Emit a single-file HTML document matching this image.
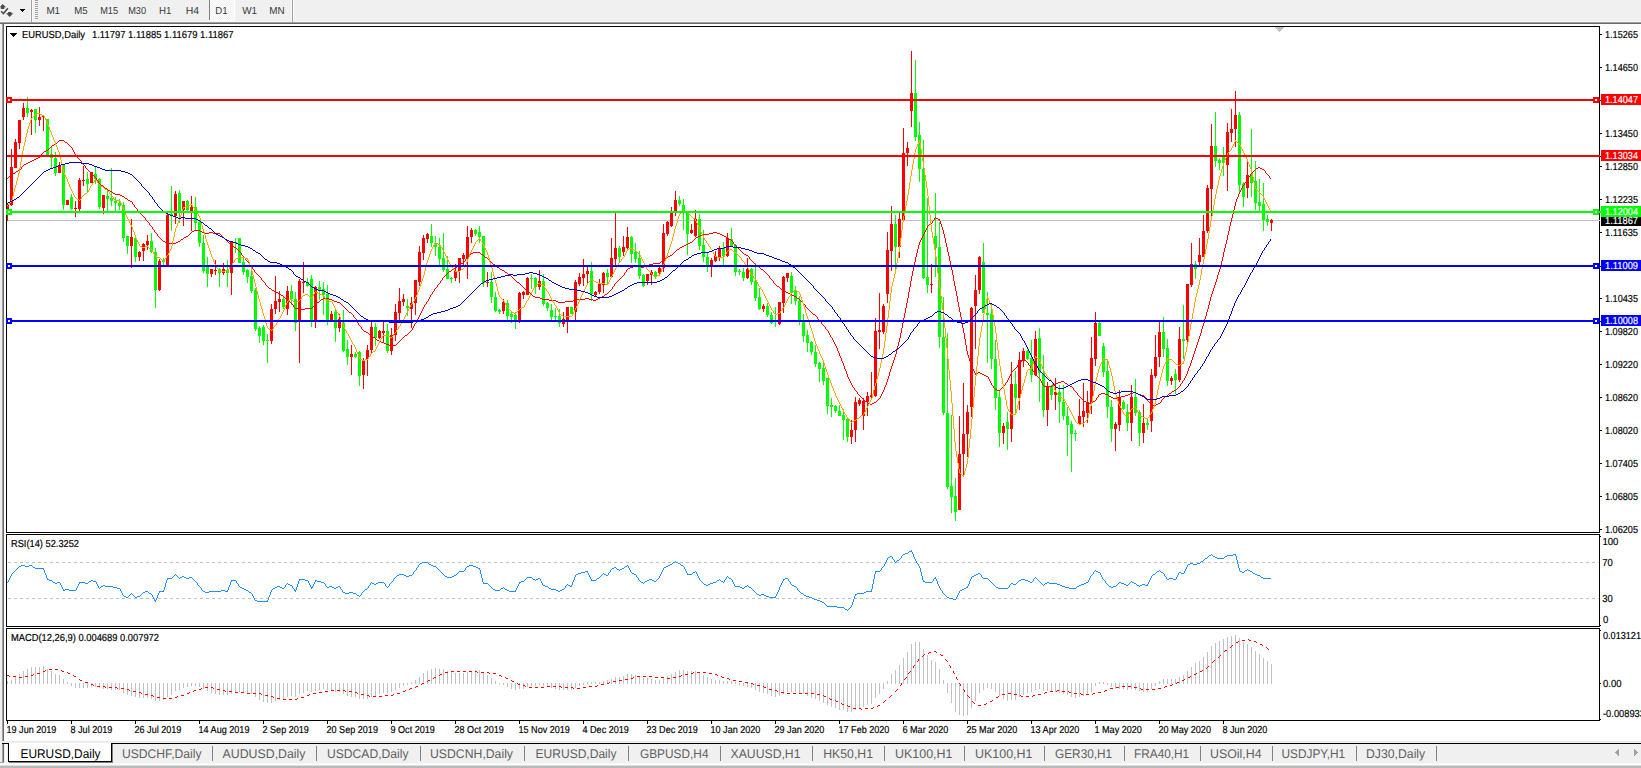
<!DOCTYPE html>
<html><head><meta charset="utf-8"><title>EURUSD,Daily</title>
<style>html,body{margin:0;padding:0;background:#f0f0f0;overflow:hidden}svg{display:block}text{font-family:"Liberation Sans",sans-serif;text-rendering:geometricPrecision;stroke-width:0.18px;paint-order:stroke}</style></head>
<body><svg width="1641" height="768" viewBox="0 0 1641 768" shape-rendering="crispEdges">
<defs><pattern id="ck" width="2" height="2" patternUnits="userSpaceOnUse"><rect width="2" height="2" fill="#f0f0f0"/><rect width="1" height="1" fill="#fff"/><rect x="1" y="1" width="1" height="1" fill="#fff"/></pattern><clipPath id="cm"><rect x="7" y="27" width="1592" height="505"/></clipPath></defs>
<rect x="0" y="0" width="1641" height="768" fill="#f0f0f0"/>
<rect x="4" y="24" width="1637" height="718" fill="#ffffff"/>
<rect x="0" y="21" width="1641" height="1" fill="#f6f6f6"/>
<rect x="0" y="22" width="1641" height="1" fill="#a0a0a0"/>
<rect x="0" y="23" width="1641" height="1" fill="#696969"/>
<rect x="0" y="24" width="2" height="718" fill="#f0f0f0"/>
<rect x="2" y="24" width="1" height="717" fill="#a0a0a0"/>
<rect x="3" y="24" width="1" height="717" fill="#696969"/>
<rect x="30" y="0" width="1" height="21" fill="#f8f8f8"/>
<rect x="31" y="0" width="1" height="22" fill="#a0a0a0"/>
<rect x="32" y="0" width="1" height="21" fill="#ffffff"/>
<rect x="35" y="0" width="3" height="1" fill="#a0a0a0"/>
<rect x="35" y="2" width="3" height="1" fill="#a0a0a0"/>
<rect x="35" y="4" width="3" height="1" fill="#a0a0a0"/>
<rect x="35" y="6" width="3" height="1" fill="#a0a0a0"/>
<rect x="35" y="8" width="3" height="1" fill="#a0a0a0"/>
<rect x="35" y="10" width="3" height="1" fill="#a0a0a0"/>
<rect x="35" y="12" width="3" height="1" fill="#a0a0a0"/>
<rect x="35" y="14" width="3" height="1" fill="#a0a0a0"/>
<rect x="35" y="16" width="3" height="1" fill="#a0a0a0"/>
<rect x="35" y="18" width="3" height="1" fill="#a0a0a0"/>
<rect x="210" y="0" width="24" height="20" fill="url(#ck)"/>
<rect x="209" y="0" width="1" height="20" fill="#808080"/>
<rect x="234" y="0" width="1" height="21" fill="#ffffff"/>
<rect x="209" y="20" width="26" height="1" fill="#ffffff"/>
<rect x="291" y="0" width="1" height="21" fill="#f8f8f8"/>
<rect x="292" y="0" width="1" height="22" fill="#a0a0a0"/>
<rect x="293" y="0" width="1" height="21" fill="#ffffff"/>
<g shape-rendering="auto"><path d="M-0.3 7.3 L2.6 3.9 L6 7.3 L4.3 7.3 L4.3 9 L0.9 9 L0.9 7.3 Z" fill="#4a4a4a"/><path d="M1.1 11.3 L3.4 13.6 L7.9 8.2" stroke="#4a4a4a" stroke-width="1.5" fill="none"/><path d="M6 13.2 L8 13.2 L8 11.9 L11.3 11.9 L11.3 13.2 L13.3 13.2 L9.65 17.1 Z" fill="#4a4a4a"/></g>
<rect x="20" y="9" width="5" height="1" fill="#000"/>
<rect x="21" y="10" width="3" height="1" fill="#000"/>
<rect x="22" y="11" width="1" height="1" fill="#000"/>
<rect x="7" y="220" width="1592" height="1" fill="#c0c0c0"/>
<g clip-path="url(#cm)">
<rect x="7" y="203" width="1" height="18" fill="#ff0000"/>
<rect x="6" y="204" width="3" height="9" fill="#ff0000"/>
<rect x="11" y="149" width="1" height="57" fill="#ff0000"/>
<rect x="10" y="167" width="3" height="38" fill="#ff0000"/>
<rect x="15" y="139" width="1" height="29" fill="#ff0000"/>
<rect x="14" y="142" width="3" height="26" fill="#ff0000"/>
<rect x="19" y="120" width="1" height="29" fill="#ff0000"/>
<rect x="18" y="120" width="3" height="23" fill="#ff0000"/>
<rect x="23" y="103" width="1" height="17" fill="#ff0000"/>
<rect x="22" y="108" width="3" height="9" fill="#ff0000"/>
<rect x="27" y="97" width="1" height="20" fill="#00ff00"/>
<rect x="26" y="108" width="3" height="5" fill="#00ff00"/>
<rect x="31" y="109" width="1" height="26" fill="#ff0000"/>
<rect x="30" y="110" width="3" height="2" fill="#ff0000"/>
<rect x="35" y="109" width="1" height="24" fill="#00ff00"/>
<rect x="34" y="109" width="3" height="11" fill="#00ff00"/>
<rect x="39" y="107" width="1" height="19" fill="#ff0000"/>
<rect x="38" y="117" width="3" height="3" fill="#ff0000"/>
<rect x="43" y="115" width="1" height="16" fill="#ff0000"/>
<rect x="42" y="116" width="3" height="1" fill="#ff0000"/>
<rect x="47" y="119" width="1" height="36" fill="#00ff00"/>
<rect x="46" y="119" width="3" height="36" fill="#00ff00"/>
<rect x="51" y="147" width="1" height="21" fill="#00ff00"/>
<rect x="50" y="154" width="3" height="4" fill="#00ff00"/>
<rect x="55" y="152" width="1" height="24" fill="#00ff00"/>
<rect x="54" y="158" width="3" height="15" fill="#00ff00"/>
<rect x="59" y="162" width="1" height="11" fill="#ff0000"/>
<rect x="58" y="166" width="3" height="7" fill="#ff0000"/>
<rect x="63" y="165" width="1" height="45" fill="#00ff00"/>
<rect x="62" y="165" width="3" height="40" fill="#00ff00"/>
<rect x="67" y="200" width="1" height="5" fill="#ff0000"/>
<rect x="66" y="200" width="3" height="5" fill="#ff0000"/>
<rect x="71" y="194" width="1" height="16" fill="#00ff00"/>
<rect x="70" y="197" width="3" height="12" fill="#00ff00"/>
<rect x="75" y="201" width="1" height="16" fill="#ff0000"/>
<rect x="74" y="208" width="3" height="1" fill="#ff0000"/>
<rect x="79" y="178" width="1" height="33" fill="#ff0000"/>
<rect x="78" y="180" width="3" height="29" fill="#ff0000"/>
<rect x="83" y="166" width="1" height="20" fill="#ff0000"/>
<rect x="82" y="180" width="3" height="1" fill="#ff0000"/>
<rect x="87" y="172" width="1" height="20" fill="#00ff00"/>
<rect x="86" y="179" width="3" height="5" fill="#00ff00"/>
<rect x="91" y="172" width="1" height="11" fill="#ff0000"/>
<rect x="90" y="172" width="3" height="11" fill="#ff0000"/>
<rect x="95" y="167" width="1" height="17" fill="#00ff00"/>
<rect x="94" y="174" width="3" height="5" fill="#00ff00"/>
<rect x="99" y="178" width="1" height="31" fill="#00ff00"/>
<rect x="98" y="179" width="3" height="28" fill="#00ff00"/>
<rect x="103" y="195" width="1" height="19" fill="#ff0000"/>
<rect x="102" y="195" width="3" height="13" fill="#ff0000"/>
<rect x="107" y="189" width="1" height="22" fill="#00ff00"/>
<rect x="106" y="196" width="3" height="3" fill="#00ff00"/>
<rect x="111" y="168" width="1" height="38" fill="#00ff00"/>
<rect x="110" y="198" width="3" height="3" fill="#00ff00"/>
<rect x="115" y="197" width="1" height="15" fill="#00ff00"/>
<rect x="114" y="201" width="3" height="2" fill="#00ff00"/>
<rect x="119" y="199" width="1" height="11" fill="#00ff00"/>
<rect x="118" y="203" width="3" height="3" fill="#00ff00"/>
<rect x="123" y="202" width="1" height="40" fill="#00ff00"/>
<rect x="122" y="205" width="3" height="33" fill="#00ff00"/>
<rect x="127" y="236" width="1" height="18" fill="#00ff00"/>
<rect x="126" y="236" width="3" height="10" fill="#00ff00"/>
<rect x="131" y="219" width="1" height="49" fill="#ff0000"/>
<rect x="130" y="237" width="3" height="9" fill="#ff0000"/>
<rect x="135" y="237" width="1" height="25" fill="#00ff00"/>
<rect x="134" y="238" width="3" height="19" fill="#00ff00"/>
<rect x="139" y="251" width="1" height="10" fill="#ff0000"/>
<rect x="138" y="252" width="3" height="5" fill="#ff0000"/>
<rect x="143" y="243" width="1" height="18" fill="#ff0000"/>
<rect x="142" y="244" width="3" height="7" fill="#ff0000"/>
<rect x="147" y="235" width="1" height="15" fill="#ff0000"/>
<rect x="146" y="241" width="3" height="4" fill="#ff0000"/>
<rect x="151" y="233" width="1" height="20" fill="#00ff00"/>
<rect x="150" y="241" width="3" height="11" fill="#00ff00"/>
<rect x="155" y="248" width="1" height="60" fill="#00ff00"/>
<rect x="154" y="252" width="3" height="38" fill="#00ff00"/>
<rect x="159" y="259" width="1" height="32" fill="#ff0000"/>
<rect x="158" y="261" width="3" height="29" fill="#ff0000"/>
<rect x="163" y="258" width="1" height="7" fill="#00ff00"/>
<rect x="162" y="260" width="3" height="2" fill="#00ff00"/>
<rect x="167" y="212" width="1" height="53" fill="#ff0000"/>
<rect x="166" y="215" width="3" height="50" fill="#ff0000"/>
<rect x="171" y="186" width="1" height="45" fill="#00ff00"/>
<rect x="170" y="214" width="3" height="1" fill="#00ff00"/>
<rect x="175" y="191" width="1" height="33" fill="#ff0000"/>
<rect x="174" y="194" width="3" height="22" fill="#ff0000"/>
<rect x="179" y="190" width="1" height="33" fill="#00ff00"/>
<rect x="178" y="193" width="3" height="18" fill="#00ff00"/>
<rect x="183" y="201" width="1" height="25" fill="#ff0000"/>
<rect x="182" y="201" width="3" height="9" fill="#ff0000"/>
<rect x="187" y="200" width="1" height="11" fill="#00ff00"/>
<rect x="186" y="201" width="3" height="9" fill="#00ff00"/>
<rect x="191" y="196" width="1" height="35" fill="#ff0000"/>
<rect x="190" y="207" width="3" height="4" fill="#ff0000"/>
<rect x="195" y="197" width="1" height="33" fill="#00ff00"/>
<rect x="194" y="207" width="3" height="16" fill="#00ff00"/>
<rect x="199" y="220" width="1" height="27" fill="#00ff00"/>
<rect x="198" y="222" width="3" height="21" fill="#00ff00"/>
<rect x="203" y="235" width="1" height="38" fill="#00ff00"/>
<rect x="202" y="243" width="3" height="28" fill="#00ff00"/>
<rect x="207" y="257" width="1" height="30" fill="#00ff00"/>
<rect x="206" y="267" width="3" height="7" fill="#00ff00"/>
<rect x="211" y="269" width="1" height="8" fill="#ff0000"/>
<rect x="210" y="269" width="3" height="5" fill="#ff0000"/>
<rect x="215" y="260" width="1" height="15" fill="#ff0000"/>
<rect x="214" y="270" width="3" height="1" fill="#ff0000"/>
<rect x="219" y="268" width="1" height="19" fill="#00ff00"/>
<rect x="218" y="269" width="3" height="4" fill="#00ff00"/>
<rect x="223" y="263" width="1" height="12" fill="#ff0000"/>
<rect x="222" y="269" width="3" height="4" fill="#ff0000"/>
<rect x="227" y="260" width="1" height="27" fill="#00ff00"/>
<rect x="226" y="270" width="3" height="3" fill="#00ff00"/>
<rect x="231" y="241" width="1" height="54" fill="#ff0000"/>
<rect x="230" y="241" width="3" height="32" fill="#ff0000"/>
<rect x="235" y="238" width="1" height="15" fill="#00ff00"/>
<rect x="234" y="242" width="3" height="1" fill="#00ff00"/>
<rect x="239" y="238" width="1" height="25" fill="#00ff00"/>
<rect x="238" y="238" width="3" height="25" fill="#00ff00"/>
<rect x="243" y="258" width="1" height="17" fill="#00ff00"/>
<rect x="242" y="262" width="3" height="10" fill="#00ff00"/>
<rect x="247" y="269" width="1" height="14" fill="#00ff00"/>
<rect x="246" y="270" width="3" height="7" fill="#00ff00"/>
<rect x="251" y="271" width="1" height="22" fill="#00ff00"/>
<rect x="250" y="276" width="3" height="15" fill="#00ff00"/>
<rect x="255" y="288" width="1" height="43" fill="#00ff00"/>
<rect x="254" y="290" width="3" height="39" fill="#00ff00"/>
<rect x="259" y="326" width="1" height="17" fill="#00ff00"/>
<rect x="258" y="328" width="3" height="8" fill="#00ff00"/>
<rect x="263" y="325" width="1" height="20" fill="#00ff00"/>
<rect x="262" y="327" width="3" height="14" fill="#00ff00"/>
<rect x="267" y="334" width="1" height="29" fill="#00ff00"/>
<rect x="266" y="340" width="3" height="1" fill="#00ff00"/>
<rect x="271" y="304" width="1" height="40" fill="#ff0000"/>
<rect x="270" y="309" width="3" height="32" fill="#ff0000"/>
<rect x="275" y="276" width="1" height="38" fill="#ff0000"/>
<rect x="274" y="301" width="3" height="8" fill="#ff0000"/>
<rect x="279" y="291" width="1" height="21" fill="#ff0000"/>
<rect x="278" y="299" width="3" height="3" fill="#ff0000"/>
<rect x="283" y="297" width="1" height="12" fill="#00ff00"/>
<rect x="282" y="299" width="3" height="8" fill="#00ff00"/>
<rect x="287" y="286" width="1" height="29" fill="#ff0000"/>
<rect x="286" y="291" width="3" height="18" fill="#ff0000"/>
<rect x="291" y="285" width="1" height="20" fill="#00ff00"/>
<rect x="290" y="291" width="3" height="8" fill="#00ff00"/>
<rect x="295" y="292" width="1" height="39" fill="#00ff00"/>
<rect x="294" y="299" width="3" height="24" fill="#00ff00"/>
<rect x="299" y="279" width="1" height="84" fill="#ff0000"/>
<rect x="298" y="281" width="3" height="41" fill="#ff0000"/>
<rect x="303" y="262" width="1" height="31" fill="#ff0000"/>
<rect x="302" y="282" width="3" height="1" fill="#ff0000"/>
<rect x="307" y="278" width="1" height="9" fill="#00ff00"/>
<rect x="306" y="282" width="3" height="4" fill="#00ff00"/>
<rect x="311" y="275" width="1" height="52" fill="#00ff00"/>
<rect x="310" y="279" width="3" height="42" fill="#00ff00"/>
<rect x="315" y="286" width="1" height="42" fill="#ff0000"/>
<rect x="314" y="287" width="3" height="34" fill="#ff0000"/>
<rect x="319" y="281" width="1" height="19" fill="#00ff00"/>
<rect x="318" y="287" width="3" height="4" fill="#00ff00"/>
<rect x="323" y="282" width="1" height="33" fill="#00ff00"/>
<rect x="322" y="289" width="3" height="6" fill="#00ff00"/>
<rect x="327" y="285" width="1" height="40" fill="#00ff00"/>
<rect x="326" y="294" width="3" height="26" fill="#00ff00"/>
<rect x="331" y="311" width="1" height="10" fill="#ff0000"/>
<rect x="330" y="314" width="3" height="6" fill="#ff0000"/>
<rect x="335" y="310" width="1" height="32" fill="#00ff00"/>
<rect x="334" y="312" width="3" height="16" fill="#00ff00"/>
<rect x="339" y="314" width="1" height="18" fill="#ff0000"/>
<rect x="338" y="319" width="3" height="9" fill="#ff0000"/>
<rect x="343" y="310" width="1" height="42" fill="#00ff00"/>
<rect x="342" y="323" width="3" height="28" fill="#00ff00"/>
<rect x="347" y="340" width="1" height="25" fill="#00ff00"/>
<rect x="346" y="349" width="3" height="8" fill="#00ff00"/>
<rect x="351" y="345" width="1" height="30" fill="#ff0000"/>
<rect x="350" y="354" width="3" height="3" fill="#ff0000"/>
<rect x="355" y="352" width="1" height="6" fill="#00ff00"/>
<rect x="354" y="354" width="3" height="3" fill="#00ff00"/>
<rect x="359" y="351" width="1" height="35" fill="#00ff00"/>
<rect x="358" y="352" width="3" height="24" fill="#00ff00"/>
<rect x="363" y="358" width="1" height="31" fill="#ff0000"/>
<rect x="362" y="360" width="3" height="15" fill="#ff0000"/>
<rect x="367" y="345" width="1" height="31" fill="#ff0000"/>
<rect x="366" y="350" width="3" height="9" fill="#ff0000"/>
<rect x="371" y="322" width="1" height="31" fill="#ff0000"/>
<rect x="370" y="327" width="3" height="23" fill="#ff0000"/>
<rect x="375" y="323" width="1" height="23" fill="#00ff00"/>
<rect x="374" y="327" width="3" height="11" fill="#00ff00"/>
<rect x="379" y="330" width="1" height="9" fill="#ff0000"/>
<rect x="378" y="331" width="3" height="7" fill="#ff0000"/>
<rect x="383" y="322" width="1" height="20" fill="#ff0000"/>
<rect x="382" y="331" width="3" height="2" fill="#ff0000"/>
<rect x="387" y="324" width="1" height="29" fill="#00ff00"/>
<rect x="386" y="331" width="3" height="20" fill="#00ff00"/>
<rect x="391" y="328" width="1" height="27" fill="#ff0000"/>
<rect x="390" y="335" width="3" height="16" fill="#ff0000"/>
<rect x="395" y="304" width="1" height="37" fill="#ff0000"/>
<rect x="394" y="312" width="3" height="23" fill="#ff0000"/>
<rect x="399" y="288" width="1" height="32" fill="#ff0000"/>
<rect x="398" y="301" width="3" height="12" fill="#ff0000"/>
<rect x="403" y="294" width="1" height="12" fill="#ff0000"/>
<rect x="402" y="299" width="3" height="3" fill="#ff0000"/>
<rect x="407" y="299" width="1" height="17" fill="#00ff00"/>
<rect x="406" y="306" width="3" height="2" fill="#00ff00"/>
<rect x="411" y="297" width="1" height="31" fill="#ff0000"/>
<rect x="410" y="303" width="3" height="6" fill="#ff0000"/>
<rect x="415" y="280" width="1" height="35" fill="#ff0000"/>
<rect x="414" y="280" width="3" height="23" fill="#ff0000"/>
<rect x="419" y="246" width="1" height="40" fill="#ff0000"/>
<rect x="418" y="252" width="3" height="30" fill="#ff0000"/>
<rect x="423" y="235" width="1" height="25" fill="#ff0000"/>
<rect x="422" y="238" width="3" height="15" fill="#ff0000"/>
<rect x="427" y="233" width="1" height="10" fill="#ff0000"/>
<rect x="426" y="234" width="3" height="5" fill="#ff0000"/>
<rect x="431" y="224" width="1" height="23" fill="#00ff00"/>
<rect x="430" y="236" width="3" height="7" fill="#00ff00"/>
<rect x="435" y="236" width="1" height="20" fill="#00ff00"/>
<rect x="434" y="243" width="3" height="4" fill="#00ff00"/>
<rect x="439" y="238" width="1" height="27" fill="#00ff00"/>
<rect x="438" y="247" width="3" height="12" fill="#00ff00"/>
<rect x="443" y="233" width="1" height="39" fill="#00ff00"/>
<rect x="442" y="258" width="3" height="12" fill="#00ff00"/>
<rect x="447" y="256" width="1" height="23" fill="#00ff00"/>
<rect x="446" y="269" width="3" height="10" fill="#00ff00"/>
<rect x="451" y="277" width="1" height="6" fill="#00ff00"/>
<rect x="450" y="278" width="3" height="1" fill="#00ff00"/>
<rect x="455" y="264" width="1" height="17" fill="#ff0000"/>
<rect x="454" y="271" width="3" height="7" fill="#ff0000"/>
<rect x="459" y="258" width="1" height="25" fill="#ff0000"/>
<rect x="458" y="258" width="3" height="13" fill="#ff0000"/>
<rect x="463" y="253" width="1" height="12" fill="#ff0000"/>
<rect x="462" y="255" width="3" height="4" fill="#ff0000"/>
<rect x="467" y="226" width="1" height="53" fill="#ff0000"/>
<rect x="466" y="237" width="3" height="21" fill="#ff0000"/>
<rect x="471" y="228" width="1" height="15" fill="#ff0000"/>
<rect x="470" y="230" width="3" height="7" fill="#ff0000"/>
<rect x="475" y="229" width="1" height="7" fill="#00ff00"/>
<rect x="474" y="230" width="3" height="4" fill="#00ff00"/>
<rect x="479" y="226" width="1" height="17" fill="#00ff00"/>
<rect x="478" y="232" width="3" height="5" fill="#00ff00"/>
<rect x="483" y="236" width="1" height="51" fill="#00ff00"/>
<rect x="482" y="236" width="3" height="47" fill="#00ff00"/>
<rect x="487" y="272" width="1" height="15" fill="#ff0000"/>
<rect x="486" y="282" width="3" height="1" fill="#ff0000"/>
<rect x="491" y="272" width="1" height="31" fill="#00ff00"/>
<rect x="490" y="282" width="3" height="15" fill="#00ff00"/>
<rect x="495" y="292" width="1" height="20" fill="#00ff00"/>
<rect x="494" y="297" width="3" height="14" fill="#00ff00"/>
<rect x="499" y="309" width="1" height="5" fill="#00ff00"/>
<rect x="498" y="310" width="3" height="2" fill="#00ff00"/>
<rect x="503" y="299" width="1" height="15" fill="#ff0000"/>
<rect x="502" y="302" width="3" height="9" fill="#ff0000"/>
<rect x="507" y="300" width="1" height="20" fill="#00ff00"/>
<rect x="506" y="303" width="3" height="13" fill="#00ff00"/>
<rect x="511" y="312" width="1" height="11" fill="#00ff00"/>
<rect x="510" y="314" width="3" height="3" fill="#00ff00"/>
<rect x="515" y="312" width="1" height="17" fill="#00ff00"/>
<rect x="514" y="315" width="3" height="6" fill="#00ff00"/>
<rect x="519" y="292" width="1" height="31" fill="#ff0000"/>
<rect x="518" y="293" width="3" height="29" fill="#ff0000"/>
<rect x="523" y="291" width="1" height="8" fill="#ff0000"/>
<rect x="522" y="292" width="3" height="3" fill="#ff0000"/>
<rect x="527" y="277" width="1" height="18" fill="#ff0000"/>
<rect x="526" y="278" width="3" height="17" fill="#ff0000"/>
<rect x="531" y="274" width="1" height="15" fill="#00ff00"/>
<rect x="530" y="278" width="3" height="1" fill="#00ff00"/>
<rect x="535" y="277" width="1" height="17" fill="#00ff00"/>
<rect x="534" y="278" width="3" height="9" fill="#00ff00"/>
<rect x="539" y="270" width="1" height="20" fill="#ff0000"/>
<rect x="538" y="281" width="3" height="6" fill="#ff0000"/>
<rect x="543" y="274" width="1" height="32" fill="#00ff00"/>
<rect x="542" y="281" width="3" height="23" fill="#00ff00"/>
<rect x="547" y="302" width="1" height="9" fill="#00ff00"/>
<rect x="546" y="303" width="3" height="5" fill="#00ff00"/>
<rect x="551" y="304" width="1" height="16" fill="#00ff00"/>
<rect x="550" y="310" width="3" height="7" fill="#00ff00"/>
<rect x="555" y="308" width="1" height="12" fill="#00ff00"/>
<rect x="554" y="316" width="3" height="1" fill="#00ff00"/>
<rect x="559" y="309" width="1" height="18" fill="#00ff00"/>
<rect x="558" y="316" width="3" height="7" fill="#00ff00"/>
<rect x="563" y="312" width="1" height="15" fill="#ff0000"/>
<rect x="562" y="319" width="3" height="5" fill="#ff0000"/>
<rect x="567" y="307" width="1" height="26" fill="#ff0000"/>
<rect x="566" y="307" width="3" height="13" fill="#ff0000"/>
<rect x="571" y="307" width="1" height="7" fill="#00ff00"/>
<rect x="570" y="307" width="3" height="7" fill="#00ff00"/>
<rect x="575" y="280" width="1" height="40" fill="#ff0000"/>
<rect x="574" y="282" width="3" height="30" fill="#ff0000"/>
<rect x="579" y="273" width="1" height="13" fill="#ff0000"/>
<rect x="578" y="277" width="3" height="7" fill="#ff0000"/>
<rect x="583" y="259" width="1" height="27" fill="#ff0000"/>
<rect x="582" y="274" width="3" height="4" fill="#ff0000"/>
<rect x="587" y="267" width="1" height="17" fill="#ff0000"/>
<rect x="586" y="271" width="3" height="3" fill="#ff0000"/>
<rect x="591" y="262" width="1" height="39" fill="#00ff00"/>
<rect x="590" y="271" width="3" height="23" fill="#00ff00"/>
<rect x="595" y="291" width="1" height="6" fill="#ff0000"/>
<rect x="594" y="292" width="3" height="3" fill="#ff0000"/>
<rect x="599" y="279" width="1" height="15" fill="#ff0000"/>
<rect x="598" y="284" width="3" height="8" fill="#ff0000"/>
<rect x="603" y="272" width="1" height="21" fill="#ff0000"/>
<rect x="602" y="273" width="3" height="12" fill="#ff0000"/>
<rect x="607" y="269" width="1" height="15" fill="#00ff00"/>
<rect x="606" y="273" width="3" height="4" fill="#00ff00"/>
<rect x="611" y="238" width="1" height="39" fill="#ff0000"/>
<rect x="610" y="258" width="3" height="19" fill="#ff0000"/>
<rect x="615" y="212" width="1" height="54" fill="#ff0000"/>
<rect x="614" y="248" width="3" height="11" fill="#ff0000"/>
<rect x="619" y="246" width="1" height="16" fill="#00ff00"/>
<rect x="618" y="248" width="3" height="9" fill="#00ff00"/>
<rect x="623" y="236" width="1" height="20" fill="#ff0000"/>
<rect x="622" y="247" width="3" height="5" fill="#ff0000"/>
<rect x="627" y="227" width="1" height="22" fill="#ff0000"/>
<rect x="626" y="237" width="3" height="11" fill="#ff0000"/>
<rect x="631" y="236" width="1" height="27" fill="#00ff00"/>
<rect x="630" y="237" width="3" height="17" fill="#00ff00"/>
<rect x="635" y="243" width="1" height="20" fill="#00ff00"/>
<rect x="634" y="252" width="3" height="7" fill="#00ff00"/>
<rect x="639" y="251" width="1" height="28" fill="#00ff00"/>
<rect x="638" y="258" width="3" height="18" fill="#00ff00"/>
<rect x="643" y="274" width="1" height="13" fill="#00ff00"/>
<rect x="642" y="275" width="3" height="11" fill="#00ff00"/>
<rect x="647" y="274" width="1" height="11" fill="#ff0000"/>
<rect x="646" y="274" width="3" height="7" fill="#ff0000"/>
<rect x="651" y="270" width="1" height="15" fill="#ff0000"/>
<rect x="650" y="272" width="3" height="3" fill="#ff0000"/>
<rect x="655" y="271" width="1" height="8" fill="#00ff00"/>
<rect x="654" y="272" width="3" height="5" fill="#00ff00"/>
<rect x="659" y="267" width="1" height="7" fill="#ff0000"/>
<rect x="658" y="268" width="3" height="5" fill="#ff0000"/>
<rect x="663" y="224" width="1" height="48" fill="#ff0000"/>
<rect x="662" y="233" width="3" height="35" fill="#ff0000"/>
<rect x="667" y="221" width="1" height="15" fill="#ff0000"/>
<rect x="666" y="222" width="3" height="12" fill="#ff0000"/>
<rect x="671" y="207" width="1" height="20" fill="#ff0000"/>
<rect x="670" y="212" width="3" height="14" fill="#ff0000"/>
<rect x="675" y="191" width="1" height="25" fill="#ff0000"/>
<rect x="674" y="200" width="3" height="12" fill="#ff0000"/>
<rect x="679" y="196" width="1" height="10" fill="#00ff00"/>
<rect x="678" y="200" width="3" height="4" fill="#00ff00"/>
<rect x="683" y="199" width="1" height="31" fill="#00ff00"/>
<rect x="682" y="205" width="3" height="8" fill="#00ff00"/>
<rect x="687" y="212" width="1" height="43" fill="#00ff00"/>
<rect x="686" y="212" width="3" height="22" fill="#00ff00"/>
<rect x="691" y="224" width="1" height="10" fill="#ff0000"/>
<rect x="690" y="230" width="3" height="3" fill="#ff0000"/>
<rect x="695" y="210" width="1" height="27" fill="#ff0000"/>
<rect x="694" y="219" width="3" height="17" fill="#ff0000"/>
<rect x="699" y="214" width="1" height="36" fill="#00ff00"/>
<rect x="698" y="219" width="3" height="27" fill="#00ff00"/>
<rect x="703" y="230" width="1" height="32" fill="#00ff00"/>
<rect x="702" y="245" width="3" height="12" fill="#00ff00"/>
<rect x="707" y="252" width="1" height="20" fill="#00ff00"/>
<rect x="706" y="257" width="3" height="8" fill="#00ff00"/>
<rect x="711" y="258" width="1" height="19" fill="#ff0000"/>
<rect x="710" y="260" width="3" height="5" fill="#ff0000"/>
<rect x="715" y="251" width="1" height="11" fill="#ff0000"/>
<rect x="714" y="256" width="3" height="5" fill="#ff0000"/>
<rect x="719" y="246" width="1" height="15" fill="#ff0000"/>
<rect x="718" y="248" width="3" height="9" fill="#ff0000"/>
<rect x="723" y="242" width="1" height="23" fill="#00ff00"/>
<rect x="722" y="248" width="3" height="8" fill="#00ff00"/>
<rect x="727" y="233" width="1" height="24" fill="#ff0000"/>
<rect x="726" y="238" width="3" height="18" fill="#ff0000"/>
<rect x="731" y="228" width="1" height="19" fill="#00ff00"/>
<rect x="730" y="239" width="3" height="8" fill="#00ff00"/>
<rect x="735" y="244" width="1" height="32" fill="#00ff00"/>
<rect x="734" y="245" width="3" height="27" fill="#00ff00"/>
<rect x="739" y="269" width="1" height="6" fill="#00ff00"/>
<rect x="738" y="271" width="3" height="1" fill="#00ff00"/>
<rect x="743" y="268" width="1" height="13" fill="#00ff00"/>
<rect x="742" y="272" width="3" height="6" fill="#00ff00"/>
<rect x="747" y="258" width="1" height="21" fill="#ff0000"/>
<rect x="746" y="269" width="3" height="9" fill="#ff0000"/>
<rect x="751" y="268" width="1" height="17" fill="#00ff00"/>
<rect x="750" y="269" width="3" height="13" fill="#00ff00"/>
<rect x="755" y="263" width="1" height="38" fill="#00ff00"/>
<rect x="754" y="281" width="3" height="17" fill="#00ff00"/>
<rect x="759" y="288" width="1" height="22" fill="#00ff00"/>
<rect x="758" y="297" width="3" height="12" fill="#00ff00"/>
<rect x="763" y="304" width="1" height="8" fill="#ff0000"/>
<rect x="762" y="306" width="3" height="3" fill="#ff0000"/>
<rect x="767" y="303" width="1" height="14" fill="#00ff00"/>
<rect x="766" y="306" width="3" height="9" fill="#00ff00"/>
<rect x="771" y="312" width="1" height="12" fill="#00ff00"/>
<rect x="770" y="315" width="3" height="8" fill="#00ff00"/>
<rect x="775" y="307" width="1" height="20" fill="#00ff00"/>
<rect x="774" y="320" width="3" height="1" fill="#00ff00"/>
<rect x="779" y="302" width="1" height="23" fill="#ff0000"/>
<rect x="778" y="302" width="3" height="22" fill="#ff0000"/>
<rect x="783" y="276" width="1" height="37" fill="#ff0000"/>
<rect x="782" y="277" width="3" height="26" fill="#ff0000"/>
<rect x="787" y="273" width="1" height="9" fill="#ff0000"/>
<rect x="786" y="273" width="3" height="5" fill="#ff0000"/>
<rect x="791" y="272" width="1" height="32" fill="#00ff00"/>
<rect x="790" y="276" width="3" height="17" fill="#00ff00"/>
<rect x="795" y="286" width="1" height="19" fill="#00ff00"/>
<rect x="794" y="291" width="3" height="10" fill="#00ff00"/>
<rect x="799" y="296" width="1" height="29" fill="#00ff00"/>
<rect x="798" y="301" width="3" height="19" fill="#00ff00"/>
<rect x="803" y="314" width="1" height="28" fill="#00ff00"/>
<rect x="802" y="320" width="3" height="16" fill="#00ff00"/>
<rect x="807" y="330" width="1" height="22" fill="#00ff00"/>
<rect x="806" y="335" width="3" height="8" fill="#00ff00"/>
<rect x="811" y="341" width="1" height="14" fill="#00ff00"/>
<rect x="810" y="342" width="3" height="10" fill="#00ff00"/>
<rect x="815" y="345" width="1" height="22" fill="#00ff00"/>
<rect x="814" y="352" width="3" height="12" fill="#00ff00"/>
<rect x="819" y="362" width="1" height="20" fill="#00ff00"/>
<rect x="818" y="363" width="3" height="6" fill="#00ff00"/>
<rect x="823" y="363" width="1" height="22" fill="#00ff00"/>
<rect x="822" y="368" width="3" height="13" fill="#00ff00"/>
<rect x="827" y="378" width="1" height="36" fill="#00ff00"/>
<rect x="826" y="378" width="3" height="28" fill="#00ff00"/>
<rect x="831" y="398" width="1" height="19" fill="#00ff00"/>
<rect x="830" y="405" width="3" height="2" fill="#00ff00"/>
<rect x="835" y="405" width="1" height="8" fill="#00ff00"/>
<rect x="834" y="406" width="3" height="5" fill="#00ff00"/>
<rect x="839" y="405" width="1" height="11" fill="#00ff00"/>
<rect x="838" y="411" width="3" height="5" fill="#00ff00"/>
<rect x="843" y="409" width="1" height="31" fill="#00ff00"/>
<rect x="842" y="415" width="3" height="5" fill="#00ff00"/>
<rect x="847" y="418" width="1" height="24" fill="#00ff00"/>
<rect x="846" y="419" width="3" height="18" fill="#00ff00"/>
<rect x="851" y="420" width="1" height="24" fill="#ff0000"/>
<rect x="850" y="430" width="3" height="7" fill="#ff0000"/>
<rect x="855" y="397" width="1" height="45" fill="#ff0000"/>
<rect x="854" y="402" width="3" height="28" fill="#ff0000"/>
<rect x="859" y="398" width="1" height="8" fill="#ff0000"/>
<rect x="858" y="400" width="3" height="4" fill="#ff0000"/>
<rect x="863" y="398" width="1" height="32" fill="#ff0000"/>
<rect x="862" y="401" width="3" height="15" fill="#ff0000"/>
<rect x="867" y="392" width="1" height="24" fill="#ff0000"/>
<rect x="866" y="396" width="3" height="6" fill="#ff0000"/>
<rect x="871" y="372" width="1" height="28" fill="#ff0000"/>
<rect x="870" y="395" width="3" height="2" fill="#ff0000"/>
<rect x="875" y="318" width="1" height="79" fill="#ff0000"/>
<rect x="874" y="331" width="3" height="65" fill="#ff0000"/>
<rect x="879" y="293" width="1" height="56" fill="#ff0000"/>
<rect x="878" y="330" width="3" height="2" fill="#ff0000"/>
<rect x="883" y="304" width="1" height="30" fill="#ff0000"/>
<rect x="882" y="306" width="3" height="26" fill="#ff0000"/>
<rect x="887" y="232" width="1" height="71" fill="#ff0000"/>
<rect x="886" y="250" width="3" height="44" fill="#ff0000"/>
<rect x="891" y="206" width="1" height="65" fill="#ff0000"/>
<rect x="890" y="224" width="3" height="27" fill="#ff0000"/>
<rect x="895" y="215" width="1" height="54" fill="#00ff00"/>
<rect x="894" y="224" width="3" height="23" fill="#00ff00"/>
<rect x="899" y="213" width="1" height="45" fill="#ff0000"/>
<rect x="898" y="219" width="3" height="28" fill="#ff0000"/>
<rect x="903" y="128" width="1" height="93" fill="#ff0000"/>
<rect x="902" y="153" width="3" height="67" fill="#ff0000"/>
<rect x="907" y="142" width="1" height="24" fill="#ff0000"/>
<rect x="906" y="148" width="3" height="5" fill="#ff0000"/>
<rect x="911" y="51" width="1" height="76" fill="#ff0000"/>
<rect x="910" y="93" width="3" height="18" fill="#ff0000"/>
<rect x="915" y="60" width="1" height="81" fill="#00ff00"/>
<rect x="914" y="93" width="3" height="44" fill="#00ff00"/>
<rect x="919" y="122" width="1" height="60" fill="#00ff00"/>
<rect x="918" y="135" width="3" height="34" fill="#00ff00"/>
<rect x="923" y="140" width="1" height="139" fill="#00ff00"/>
<rect x="922" y="169" width="3" height="109" fill="#00ff00"/>
<rect x="927" y="198" width="1" height="95" fill="#00ff00"/>
<rect x="926" y="277" width="3" height="8" fill="#00ff00"/>
<rect x="931" y="264" width="1" height="29" fill="#ff0000"/>
<rect x="930" y="284" width="3" height="1" fill="#ff0000"/>
<rect x="935" y="193" width="1" height="84" fill="#00ff00"/>
<rect x="934" y="236" width="3" height="12" fill="#00ff00"/>
<rect x="939" y="222" width="1" height="126" fill="#00ff00"/>
<rect x="938" y="247" width="3" height="90" fill="#00ff00"/>
<rect x="943" y="297" width="1" height="118" fill="#00ff00"/>
<rect x="942" y="337" width="3" height="76" fill="#00ff00"/>
<rect x="947" y="333" width="1" height="156" fill="#00ff00"/>
<rect x="946" y="413" width="3" height="74" fill="#00ff00"/>
<rect x="951" y="415" width="1" height="98" fill="#00ff00"/>
<rect x="950" y="486" width="3" height="11" fill="#00ff00"/>
<rect x="955" y="478" width="1" height="43" fill="#00ff00"/>
<rect x="954" y="496" width="3" height="16" fill="#00ff00"/>
<rect x="959" y="416" width="1" height="94" fill="#ff0000"/>
<rect x="958" y="454" width="3" height="56" fill="#ff0000"/>
<rect x="963" y="383" width="1" height="93" fill="#ff0000"/>
<rect x="962" y="434" width="3" height="20" fill="#ff0000"/>
<rect x="967" y="405" width="1" height="52" fill="#ff0000"/>
<rect x="966" y="412" width="3" height="22" fill="#ff0000"/>
<rect x="971" y="307" width="1" height="110" fill="#ff0000"/>
<rect x="970" y="308" width="3" height="99" fill="#ff0000"/>
<rect x="975" y="275" width="1" height="74" fill="#ff0000"/>
<rect x="974" y="290" width="3" height="16" fill="#ff0000"/>
<rect x="979" y="256" width="1" height="38" fill="#ff0000"/>
<rect x="978" y="257" width="3" height="33" fill="#ff0000"/>
<rect x="983" y="243" width="1" height="70" fill="#00ff00"/>
<rect x="982" y="262" width="3" height="51" fill="#00ff00"/>
<rect x="987" y="292" width="1" height="71" fill="#00ff00"/>
<rect x="986" y="313" width="3" height="2" fill="#00ff00"/>
<rect x="991" y="304" width="1" height="65" fill="#00ff00"/>
<rect x="990" y="314" width="3" height="45" fill="#00ff00"/>
<rect x="995" y="340" width="1" height="70" fill="#00ff00"/>
<rect x="994" y="359" width="3" height="39" fill="#00ff00"/>
<rect x="999" y="391" width="1" height="56" fill="#00ff00"/>
<rect x="998" y="397" width="3" height="36" fill="#00ff00"/>
<rect x="1003" y="423" width="1" height="21" fill="#ff0000"/>
<rect x="1002" y="426" width="3" height="7" fill="#ff0000"/>
<rect x="1007" y="412" width="1" height="38" fill="#00ff00"/>
<rect x="1006" y="422" width="3" height="7" fill="#00ff00"/>
<rect x="1011" y="362" width="1" height="80" fill="#ff0000"/>
<rect x="1010" y="384" width="3" height="45" fill="#ff0000"/>
<rect x="1015" y="371" width="1" height="44" fill="#00ff00"/>
<rect x="1014" y="384" width="3" height="14" fill="#00ff00"/>
<rect x="1019" y="352" width="1" height="58" fill="#ff0000"/>
<rect x="1018" y="360" width="3" height="38" fill="#ff0000"/>
<rect x="1023" y="348" width="1" height="19" fill="#ff0000"/>
<rect x="1022" y="351" width="3" height="10" fill="#ff0000"/>
<rect x="1027" y="350" width="1" height="10" fill="#00ff00"/>
<rect x="1026" y="351" width="3" height="8" fill="#00ff00"/>
<rect x="1031" y="340" width="1" height="42" fill="#00ff00"/>
<rect x="1030" y="358" width="3" height="17" fill="#00ff00"/>
<rect x="1035" y="331" width="1" height="45" fill="#ff0000"/>
<rect x="1034" y="339" width="3" height="36" fill="#ff0000"/>
<rect x="1039" y="328" width="1" height="74" fill="#00ff00"/>
<rect x="1038" y="338" width="3" height="35" fill="#00ff00"/>
<rect x="1043" y="355" width="1" height="62" fill="#00ff00"/>
<rect x="1042" y="373" width="3" height="37" fill="#00ff00"/>
<rect x="1047" y="382" width="1" height="44" fill="#ff0000"/>
<rect x="1046" y="386" width="3" height="24" fill="#ff0000"/>
<rect x="1051" y="385" width="1" height="15" fill="#00ff00"/>
<rect x="1050" y="386" width="3" height="9" fill="#00ff00"/>
<rect x="1055" y="378" width="1" height="32" fill="#ff0000"/>
<rect x="1054" y="392" width="3" height="3" fill="#ff0000"/>
<rect x="1059" y="385" width="1" height="38" fill="#00ff00"/>
<rect x="1058" y="392" width="3" height="10" fill="#00ff00"/>
<rect x="1063" y="385" width="1" height="35" fill="#00ff00"/>
<rect x="1062" y="402" width="3" height="14" fill="#00ff00"/>
<rect x="1067" y="407" width="1" height="49" fill="#00ff00"/>
<rect x="1066" y="416" width="3" height="9" fill="#00ff00"/>
<rect x="1071" y="421" width="1" height="51" fill="#00ff00"/>
<rect x="1070" y="424" width="3" height="10" fill="#00ff00"/>
<rect x="1075" y="430" width="1" height="11" fill="#00ff00"/>
<rect x="1074" y="433" width="3" height="1" fill="#00ff00"/>
<rect x="1079" y="399" width="1" height="26" fill="#ff0000"/>
<rect x="1078" y="416" width="3" height="8" fill="#ff0000"/>
<rect x="1083" y="383" width="1" height="44" fill="#ff0000"/>
<rect x="1082" y="411" width="3" height="6" fill="#ff0000"/>
<rect x="1087" y="391" width="1" height="32" fill="#ff0000"/>
<rect x="1086" y="402" width="3" height="11" fill="#ff0000"/>
<rect x="1091" y="337" width="1" height="77" fill="#ff0000"/>
<rect x="1090" y="358" width="3" height="45" fill="#ff0000"/>
<rect x="1095" y="312" width="1" height="54" fill="#ff0000"/>
<rect x="1094" y="323" width="3" height="36" fill="#ff0000"/>
<rect x="1099" y="322" width="1" height="14" fill="#00ff00"/>
<rect x="1098" y="323" width="3" height="13" fill="#00ff00"/>
<rect x="1103" y="343" width="1" height="34" fill="#00ff00"/>
<rect x="1102" y="346" width="3" height="26" fill="#00ff00"/>
<rect x="1107" y="361" width="1" height="57" fill="#00ff00"/>
<rect x="1106" y="371" width="3" height="36" fill="#00ff00"/>
<rect x="1111" y="400" width="1" height="42" fill="#00ff00"/>
<rect x="1110" y="407" width="3" height="22" fill="#00ff00"/>
<rect x="1115" y="422" width="1" height="29" fill="#ff0000"/>
<rect x="1114" y="424" width="3" height="5" fill="#ff0000"/>
<rect x="1119" y="390" width="1" height="41" fill="#ff0000"/>
<rect x="1118" y="398" width="3" height="27" fill="#ff0000"/>
<rect x="1123" y="400" width="1" height="10" fill="#00ff00"/>
<rect x="1122" y="402" width="3" height="7" fill="#00ff00"/>
<rect x="1127" y="404" width="1" height="27" fill="#00ff00"/>
<rect x="1126" y="412" width="3" height="11" fill="#00ff00"/>
<rect x="1131" y="385" width="1" height="56" fill="#ff0000"/>
<rect x="1130" y="397" width="3" height="26" fill="#ff0000"/>
<rect x="1135" y="379" width="1" height="37" fill="#00ff00"/>
<rect x="1134" y="397" width="3" height="16" fill="#00ff00"/>
<rect x="1139" y="410" width="1" height="36" fill="#00ff00"/>
<rect x="1138" y="412" width="3" height="21" fill="#00ff00"/>
<rect x="1143" y="404" width="1" height="39" fill="#ff0000"/>
<rect x="1142" y="423" width="3" height="10" fill="#ff0000"/>
<rect x="1147" y="419" width="1" height="11" fill="#00ff00"/>
<rect x="1146" y="423" width="3" height="2" fill="#00ff00"/>
<rect x="1151" y="369" width="1" height="63" fill="#ff0000"/>
<rect x="1150" y="375" width="3" height="46" fill="#ff0000"/>
<rect x="1155" y="335" width="1" height="43" fill="#ff0000"/>
<rect x="1154" y="357" width="3" height="19" fill="#ff0000"/>
<rect x="1159" y="322" width="1" height="45" fill="#ff0000"/>
<rect x="1158" y="332" width="3" height="25" fill="#ff0000"/>
<rect x="1163" y="317" width="1" height="40" fill="#00ff00"/>
<rect x="1162" y="332" width="3" height="17" fill="#00ff00"/>
<rect x="1167" y="339" width="1" height="47" fill="#00ff00"/>
<rect x="1166" y="348" width="3" height="33" fill="#00ff00"/>
<rect x="1171" y="376" width="1" height="9" fill="#ff0000"/>
<rect x="1170" y="378" width="3" height="3" fill="#ff0000"/>
<rect x="1175" y="369" width="1" height="25" fill="#00ff00"/>
<rect x="1174" y="374" width="3" height="6" fill="#00ff00"/>
<rect x="1179" y="327" width="1" height="55" fill="#ff0000"/>
<rect x="1178" y="339" width="3" height="41" fill="#ff0000"/>
<rect x="1183" y="305" width="1" height="54" fill="#00ff00"/>
<rect x="1182" y="339" width="3" height="2" fill="#00ff00"/>
<rect x="1187" y="284" width="1" height="58" fill="#ff0000"/>
<rect x="1186" y="284" width="3" height="56" fill="#ff0000"/>
<rect x="1191" y="243" width="1" height="44" fill="#ff0000"/>
<rect x="1190" y="264" width="3" height="21" fill="#ff0000"/>
<rect x="1195" y="261" width="1" height="18" fill="#00ff00"/>
<rect x="1194" y="264" width="3" height="5" fill="#00ff00"/>
<rect x="1199" y="238" width="1" height="29" fill="#ff0000"/>
<rect x="1198" y="255" width="3" height="7" fill="#ff0000"/>
<rect x="1203" y="215" width="1" height="42" fill="#ff0000"/>
<rect x="1202" y="231" width="3" height="26" fill="#ff0000"/>
<rect x="1207" y="185" width="1" height="48" fill="#ff0000"/>
<rect x="1206" y="188" width="3" height="43" fill="#ff0000"/>
<rect x="1211" y="124" width="1" height="92" fill="#ff0000"/>
<rect x="1210" y="146" width="3" height="43" fill="#ff0000"/>
<rect x="1215" y="112" width="1" height="55" fill="#00ff00"/>
<rect x="1214" y="146" width="3" height="15" fill="#00ff00"/>
<rect x="1219" y="158" width="1" height="12" fill="#00ff00"/>
<rect x="1218" y="160" width="3" height="3" fill="#00ff00"/>
<rect x="1223" y="147" width="1" height="29" fill="#00ff00"/>
<rect x="1222" y="157" width="3" height="6" fill="#00ff00"/>
<rect x="1227" y="123" width="1" height="68" fill="#ff0000"/>
<rect x="1226" y="132" width="3" height="33" fill="#ff0000"/>
<rect x="1231" y="109" width="1" height="33" fill="#ff0000"/>
<rect x="1230" y="129" width="3" height="4" fill="#ff0000"/>
<rect x="1235" y="91" width="1" height="56" fill="#ff0000"/>
<rect x="1234" y="115" width="3" height="14" fill="#ff0000"/>
<rect x="1239" y="112" width="1" height="82" fill="#00ff00"/>
<rect x="1238" y="115" width="3" height="70" fill="#00ff00"/>
<rect x="1243" y="182" width="1" height="25" fill="#00ff00"/>
<rect x="1242" y="184" width="3" height="13" fill="#00ff00"/>
<rect x="1247" y="162" width="1" height="36" fill="#ff0000"/>
<rect x="1246" y="175" width="3" height="13" fill="#ff0000"/>
<rect x="1251" y="129" width="1" height="68" fill="#00ff00"/>
<rect x="1250" y="175" width="3" height="8" fill="#00ff00"/>
<rect x="1255" y="161" width="1" height="49" fill="#00ff00"/>
<rect x="1254" y="181" width="3" height="22" fill="#00ff00"/>
<rect x="1259" y="179" width="1" height="32" fill="#00ff00"/>
<rect x="1258" y="202" width="3" height="4" fill="#00ff00"/>
<rect x="1263" y="183" width="1" height="48" fill="#00ff00"/>
<rect x="1262" y="204" width="3" height="16" fill="#00ff00"/>
<rect x="1267" y="215" width="1" height="11" fill="#00ff00"/>
<rect x="1266" y="219" width="3" height="3" fill="#00ff00"/>
<rect x="1271" y="219" width="1" height="12" fill="#ff0000"/>
<rect x="1270" y="220" width="3" height="3" fill="#ff0000"/>
<path d="M7 178h1v1h-1zM8 177h1v1h-1zM9 176h2v1h-2zM11 175h1v1h-1zM12 174h1v1h-1zM13 173h2v1h-2zM15 172h1v1h-1zM16 171h2v1h-2zM18 170h2v1h-2zM20 169h1v1h-1zM21 167h1v2h-1zM22 166h1v1h-1zM23 165h1v1h-1zM24 164h2v1h-2zM26 163h2v1h-2zM28 162h2v1h-2zM30 161h2v1h-2zM32 160h2v1h-2zM34 159h2v1h-2zM36 158h2v1h-2zM38 157h2v1h-2zM40 156h1v1h-1zM41 154h1v2h-1zM42 153h1v1h-1zM43 152h1v1h-1zM44 151h2v1h-2zM46 150h2v1h-2zM48 149h1v1h-1zM49 148h1v1h-1zM50 147h1v1h-1zM51 146h1v1h-1zM52 145h2v1h-2zM54 144h2v1h-2zM56 143h1v1h-1zM57 142h1v1h-1zM58 141h1v1h-1zM59 140h5v1h-5zM64 141h1v1h-1zM65 142h2v1h-2zM67 143h1v1h-1zM68 144h1v1h-1zM69 145h1v1h-1zM70 146h1v1h-1zM71 147h1v1h-1zM72 148h1v2h-1zM73 150h1v2h-1zM74 152h1v2h-1zM75 154h1v1h-1zM76 155h1v1h-1zM77 156h1v2h-1zM78 158h1v1h-1zM79 159h1v1h-1zM80 160h1v1h-1zM81 161h1v2h-1zM82 163h1v1h-1zM83 164h1v1h-1zM84 165h1v1h-1zM85 166h1v2h-1zM86 168h1v1h-1zM87 169h1v1h-1zM88 170h1v1h-1zM89 171h1v1h-1zM90 172h1v1h-1zM91 173h1v1h-1zM92 174h1v1h-1zM93 175h1v1h-1zM94 176h1v1h-1zM95 177h1v1h-1zM96 178h1v2h-1zM97 180h1v1h-1zM98 181h1v2h-1zM99 183h1v1h-1zM100 184h1v1h-1zM101 185h2v1h-2zM103 186h1v1h-1zM104 187h1v1h-1zM105 188h2v1h-2zM107 189h1v1h-1zM108 190h2v1h-2zM110 191h2v1h-2zM112 192h1v1h-1zM113 193h2v1h-2zM115 194h5v1h-5zM120 195h2v1h-2zM122 196h2v1h-2zM124 197h1v1h-1zM125 198h2v1h-2zM127 199h1v1h-1zM128 200h2v1h-2zM130 201h2v1h-2zM132 202h1v2h-1zM133 204h1v1h-1zM134 205h1v2h-1zM135 207h1v1h-1zM136 208h1v1h-1zM137 209h1v2h-1zM138 211h1v1h-1zM139 212h1v1h-1zM140 213h1v1h-1zM141 214h1v1h-1zM142 215h1v1h-1zM143 216h1v1h-1zM144 217h1v1h-1zM145 218h1v2h-1zM146 220h1v1h-1zM147 221h1v1h-1zM148 222h1v1h-1zM149 223h1v2h-1zM150 225h1v1h-1zM151 226h1v1h-1zM152 227h1v2h-1zM153 229h1v1h-1zM154 230h1v2h-1zM155 232h1v1h-1zM156 233h1v1h-1zM157 234h1v2h-1zM158 236h1v1h-1zM159 237h1v1h-1zM160 238h1v1h-1zM161 239h1v1h-1zM162 240h1v1h-1zM163 241h2v1h-2zM165 242h4v1h-4zM169 243h7v1h-7zM176 242h2v1h-2zM178 241h2v1h-2zM180 240h1v1h-1zM181 239h2v1h-2zM183 238h1v1h-1zM184 237h2v1h-2zM186 236h2v1h-2zM188 235h1v1h-1zM189 234h1v1h-1zM190 233h1v1h-1zM191 232h1v1h-1zM192 231h2v1h-2zM194 230h6v1h-6zM200 231h2v1h-2zM202 232h3v1h-3zM205 233h4v1h-4zM209 232h4v1h-4zM213 233h7v1h-7zM220 234h1v1h-1zM221 235h1v1h-1zM222 236h1v1h-1zM223 237h1v1h-1zM224 238h1v1h-1zM225 239h1v1h-1zM226 240h1v1h-1zM227 241h1v1h-1zM228 242h1v1h-1zM229 243h1v1h-1zM230 244h1v1h-1zM231 245h1v1h-1zM232 246h2v1h-2zM234 247h2v1h-2zM236 248h1v1h-1zM237 249h1v1h-1zM238 250h1v1h-1zM239 251h1v1h-1zM240 252h1v1h-1zM241 253h1v2h-1zM242 255h1v1h-1zM243 256h1v1h-1zM244 257h1v1h-1zM245 258h1v2h-1zM246 260h1v1h-1zM247 261h1v1h-1zM248 262h1v1h-1zM249 263h1v2h-1zM250 265h1v1h-1zM251 266h1v1h-1zM252 267h1v2h-1zM253 269h1v1h-1zM254 270h1v2h-1zM255 272h1v1h-1zM256 273h1v1h-1zM257 274h1v1h-1zM258 275h1v1h-1zM259 276h1v1h-1zM260 277h1v1h-1zM261 278h1v2h-1zM262 280h1v1h-1zM263 281h1v1h-1zM264 282h1v1h-1zM265 283h1v2h-1zM266 285h1v1h-1zM267 286h1v1h-1zM268 287h1v1h-1zM269 288h2v1h-2zM271 289h1v1h-1zM272 290h2v1h-2zM274 291h2v1h-2zM276 292h2v1h-2zM278 293h2v1h-2zM280 294h1v1h-1zM281 295h2v1h-2zM283 296h1v1h-1zM284 297h1v1h-1zM285 298h2v1h-2zM287 299h1v1h-1zM288 300h1v1h-1zM289 301h1v1h-1zM290 302h1v1h-1zM291 303h1v1h-1zM292 304h1v1h-1zM293 305h1v2h-1zM294 307h1v1h-1zM295 308h6v1h-6zM301 309h4v1h-4zM305 308h7v1h-7zM312 307h1v1h-1zM313 306h1v1h-1zM314 305h1v1h-1zM315 304h1v1h-1zM316 303h1v1h-1zM317 302h2v1h-2zM319 301h1v1h-1zM320 300h1v1h-1zM321 299h2v1h-2zM323 298h6v1h-6zM329 299h3v1h-3zM332 300h2v1h-2zM334 301h3v1h-3zM337 302h3v1h-3zM340 303h1v1h-1zM341 304h1v1h-1zM342 305h1v1h-1zM343 306h1v1h-1zM344 307h1v1h-1zM345 308h1v1h-1zM346 309h1v1h-1zM347 310h1v1h-1zM348 311h1v1h-1zM349 312h2v1h-2zM351 313h1v1h-1zM352 314h1v1h-1zM353 315h1v2h-1zM354 317h1v1h-1zM355 318h1v1h-1zM356 319h1v2h-1zM357 321h1v2h-1zM358 323h1v2h-1zM359 325h1v1h-1zM360 326h1v1h-1zM361 327h1v2h-1zM362 329h1v1h-1zM363 330h1v1h-1zM364 331h2v1h-2zM366 332h2v1h-2zM368 333h1v1h-1zM369 334h2v1h-2zM371 335h1v1h-1zM372 336h1v1h-1zM373 337h2v1h-2zM375 338h1v1h-1zM376 339h1v1h-1zM377 340h2v1h-2zM379 341h2v1h-2zM381 342h3v1h-3zM384 343h2v1h-2zM386 344h3v1h-3zM389 345h7v1h-7zM396 344h1v1h-1zM397 343h1v1h-1zM398 342h1v1h-1zM399 341h1v1h-1zM400 340h1v1h-1zM401 339h1v1h-1zM402 338h1v1h-1zM403 337h1v1h-1zM404 336h1v1h-1zM405 335h2v1h-2zM407 334h1v1h-1zM408 333h1v1h-1zM409 332h1v1h-1zM410 331h1v1h-1zM411 330h1v1h-1zM412 328h1v2h-1zM413 326h1v2h-1zM414 324h1v2h-1zM415 323h1v1h-1zM416 321h1v2h-1zM417 319h1v2h-1zM418 317h1v2h-1zM419 315h1v2h-1zM420 313h1v2h-1zM421 311h1v2h-1zM422 309h1v2h-1zM423 307h1v2h-1zM424 305h1v2h-1zM425 304h1v1h-1zM426 302h1v2h-1zM427 301h1v1h-1zM428 299h1v2h-1zM429 297h1v2h-1zM430 295h1v2h-1zM431 294h1v1h-1zM432 292h1v2h-1zM433 291h1v1h-1zM434 289h1v2h-1zM435 288h1v1h-1zM436 287h1v1h-1zM437 285h1v2h-1zM438 284h1v1h-1zM439 283h1v1h-1zM440 281h1v2h-1zM441 280h1v1h-1zM442 278h1v2h-1zM443 277h1v1h-1zM444 276h1v1h-1zM445 275h1v1h-1zM446 274h1v1h-1zM447 273h1v1h-1zM448 272h1v1h-1zM449 271h2v1h-2zM451 270h1v1h-1zM452 269h2v1h-2zM454 268h2v1h-2zM456 267h1v1h-1zM457 266h2v1h-2zM459 265h1v1h-1zM460 264h1v1h-1zM461 263h2v1h-2zM463 262h1v1h-1zM464 261h1v1h-1zM465 259h1v2h-1zM466 258h1v1h-1zM467 257h1v1h-1zM468 256h1v1h-1zM469 255h1v1h-1zM470 254h1v1h-1zM471 253h2v1h-2zM473 252h7v1h-7zM480 253h1v1h-1zM481 254h2v1h-2zM483 255h1v1h-1zM484 256h1v1h-1zM485 257h2v1h-2zM487 258h1v1h-1zM488 259h1v1h-1zM489 260h1v1h-1zM490 261h1v1h-1zM491 262h1v1h-1zM492 263h1v1h-1zM493 264h2v1h-2zM495 265h1v1h-1zM496 266h1v1h-1zM497 267h2v1h-2zM499 268h1v1h-1zM500 269h2v1h-2zM502 270h2v1h-2zM504 271h1v1h-1zM505 272h2v1h-2zM507 273h1v1h-1zM508 274h1v1h-1zM509 275h2v1h-2zM511 276h1v1h-1zM512 277h1v1h-1zM513 278h1v1h-1zM514 279h1v1h-1zM515 280h1v1h-1zM516 281h1v1h-1zM517 282h2v1h-2zM519 283h1v1h-1zM520 284h1v1h-1zM521 285h1v1h-1zM522 286h1v1h-1zM523 287h1v1h-1zM524 288h1v1h-1zM525 289h2v1h-2zM527 290h1v1h-1zM528 291h1v1h-1zM529 292h1v1h-1zM530 293h1v1h-1zM531 294h1v1h-1zM532 295h1v1h-1zM533 296h2v1h-2zM535 297h5v1h-5zM540 298h2v1h-2zM542 299h7v1h-7zM549 300h7v1h-7zM556 301h2v1h-2zM558 302h7v1h-7zM565 301h8v1h-8zM573 300h4v1h-4zM577 299h8v1h-8zM585 298h4v1h-4zM589 299h4v1h-4zM593 300h3v1h-3zM596 299h2v1h-2zM598 298h2v1h-2zM600 297h2v1h-2zM602 296h2v1h-2zM604 295h1v1h-1zM605 294h2v1h-2zM607 293h1v1h-1zM608 292h1v1h-1zM609 291h1v1h-1zM610 290h1v1h-1zM611 289h1v1h-1zM612 287h1v2h-1zM613 286h1v1h-1zM614 284h1v2h-1zM615 283h1v1h-1zM616 282h1v1h-1zM617 281h1v1h-1zM618 280h1v1h-1zM619 279h1v1h-1zM620 278h1v1h-1zM621 277h1v1h-1zM622 276h1v1h-1zM623 275h1v1h-1zM624 273h1v2h-1zM625 272h1v1h-1zM626 270h1v2h-1zM627 269h1v1h-1zM628 268h2v1h-2zM630 267h3v1h-3zM633 266h8v1h-8zM641 267h3v1h-3zM644 266h2v1h-2zM646 265h3v1h-3zM649 264h4v1h-4zM653 263h7v1h-7zM660 262h1v1h-1zM661 261h2v1h-2zM663 260h1v1h-1zM664 259h1v1h-1zM665 258h2v1h-2zM667 257h1v1h-1zM668 256h2v1h-2zM670 255h2v1h-2zM672 254h1v1h-1zM673 253h1v1h-1zM674 252h1v1h-1zM675 251h1v1h-1zM676 250h1v1h-1zM677 249h2v1h-2zM679 248h1v1h-1zM680 247h2v1h-2zM682 246h2v1h-2zM684 245h2v1h-2zM686 244h2v1h-2zM688 243h2v1h-2zM690 242h2v1h-2zM692 241h1v1h-1zM693 240h1v1h-1zM694 239h1v1h-1zM695 238h1v1h-1zM696 237h2v1h-2zM698 236h2v1h-2zM700 235h2v1h-2zM702 234h7v1h-7zM709 233h4v1h-4zM713 232h4v1h-4zM717 233h3v1h-3zM720 234h2v1h-2zM722 235h2v1h-2zM724 236h2v1h-2zM726 237h2v1h-2zM728 238h1v1h-1zM729 239h2v1h-2zM731 240h1v1h-1zM732 241h1v1h-1zM733 242h1v2h-1zM734 244h1v1h-1zM735 245h1v1h-1zM736 246h1v1h-1zM737 247h1v1h-1zM738 248h1v1h-1zM739 249h1v1h-1zM740 250h1v1h-1zM741 251h1v1h-1zM742 252h1v1h-1zM743 253h1v1h-1zM744 254h2v1h-2zM746 255h2v1h-2zM748 256h1v1h-1zM749 257h1v2h-1zM750 259h1v1h-1zM751 260h1v1h-1zM752 261h1v1h-1zM753 262h1v1h-1zM754 263h1v1h-1zM755 264h1v1h-1zM756 265h1v1h-1zM757 266h2v1h-2zM759 267h1v1h-1zM760 268h1v1h-1zM761 269h2v1h-2zM763 270h1v1h-1zM764 271h1v1h-1zM765 272h1v1h-1zM766 273h1v1h-1zM767 274h1v1h-1zM768 275h1v1h-1zM769 276h1v2h-1zM770 278h1v1h-1zM771 279h1v1h-1zM772 280h1v1h-1zM773 281h1v2h-1zM774 283h1v1h-1zM775 284h1v1h-1zM776 285h1v1h-1zM777 286h2v1h-2zM779 287h1v1h-1zM780 288h1v1h-1zM781 289h2v1h-2zM783 290h1v1h-1zM784 291h2v1h-2zM786 292h2v1h-2zM788 293h2v1h-2zM790 294h2v1h-2zM792 295h2v1h-2zM794 296h2v1h-2zM796 297h1v1h-1zM797 298h2v1h-2zM799 299h1v1h-1zM800 300h1v1h-1zM801 301h1v1h-1zM802 302h1v1h-1zM803 303h1v1h-1zM804 304h1v1h-1zM805 305h1v2h-1zM806 307h1v1h-1zM807 308h1v1h-1zM808 309h1v1h-1zM809 310h1v1h-1zM810 311h1v1h-1zM811 312h1v1h-1zM812 313h1v1h-1zM813 314h2v1h-2zM815 315h1v1h-1zM816 316h1v1h-1zM817 317h1v2h-1zM818 319h1v1h-1zM819 320h1v1h-1zM820 321h1v1h-1zM821 322h1v2h-1zM822 324h1v1h-1zM823 325h1v1h-1zM824 326h1v1h-1zM825 327h1v2h-1zM826 329h1v1h-1zM827 330h1v1h-1zM828 331h1v2h-1zM829 333h1v2h-1zM830 335h1v2h-1zM831 337h1v1h-1zM832 338h1v2h-1zM833 340h1v2h-1zM834 342h1v2h-1zM835 344h1v2h-1zM836 346h1v2h-1zM837 348h1v3h-1zM838 351h1v2h-1zM839 353h1v3h-1zM840 356h1v2h-1zM841 358h1v3h-1zM842 361h1v2h-1zM843 363h1v3h-1zM844 366h1v3h-1zM845 369h1v2h-1zM846 371h1v3h-1zM847 374h1v3h-1zM848 377h1v2h-1zM849 379h1v2h-1zM850 381h1v2h-1zM851 383h1v2h-1zM852 385h1v2h-1zM853 387h1v1h-1zM854 388h1v2h-1zM855 390h1v1h-1zM856 391h1v1h-1zM857 392h1v2h-1zM858 394h1v1h-1zM859 395h1v1h-1zM860 396h1v1h-1zM861 397h1v1h-1zM862 398h1v1h-1zM863 399h1v1h-1zM864 400h1v1h-1zM865 401h2v1h-2zM867 402h1v1h-1zM868 403h2v1h-2zM870 404h2v1h-2zM872 403h2v1h-2zM874 402h2v1h-2zM876 401h1v1h-1zM877 400h1v1h-1zM878 399h1v1h-1zM879 398h1v1h-1zM880 396h1v2h-1zM881 394h1v2h-1zM882 392h1v2h-1zM883 390h1v2h-1zM884 387h1v3h-1zM885 385h1v2h-1zM886 382h1v3h-1zM887 379h1v3h-1zM888 376h1v3h-1zM889 372h1v4h-1zM890 369h1v3h-1zM891 366h1v3h-1zM892 363h1v3h-1zM893 360h1v3h-1zM894 357h1v3h-1zM895 354h1v3h-1zM896 350h1v4h-1zM897 346h1v4h-1zM898 342h1v4h-1zM899 338h1v4h-1zM900 333h1v5h-1zM901 328h1v5h-1zM902 323h1v5h-1zM903 318h1v5h-1zM904 313h1v5h-1zM905 308h1v5h-1zM906 303h1v5h-1zM907 298h1v5h-1zM908 292h1v6h-1zM909 287h1v5h-1zM910 281h1v6h-1zM911 276h1v5h-1zM912 271h1v5h-1zM913 267h1v4h-1zM914 262h1v5h-1zM915 257h1v5h-1zM916 253h1v4h-1zM917 249h1v4h-1zM918 245h1v4h-1zM919 242h1v3h-1zM920 240h1v2h-1zM921 238h1v2h-1zM922 236h1v2h-1zM923 234h1v2h-1zM924 232h1v2h-1zM925 230h1v2h-1zM926 228h1v2h-1zM927 226h1v2h-1zM928 225h1v1h-1zM929 224h2v1h-2zM931 223h1v1h-1zM932 221h1v2h-1zM933 220h1v1h-1zM934 218h1v2h-1zM935 217h1v1h-1zM936 218h2v1h-2zM938 219h2v1h-2zM939 220h1v1h-1zM940 221h1v3h-1zM941 224h1v3h-1zM942 227h1v3h-1zM943 230h1v4h-1zM944 234h1v4h-1zM945 238h1v5h-1zM946 243h1v4h-1zM947 247h1v5h-1zM948 252h1v4h-1zM949 256h1v5h-1zM950 261h1v4h-1zM951 265h1v5h-1zM952 270h1v5h-1zM953 275h1v6h-1zM954 281h1v5h-1zM955 286h1v5h-1zM956 291h1v5h-1zM957 296h1v6h-1zM958 302h1v5h-1zM959 307h1v5h-1zM960 312h1v5h-1zM961 317h1v6h-1zM962 323h1v5h-1zM963 328h1v5h-1zM964 333h1v6h-1zM965 339h1v6h-1zM966 345h1v6h-1zM967 351h1v4h-1zM968 355h1v3h-1zM969 358h1v3h-1zM970 361h1v3h-1zM971 364h1v3h-1zM972 367h1v2h-1zM973 369h1v2h-1zM974 371h1v2h-1zM975 373h1v2h-1zM976 373h2v1h-2zM978 372h2v1h-2zM980 373h2v1h-2zM982 374h2v1h-2zM984 375h2v1h-2zM986 376h2v1h-2zM988 377h1v2h-1zM989 379h1v2h-1zM990 381h1v2h-1zM991 383h1v2h-1zM992 385h1v1h-1zM993 386h1v2h-1zM994 388h1v1h-1zM995 389h2v1h-2zM997 390h3v1h-3zM1000 389h1v1h-1zM1001 388h1v1h-1zM1002 387h1v1h-1zM1003 386h1v1h-1zM1004 385h1v1h-1zM1005 383h1v2h-1zM1006 382h1v1h-1zM1007 380h1v2h-1zM1008 378h1v2h-1zM1009 376h1v2h-1zM1010 374h1v2h-1zM1011 372h1v2h-1zM1012 371h1v1h-1zM1013 370h1v1h-1zM1014 369h1v1h-1zM1015 368h1v1h-1zM1016 367h1v1h-1zM1017 365h1v2h-1zM1018 364h1v1h-1zM1019 363h1v1h-1zM1020 362h1v1h-1zM1021 360h1v2h-1zM1022 359h1v1h-1zM1023 358h1v1h-1zM1024 359h1v1h-1zM1025 360h1v1h-1zM1026 361h1v1h-1zM1027 362h1v1h-1zM1028 363h1v2h-1zM1029 365h1v1h-1zM1030 366h1v2h-1zM1031 368h1v1h-1zM1032 369h1v2h-1zM1033 371h1v1h-1zM1034 372h1v2h-1zM1035 374h1v1h-1zM1036 375h1v1h-1zM1037 376h1v1h-1zM1038 377h1v1h-1zM1039 378h1v1h-1zM1040 379h1v2h-1zM1041 381h1v2h-1zM1042 383h1v2h-1zM1043 385h1v1h-1zM1044 386h2v1h-2zM1046 387h3v1h-3zM1049 386h3v1h-3zM1052 385h2v1h-2zM1054 384h2v1h-2zM1056 383h2v1h-2zM1058 382h3v1h-3zM1061 381h3v1h-3zM1064 382h1v1h-1zM1065 383h2v1h-2zM1067 384h1v1h-1zM1068 385h2v1h-2zM1070 386h2v1h-2zM1072 387h1v1h-1zM1073 388h1v2h-1zM1074 390h1v1h-1zM1075 391h1v1h-1zM1076 392h1v1h-1zM1077 393h1v2h-1zM1078 395h1v1h-1zM1079 396h1v1h-1zM1080 397h1v1h-1zM1081 398h1v1h-1zM1082 399h1v1h-1zM1083 400h1v1h-1zM1084 401h2v1h-2zM1086 402h3v1h-3zM1089 403h3v1h-3zM1092 402h1v1h-1zM1093 401h2v1h-2zM1095 400h1v1h-1zM1096 398h1v2h-1zM1097 397h1v1h-1zM1098 395h1v2h-1zM1099 394h2v1h-2zM1101 393h4v1h-4zM1105 394h3v1h-3zM1108 395h1v1h-1zM1109 396h2v1h-2zM1111 397h2v1h-2zM1113 398h4v1h-4zM1117 397h4v1h-4zM1121 396h4v1h-4zM1125 395h3v1h-3zM1128 394h2v1h-2zM1130 393h3v1h-3zM1133 392h3v1h-3zM1136 393h2v1h-2zM1138 394h3v1h-3zM1141 395h3v1h-3zM1144 396h1v1h-1zM1145 397h1v2h-1zM1146 399h1v1h-1zM1147 400h1v1h-1zM1148 401h1v1h-1zM1149 402h1v1h-1zM1150 403h1v1h-1zM1151 404h2v1h-2zM1153 405h3v1h-3zM1156 404h2v1h-2zM1158 403h2v1h-2zM1160 402h1v1h-1zM1161 400h1v2h-1zM1162 399h1v1h-1zM1163 398h1v1h-1zM1164 397h1v1h-1zM1165 396h2v1h-2zM1167 395h1v1h-1zM1168 394h1v1h-1zM1169 393h2v1h-2zM1171 392h1v1h-1zM1172 391h2v1h-2zM1174 390h2v1h-2zM1176 389h1v1h-1zM1177 388h1v1h-1zM1178 387h1v1h-1zM1179 386h1v1h-1zM1180 384h1v2h-1zM1181 383h1v1h-1zM1182 381h1v2h-1zM1183 380h1v1h-1zM1184 378h1v2h-1zM1185 376h1v2h-1zM1186 374h1v2h-1zM1187 371h1v3h-1zM1188 368h1v3h-1zM1189 366h1v2h-1zM1190 363h1v3h-1zM1191 360h1v3h-1zM1192 357h1v3h-1zM1193 354h1v3h-1zM1194 351h1v3h-1zM1195 348h1v3h-1zM1196 345h1v3h-1zM1197 342h1v3h-1zM1198 339h1v3h-1zM1199 336h1v3h-1zM1200 333h1v3h-1zM1201 329h1v4h-1zM1202 326h1v3h-1zM1203 323h1v3h-1zM1204 319h1v4h-1zM1205 316h1v3h-1zM1206 312h1v4h-1zM1207 309h1v3h-1zM1208 305h1v4h-1zM1209 301h1v4h-1zM1210 297h1v4h-1zM1211 294h1v3h-1zM1212 291h1v3h-1zM1213 288h1v3h-1zM1214 285h1v3h-1zM1215 282h1v3h-1zM1216 279h1v3h-1zM1217 275h1v4h-1zM1218 272h1v3h-1zM1219 269h1v3h-1zM1220 265h1v4h-1zM1221 261h1v4h-1zM1222 257h1v4h-1zM1223 252h1v5h-1zM1224 248h1v4h-1zM1225 244h1v4h-1zM1226 240h1v4h-1zM1227 235h1v5h-1zM1228 231h1v4h-1zM1229 226h1v5h-1zM1230 222h1v4h-1zM1231 218h1v4h-1zM1232 214h1v4h-1zM1233 210h1v4h-1zM1234 206h1v4h-1zM1235 202h1v4h-1zM1236 199h1v3h-1zM1237 197h1v2h-1zM1238 194h1v3h-1zM1239 192h1v2h-1zM1240 190h1v2h-1zM1241 188h1v2h-1zM1242 186h1v2h-1zM1243 185h1v1h-1zM1244 183h1v2h-1zM1245 182h1v1h-1zM1246 180h1v2h-1zM1247 179h1v1h-1zM1248 177h1v2h-1zM1249 176h1v1h-1zM1250 174h1v2h-1zM1251 173h1v1h-1zM1252 172h1v1h-1zM1253 171h1v1h-1zM1254 170h1v1h-1zM1255 169h1v1h-1zM1256 168h2v1h-2zM1258 167h2v1h-2zM1260 168h2v1h-2zM1262 169h2v1h-2zM1264 170h1v1h-1zM1265 171h1v2h-1zM1266 173h1v1h-1zM1267 174h1v1h-1zM1268 175h1v1h-1zM1269 176h1v2h-1zM1270 178h1v1h-1z" fill="#ff0000"/>
<path d="M7 205h1v1h-1zM8 204h1v1h-1zM9 203h1v1h-1zM10 202h1v1h-1zM11 200h1v2h-1zM12 196h1v4h-1zM13 192h1v4h-1zM14 188h1v4h-1zM15 185h1v3h-1zM16 181h1v4h-1zM17 177h1v4h-1zM18 173h1v4h-1zM19 168h1v5h-1zM20 162h1v6h-1zM21 157h1v5h-1zM22 151h1v6h-1zM23 146h1v5h-1zM24 142h1v4h-1zM25 137h1v5h-1zM26 133h1v4h-1zM27 129h1v4h-1zM28 126h1v3h-1zM29 123h1v3h-1zM30 120h1v3h-1zM31 118h1v2h-1zM32 117h1v1h-1zM33 116h1v1h-1zM34 115h1v1h-1zM35 114h2v1h-2zM37 113h3v1h-3zM40 114h2v1h-2zM42 115h2v1h-2zM44 116h1v2h-1zM45 118h1v2h-1zM46 120h1v2h-1zM47 122h1v3h-1zM48 125h1v2h-1zM49 127h1v3h-1zM50 130h1v2h-1zM51 132h1v3h-1zM52 135h1v2h-1zM53 137h1v3h-1zM54 140h1v2h-1zM55 142h1v3h-1zM56 145h1v2h-1zM57 147h1v3h-1zM58 150h1v2h-1zM59 152h1v4h-1zM60 156h1v4h-1zM61 160h1v5h-1zM62 165h1v4h-1zM63 169h1v4h-1zM64 173h1v2h-1zM65 175h1v2h-1zM66 177h1v2h-1zM67 179h1v3h-1zM68 182h1v2h-1zM69 184h1v3h-1zM70 187h1v2h-1zM71 189h1v2h-1zM72 191h1v2h-1zM73 193h1v2h-1zM74 195h1v2h-1zM75 197h1v1h-1zM76 198h1v1h-1zM77 199h2v1h-2zM79 200h1v1h-1zM80 199h1v1h-1zM81 197h1v2h-1zM82 196h1v1h-1zM83 195h1v1h-1zM84 194h1v1h-1zM85 193h2v1h-2zM87 192h1v1h-1zM88 190h1v2h-1zM89 188h1v2h-1zM90 186h1v2h-1zM91 185h1v1h-1zM92 183h1v2h-1zM93 182h1v1h-1zM94 180h1v2h-1zM95 179h1v1h-1zM96 180h1v1h-1zM97 181h1v2h-1zM98 183h1v1h-1zM99 184h1v1h-1zM100 185h1v1h-1zM101 186h2v1h-2zM103 187h1v1h-1zM104 188h1v1h-1zM105 189h2v1h-2zM107 190h1v1h-1zM108 191h1v1h-1zM109 192h1v2h-1zM110 194h1v1h-1zM111 195h1v1h-1zM112 196h1v1h-1zM113 197h1v2h-1zM114 199h1v1h-1zM115 200h5v1h-5zM120 201h1v2h-1zM121 203h1v2h-1zM122 205h1v2h-1zM123 207h1v3h-1zM124 210h1v2h-1zM125 212h1v3h-1zM126 215h1v2h-1zM127 217h1v2h-1zM128 219h1v2h-1zM129 221h1v2h-1zM130 223h1v2h-1zM131 225h1v2h-1zM132 227h1v3h-1zM133 230h1v2h-1zM134 232h1v3h-1zM135 235h1v3h-1zM136 238h1v2h-1zM137 240h1v2h-1zM138 242h1v2h-1zM139 244h1v2h-1zM140 246h2v1h-2zM142 247h3v1h-3zM145 246h3v1h-3zM148 247h1v1h-1zM149 248h2v1h-2zM151 249h1v1h-1zM152 250h1v2h-1zM153 252h1v2h-1zM154 254h1v2h-1zM155 256h2v1h-2zM157 257h3v1h-3zM160 258h1v1h-1zM161 259h1v1h-1zM162 260h1v1h-1zM163 261h1v1h-1zM164 259h1v2h-1zM165 258h1v1h-1zM166 256h1v2h-1zM167 255h1v1h-1zM168 253h1v2h-1zM169 251h1v2h-1zM170 249h1v2h-1zM171 246h1v3h-1zM172 241h1v5h-1zM173 237h1v4h-1zM174 232h1v5h-1zM175 228h1v4h-1zM176 226h1v2h-1zM177 223h1v3h-1zM178 221h1v2h-1zM179 218h1v3h-1zM180 215h1v3h-1zM181 212h1v3h-1zM182 209h1v3h-1zM183 207h1v2h-1zM184 207h1v1h-1zM185 206h3v1h-3zM188 205h2v1h-2zM190 204h2v1h-2zM192 205h1v2h-1zM193 207h1v1h-1zM194 208h1v2h-1zM195 210h1v1h-1zM196 211h1v2h-1zM197 213h1v1h-1zM198 214h1v2h-1zM199 216h1v2h-1zM200 218h1v4h-1zM201 222h1v3h-1zM202 225h1v4h-1zM203 229h1v3h-1zM204 232h1v3h-1zM205 235h1v4h-1zM206 239h1v3h-1zM207 242h1v3h-1zM208 245h1v3h-1zM209 248h1v3h-1zM210 251h1v3h-1zM211 254h1v3h-1zM212 257h1v2h-1zM213 259h1v3h-1zM214 262h1v2h-1zM215 264h1v2h-1zM216 266h1v2h-1zM217 268h1v1h-1zM218 269h1v2h-1zM219 271h6v1h-6zM225 270h3v1h-3zM228 269h1v1h-1zM229 267h1v2h-1zM230 266h1v1h-1zM231 265h1v1h-1zM232 263h1v2h-1zM233 262h1v1h-1zM234 260h1v2h-1zM235 259h1v1h-1zM236 258h2v1h-2zM238 257h7v1h-7zM245 258h3v1h-3zM247 259h1v1h-1zM248 260h1v2h-1zM249 262h1v3h-1zM250 265h1v2h-1zM251 267h1v4h-1zM252 271h1v4h-1zM253 275h1v4h-1zM254 279h1v4h-1zM255 283h1v4h-1zM256 287h1v4h-1zM257 291h1v4h-1zM258 295h1v4h-1zM259 299h1v3h-1zM260 302h1v4h-1zM261 306h1v3h-1zM262 309h1v4h-1zM263 313h1v3h-1zM264 316h1v3h-1zM265 319h1v4h-1zM266 323h1v3h-1zM267 326h1v2h-1zM268 328h1v1h-1zM269 329h2v1h-2zM271 330h1v1h-1zM272 329h1v1h-1zM273 327h1v2h-1zM274 326h1v1h-1zM275 325h1v1h-1zM276 323h1v2h-1zM277 321h1v2h-1zM278 319h1v2h-1zM279 318h1v1h-1zM280 316h1v2h-1zM281 314h1v2h-1zM282 312h1v2h-1zM283 310h1v2h-1zM284 308h1v2h-1zM285 305h1v3h-1zM286 303h1v2h-1zM287 301h1v2h-1zM288 300h2v1h-2zM290 299h2v1h-2zM292 300h1v1h-1zM293 301h1v1h-1zM294 302h1v1h-1zM295 303h1v1h-1zM296 302h1v1h-1zM297 301h2v1h-2zM299 300h1v1h-1zM300 299h1v1h-1zM301 297h1v2h-1zM302 296h1v1h-1zM303 295h2v1h-2zM305 294h3v1h-3zM308 295h1v1h-1zM309 296h1v1h-1zM310 297h1v1h-1zM311 298h1v1h-1zM312 296h1v2h-1zM313 294h1v2h-1zM314 292h1v2h-1zM315 291h1v1h-1zM316 292h2v1h-2zM318 293h2v1h-2zM320 294h2v1h-2zM322 295h2v1h-2zM324 296h1v2h-1zM325 298h1v2h-1zM326 300h1v2h-1zM327 302h2v1h-2zM329 301h3v1h-3zM332 302h1v2h-1zM333 304h1v2h-1zM334 306h1v2h-1zM335 308h1v2h-1zM336 310h1v2h-1zM337 312h1v1h-1zM338 313h1v2h-1zM339 315h1v2h-1zM340 317h1v3h-1zM341 320h1v2h-1zM342 322h1v3h-1zM343 325h1v2h-1zM344 327h1v2h-1zM345 329h1v2h-1zM346 331h1v2h-1zM347 333h1v1h-1zM348 334h1v2h-1zM349 336h1v2h-1zM350 338h1v2h-1zM351 340h1v2h-1zM352 342h1v2h-1zM353 344h1v1h-1zM354 345h1v2h-1zM355 347h1v2h-1zM356 349h1v3h-1zM357 352h1v2h-1zM358 354h1v3h-1zM359 357h1v2h-1zM360 359h2v1h-2zM362 360h3v1h-3zM365 359h3v1h-3zM368 357h1v2h-1zM369 356h1v1h-1zM370 354h1v2h-1zM371 353h1v1h-1zM372 352h1v1h-1zM373 351h2v1h-2zM375 349h1v2h-1zM376 347h1v2h-1zM377 345h1v2h-1zM378 343h1v2h-1zM379 341h1v2h-1zM380 339h1v2h-1zM381 338h1v1h-1zM382 336h1v2h-1zM383 335h5v1h-5zM388 336h2v1h-2zM390 337h2v1h-2zM392 336h1v1h-1zM393 334h1v2h-1zM394 333h1v1h-1zM395 332h1v1h-1zM396 330h1v2h-1zM397 329h1v1h-1zM398 327h1v2h-1zM399 326h1v1h-1zM400 324h1v2h-1zM401 322h1v2h-1zM402 320h1v2h-1zM403 319h1v1h-1zM404 317h1v2h-1zM405 315h1v2h-1zM406 313h1v2h-1zM407 311h1v2h-1zM408 309h1v2h-1zM409 307h1v2h-1zM410 305h1v2h-1zM411 304h1v1h-1zM412 302h1v2h-1zM413 301h1v1h-1zM414 299h1v2h-1zM415 297h1v2h-1zM416 295h1v2h-1zM417 292h1v3h-1zM418 290h1v2h-1zM419 287h1v3h-1zM420 284h1v3h-1zM421 281h1v3h-1zM422 278h1v3h-1zM423 275h1v3h-1zM424 271h1v4h-1zM425 267h1v4h-1zM426 263h1v4h-1zM427 260h1v3h-1zM428 257h1v3h-1zM429 254h1v3h-1zM430 251h1v3h-1zM431 249h1v2h-1zM432 247h1v2h-1zM433 245h1v2h-1zM434 243h1v2h-1zM435 242h1v1h-1zM436 243h2v1h-2zM438 244h2v1h-2zM440 245h1v2h-1zM441 247h1v1h-1zM442 248h1v2h-1zM443 250h1v2h-1zM444 252h1v2h-1zM445 254h1v2h-1zM446 256h1v2h-1zM447 258h1v2h-1zM448 260h1v2h-1zM449 262h1v2h-1zM450 264h1v2h-1zM451 266h1v1h-1zM452 267h1v1h-1zM453 268h1v2h-1zM454 270h1v1h-1zM455 271h5v1h-5zM460 270h1v1h-1zM461 269h2v1h-2zM463 268h1v1h-1zM464 266h1v2h-1zM465 264h1v2h-1zM466 262h1v2h-1zM467 259h1v3h-1zM468 257h1v2h-1zM469 254h1v3h-1zM470 252h1v2h-1zM471 250h1v2h-1zM472 248h1v2h-1zM473 246h1v2h-1zM474 244h1v2h-1zM475 242h1v2h-1zM476 241h1v1h-1zM477 240h1v1h-1zM478 239h1v1h-1zM479 238h1v1h-1zM480 239h1v2h-1zM481 241h1v1h-1zM482 242h1v2h-1zM483 244h1v2h-1zM484 246h1v2h-1zM485 248h1v2h-1zM486 250h1v2h-1zM487 252h1v3h-1zM488 255h1v3h-1zM489 258h1v4h-1zM490 262h1v3h-1zM491 265h1v3h-1zM492 268h1v4h-1zM493 272h1v4h-1zM494 276h1v4h-1zM495 280h1v3h-1zM496 283h1v4h-1zM497 287h1v4h-1zM498 291h1v4h-1zM499 295h1v2h-1zM500 297h1v1h-1zM501 298h1v1h-1zM502 299h1v1h-1zM503 300h1v1h-1zM504 301h1v2h-1zM505 303h1v2h-1zM506 305h1v2h-1zM507 307h1v1h-1zM508 308h1v1h-1zM509 309h1v1h-1zM510 310h1v1h-1zM511 311h1v1h-1zM512 312h2v1h-2zM514 313h2v1h-2zM516 312h1v1h-1zM517 311h1v1h-1zM518 310h1v1h-1zM519 309h1v1h-1zM520 308h2v1h-2zM522 307h2v1h-2zM524 305h1v2h-1zM525 303h1v2h-1zM526 301h1v2h-1zM527 300h1v1h-1zM528 298h1v2h-1zM529 296h1v2h-1zM530 294h1v2h-1zM531 292h1v2h-1zM532 290h1v2h-1zM533 288h1v2h-1zM534 286h1v2h-1zM535 285h1v1h-1zM536 284h2v1h-2zM538 283h2v1h-2zM540 284h2v1h-2zM542 285h2v1h-2zM544 286h1v2h-1zM545 288h1v1h-1zM546 289h1v2h-1zM547 291h1v1h-1zM548 292h1v2h-1zM549 294h1v2h-1zM550 296h1v2h-1zM551 298h1v2h-1zM552 300h1v2h-1zM553 302h1v1h-1zM554 303h1v2h-1zM555 305h1v1h-1zM556 306h1v2h-1zM557 308h1v2h-1zM558 310h1v2h-1zM559 312h1v2h-1zM560 314h1v1h-1zM561 315h2v1h-2zM563 316h9v1h-9zM572 314h1v2h-1zM573 312h1v2h-1zM574 310h1v2h-1zM575 308h1v2h-1zM576 306h1v2h-1zM577 304h1v2h-1zM578 302h1v2h-1zM579 299h1v3h-1zM580 297h1v2h-1zM581 295h1v2h-1zM582 293h1v2h-1zM583 291h1v2h-1zM584 289h1v2h-1zM585 287h1v2h-1zM586 285h1v2h-1zM587 283h1v2h-1zM588 282h1v1h-1zM589 281h1v1h-1zM590 280h1v1h-1zM591 279h1v1h-1zM592 280h2v1h-2zM594 281h2v1h-2zM596 282h2v1h-2zM598 283h7v1h-7zM605 284h3v1h-3zM608 282h1v2h-1zM609 280h1v2h-1zM610 278h1v2h-1zM611 276h1v2h-1zM612 274h1v2h-1zM613 272h1v2h-1zM614 270h1v2h-1zM615 268h1v2h-1zM616 266h1v2h-1zM617 265h1v1h-1zM618 263h1v2h-1zM619 262h1v1h-1zM620 261h1v1h-1zM621 259h1v2h-1zM622 258h1v1h-1zM623 257h1v1h-1zM624 255h1v2h-1zM625 253h1v2h-1zM626 251h1v2h-1zM627 249h1v2h-1zM628 249h1v1h-1zM629 248h3v1h-3zM632 249h2v1h-2zM634 250h2v1h-2zM636 251h1v1h-1zM637 252h1v1h-1zM638 253h1v1h-1zM639 254h1v1h-1zM640 255h1v2h-1zM641 257h1v2h-1zM642 259h1v2h-1zM643 261h1v2h-1zM644 263h1v2h-1zM645 265h1v2h-1zM646 267h1v2h-1zM647 269h1v1h-1zM648 270h1v1h-1zM649 271h1v1h-1zM650 272h1v1h-1zM651 273h1v1h-1zM652 274h1v1h-1zM653 275h2v1h-2zM655 276h2v1h-2zM657 275h3v1h-3zM659 274h1v1h-1zM660 272h1v2h-1zM661 269h1v3h-1zM662 267h1v2h-1zM663 264h1v3h-1zM664 261h1v3h-1zM665 259h1v2h-1zM666 256h1v3h-1zM667 253h1v3h-1zM668 250h1v3h-1zM669 247h1v3h-1zM670 244h1v3h-1zM671 241h1v3h-1zM672 237h1v4h-1zM673 233h1v4h-1zM674 229h1v4h-1zM675 226h1v3h-1zM676 223h1v3h-1zM677 219h1v4h-1zM678 216h1v3h-1zM679 214h1v2h-1zM680 213h1v1h-1zM681 212h1v1h-1zM682 211h1v1h-1zM683 210h1v1h-1zM684 211h2v1h-2zM686 212h2v1h-2zM688 213h1v1h-1zM689 214h1v1h-1zM690 215h1v1h-1zM691 216h1v1h-1zM692 217h1v1h-1zM693 218h2v1h-2zM695 219h1v2h-1zM696 221h1v2h-1zM697 223h1v2h-1zM698 225h1v2h-1zM699 227h1v3h-1zM700 230h1v2h-1zM701 232h1v2h-1zM702 234h1v2h-1zM703 236h1v2h-1zM704 238h1v2h-1zM705 240h1v1h-1zM706 241h1v2h-1zM707 243h1v1h-1zM708 244h1v2h-1zM709 246h1v1h-1zM710 247h1v2h-1zM711 249h1v1h-1zM712 250h1v2h-1zM713 252h1v2h-1zM714 254h1v2h-1zM715 256h2v1h-2zM717 257h7v1h-7zM724 255h1v2h-1zM725 254h1v1h-1zM726 252h1v2h-1zM727 251h1v1h-1zM728 250h2v1h-2zM730 249h2v1h-2zM732 250h1v1h-1zM733 251h2v1h-2zM735 252h1v1h-1zM736 253h1v1h-1zM737 254h1v1h-1zM738 255h1v1h-1zM739 256h1v1h-1zM740 257h1v1h-1zM741 258h1v2h-1zM742 260h1v1h-1zM743 261h1v1h-1zM744 262h1v2h-1zM745 264h1v1h-1zM746 265h1v2h-1zM747 267h1v1h-1zM748 268h1v2h-1zM749 270h1v2h-1zM750 272h1v2h-1zM751 274h1v1h-1zM752 275h1v1h-1zM753 276h1v2h-1zM754 278h1v1h-1zM755 279h1v1h-1zM756 280h1v2h-1zM757 282h1v2h-1zM758 284h1v2h-1zM759 286h1v1h-1zM760 287h1v2h-1zM761 289h1v1h-1zM762 290h1v2h-1zM763 292h1v2h-1zM764 294h1v2h-1zM765 296h1v2h-1zM766 298h1v2h-1zM767 300h1v2h-1zM768 302h1v2h-1zM769 304h1v2h-1zM770 306h1v2h-1zM771 308h1v2h-1zM772 310h1v1h-1zM773 311h1v2h-1zM774 313h1v1h-1zM775 314h2v1h-2zM777 313h3v1h-3zM780 311h1v2h-1zM781 310h1v1h-1zM782 308h1v2h-1zM783 307h1v1h-1zM784 305h1v2h-1zM785 303h1v2h-1zM786 301h1v2h-1zM787 299h1v2h-1zM788 297h1v2h-1zM789 296h1v1h-1zM790 294h1v2h-1zM791 293h1v1h-1zM792 292h1v1h-1zM793 291h1v1h-1zM794 290h1v1h-1zM795 289h1v1h-1zM796 290h1v1h-1zM797 291h2v1h-2zM799 292h1v2h-1zM800 294h1v3h-1zM801 297h1v3h-1zM802 300h1v3h-1zM803 303h1v3h-1zM804 306h1v3h-1zM805 309h1v4h-1zM806 313h1v3h-1zM807 316h1v3h-1zM808 319h1v3h-1zM809 322h1v3h-1zM810 325h1v3h-1zM811 328h1v3h-1zM812 331h1v3h-1zM813 334h1v4h-1zM814 338h1v3h-1zM815 341h1v3h-1zM816 344h1v2h-1zM817 346h1v3h-1zM818 349h1v2h-1zM819 351h1v3h-1zM820 354h1v2h-1zM821 356h1v2h-1zM822 358h1v2h-1zM823 360h1v3h-1zM824 363h1v3h-1zM825 366h1v3h-1zM826 369h1v3h-1zM827 372h1v3h-1zM828 375h1v3h-1zM829 378h1v2h-1zM830 380h1v3h-1zM831 383h1v3h-1zM832 386h1v2h-1zM833 388h1v3h-1zM834 391h1v2h-1zM835 393h1v3h-1zM836 396h1v2h-1zM837 398h1v2h-1zM838 400h1v2h-1zM839 402h1v2h-1zM840 404h1v2h-1zM841 406h1v2h-1zM842 408h1v2h-1zM843 410h1v2h-1zM844 412h1v2h-1zM845 414h1v1h-1zM846 415h1v2h-1zM847 417h1v1h-1zM848 418h1v1h-1zM849 419h1v2h-1zM850 421h1v1h-1zM851 422h1v1h-1zM852 421h2v1h-2zM854 420h2v1h-2zM856 419h1v1h-1zM857 418h2v1h-2zM859 417h1v1h-1zM860 416h1v1h-1zM861 415h2v1h-2zM863 414h1v1h-1zM864 412h1v2h-1zM865 410h1v2h-1zM866 408h1v2h-1zM867 406h1v2h-1zM868 404h1v2h-1zM869 402h1v2h-1zM870 400h1v2h-1zM871 398h1v2h-1zM872 394h1v4h-1zM873 390h1v4h-1zM874 386h1v4h-1zM875 383h1v3h-1zM876 379h1v4h-1zM877 376h1v3h-1zM878 372h1v4h-1zM879 368h1v4h-1zM880 363h1v5h-1zM881 359h1v4h-1zM882 354h1v5h-1zM883 348h1v6h-1zM884 341h1v7h-1zM885 333h1v8h-1zM886 326h1v7h-1zM887 318h1v8h-1zM888 310h1v8h-1zM889 301h1v9h-1zM890 293h1v8h-1zM891 286h1v7h-1zM892 282h1v4h-1zM893 278h1v4h-1zM894 274h1v4h-1zM895 269h1v5h-1zM896 263h1v6h-1zM897 258h1v5h-1zM898 252h1v6h-1zM899 246h1v6h-1zM900 238h1v8h-1zM901 230h1v8h-1zM902 222h1v8h-1zM903 216h1v6h-1zM904 211h1v5h-1zM905 206h1v5h-1zM906 201h1v5h-1zM907 195h1v6h-1zM908 189h1v6h-1zM909 182h1v7h-1zM910 176h1v6h-1zM911 170h1v6h-1zM912 164h1v6h-1zM913 159h1v5h-1zM914 153h1v6h-1zM915 149h1v4h-1zM916 147h1v2h-1zM917 144h1v3h-1zM918 142h1v2h-1zM919 140h1v2h-1zM919 141h1v2h-1zM920 143h1v6h-1zM921 149h1v6h-1zM922 155h1v6h-1zM923 161h1v7h-1zM924 168h1v7h-1zM925 175h1v6h-1zM926 181h1v7h-1zM927 188h1v8h-1zM928 196h1v10h-1zM929 206h1v9h-1zM930 215h1v10h-1zM931 225h1v7h-1zM932 232h1v6h-1zM933 238h1v6h-1zM934 244h1v6h-1zM935 250h1v7h-1zM936 257h1v8h-1zM937 265h1v8h-1zM938 273h1v8h-1zM939 281h1v8h-1zM940 289h1v7h-1zM941 296h1v7h-1zM942 303h1v7h-1zM943 310h1v8h-1zM944 318h1v10h-1zM945 328h1v10h-1zM946 338h1v10h-1zM947 348h1v11h-1zM948 359h1v11h-1zM949 370h1v10h-1zM950 380h1v11h-1zM951 391h1v12h-1zM952 403h1v13h-1zM953 416h1v13h-1zM954 429h1v13h-1zM955 442h1v9h-1zM956 451h1v6h-1zM957 457h1v6h-1zM958 463h1v6h-1zM959 469h1v4h-1zM960 473h1v1h-1zM961 474h1v1h-1zM962 475h1v1h-1zM963 475h1v2h-1zM964 471h1v4h-1zM965 468h1v3h-1zM966 464h1v4h-1zM967 458h1v6h-1zM968 448h1v10h-1zM969 439h1v9h-1zM970 429h1v10h-1zM971 419h1v10h-1zM972 408h1v11h-1zM973 397h1v11h-1zM974 386h1v11h-1zM975 376h1v10h-1zM976 366h1v10h-1zM977 356h1v10h-1zM978 346h1v10h-1zM979 338h1v8h-1zM980 332h1v6h-1zM981 326h1v6h-1zM982 320h1v6h-1zM983 314h1v6h-1zM984 309h1v5h-1zM985 304h1v5h-1zM986 299h1v5h-1zM987 296h1v3h-1zM987 297h1v1h-1zM988 298h1v2h-1zM989 300h1v3h-1zM990 303h1v2h-1zM991 305h1v4h-1zM992 309h1v6h-1zM993 315h1v5h-1zM994 320h1v6h-1zM995 326h1v7h-1zM996 333h1v9h-1zM997 342h1v8h-1zM998 350h1v9h-1zM999 359h1v7h-1zM1000 366h1v6h-1zM1001 372h1v6h-1zM1002 378h1v6h-1zM1003 384h1v5h-1zM1004 389h1v6h-1zM1005 395h1v5h-1zM1006 400h1v6h-1zM1007 406h1v3h-1zM1008 409h1v2h-1zM1009 411h1v1h-1zM1010 412h1v2h-1zM1011 414h5v1h-5zM1015 413h1v1h-1zM1016 409h1v4h-1zM1017 405h1v4h-1zM1018 401h1v4h-1zM1019 398h1v3h-1zM1020 394h1v4h-1zM1021 390h1v4h-1zM1022 386h1v4h-1zM1023 383h1v3h-1zM1024 379h1v4h-1zM1025 376h1v3h-1zM1026 372h1v4h-1zM1027 370h1v2h-1zM1028 369h2v1h-2zM1030 368h2v1h-2zM1031 367h1v1h-1zM1032 364h1v3h-1zM1033 361h1v3h-1zM1034 358h1v3h-1zM1035 356h1v2h-1zM1036 357h1v1h-1zM1037 358h2v1h-2zM1039 359h1v2h-1zM1040 361h1v3h-1zM1041 364h1v2h-1zM1042 366h1v3h-1zM1043 369h1v2h-1zM1044 371h1v2h-1zM1045 373h1v1h-1zM1046 374h1v2h-1zM1047 376h1v1h-1zM1048 377h1v1h-1zM1049 378h1v1h-1zM1050 379h1v1h-1zM1051 380h1v2h-1zM1052 382h1v3h-1zM1053 385h1v2h-1zM1054 387h1v3h-1zM1055 390h1v2h-1zM1056 392h1v1h-1zM1057 393h1v2h-1zM1058 395h1v1h-1zM1059 396h1v1h-1zM1060 397h2v1h-2zM1062 398h2v1h-2zM1064 399h1v2h-1zM1065 401h1v2h-1zM1066 403h1v2h-1zM1067 405h1v1h-1zM1068 406h1v2h-1zM1069 408h1v2h-1zM1070 410h1v2h-1zM1071 412h1v2h-1zM1072 414h1v2h-1zM1073 416h1v2h-1zM1074 418h1v2h-1zM1075 420h1v2h-1zM1076 422h1v1h-1zM1077 423h2v1h-2zM1079 424h2v1h-2zM1081 423h3v1h-3zM1084 422h1v1h-1zM1085 421h1v1h-1zM1086 420h1v1h-1zM1087 418h1v2h-1zM1088 414h1v4h-1zM1089 410h1v4h-1zM1090 406h1v4h-1zM1091 402h1v4h-1zM1092 396h1v6h-1zM1093 391h1v5h-1zM1094 385h1v6h-1zM1095 381h1v4h-1zM1096 377h1v4h-1zM1097 373h1v4h-1zM1098 369h1v4h-1zM1099 366h1v3h-1zM1100 364h1v2h-1zM1101 362h1v2h-1zM1102 360h1v2h-1zM1103 358h1v2h-1zM1104 358h1v1h-1zM1105 359h3v1h-3zM1107 360h1v1h-1zM1108 361h1v4h-1zM1109 365h1v3h-1zM1110 368h1v4h-1zM1111 372h1v4h-1zM1112 376h1v5h-1zM1113 381h1v5h-1zM1114 386h1v5h-1zM1115 391h1v4h-1zM1116 395h1v3h-1zM1117 398h1v3h-1zM1118 401h1v3h-1zM1119 404h1v2h-1zM1120 406h1v2h-1zM1121 408h1v2h-1zM1122 410h1v2h-1zM1123 412h1v2h-1zM1124 414h1v1h-1zM1125 415h2v1h-2zM1127 416h1v1h-1zM1128 414h1v2h-1zM1129 412h1v2h-1zM1130 410h1v2h-1zM1131 409h1v1h-1zM1132 408h2v1h-2zM1134 407h2v1h-2zM1136 408h1v2h-1zM1137 410h1v2h-1zM1138 412h1v2h-1zM1139 414h1v1h-1zM1140 415h1v1h-1zM1141 416h2v1h-2zM1143 417h2v1h-2zM1145 418h3v1h-3zM1148 417h1v1h-1zM1149 415h1v2h-1zM1150 414h1v1h-1zM1151 412h1v2h-1zM1152 409h1v3h-1zM1153 407h1v2h-1zM1154 404h1v3h-1zM1155 400h1v4h-1zM1156 395h1v5h-1zM1157 390h1v5h-1zM1158 385h1v5h-1zM1159 381h1v4h-1zM1160 377h1v4h-1zM1161 373h1v4h-1zM1162 369h1v4h-1zM1163 366h1v3h-1zM1164 364h1v2h-1zM1165 362h1v2h-1zM1166 360h1v2h-1zM1167 358h1v2h-1zM1168 358h1v1h-1zM1169 359h3v1h-3zM1172 360h1v1h-1zM1173 361h1v1h-1zM1174 362h1v1h-1zM1175 363h1v1h-1zM1176 364h2v1h-2zM1178 365h2v1h-2zM1180 364h2v1h-2zM1182 363h2v1h-2zM1183 361h1v2h-1zM1184 356h1v5h-1zM1185 352h1v4h-1zM1186 347h1v5h-1zM1187 342h1v5h-1zM1188 336h1v6h-1zM1189 330h1v6h-1zM1190 324h1v6h-1zM1191 319h1v5h-1zM1192 313h1v6h-1zM1193 308h1v5h-1zM1194 302h1v6h-1zM1195 297h1v5h-1zM1196 293h1v4h-1zM1197 289h1v4h-1zM1198 285h1v4h-1zM1199 280h1v5h-1zM1200 275h1v5h-1zM1201 269h1v6h-1zM1202 264h1v5h-1zM1203 259h1v5h-1zM1204 254h1v5h-1zM1205 249h1v5h-1zM1206 244h1v5h-1zM1207 239h1v5h-1zM1208 233h1v6h-1zM1209 227h1v6h-1zM1210 221h1v6h-1zM1211 216h1v5h-1zM1212 210h1v6h-1zM1213 205h1v5h-1zM1214 199h1v6h-1zM1215 194h1v5h-1zM1216 189h1v5h-1zM1217 185h1v4h-1zM1218 180h1v5h-1zM1219 176h1v4h-1zM1220 173h1v3h-1zM1221 169h1v4h-1zM1222 166h1v3h-1zM1223 163h1v3h-1zM1224 160h1v3h-1zM1225 158h1v2h-1zM1226 155h1v3h-1zM1227 153h1v2h-1zM1228 152h1v1h-1zM1229 151h1v1h-1zM1230 150h1v1h-1zM1231 148h1v2h-1zM1232 146h1v2h-1zM1233 144h1v2h-1zM1234 142h1v2h-1zM1235 140h1v2h-1zM1236 141h1v1h-1zM1237 142h1v1h-1zM1238 143h1v1h-1zM1239 144h1v1h-1zM1240 145h1v2h-1zM1241 147h1v2h-1zM1242 149h1v2h-1zM1243 151h1v2h-1zM1244 153h1v2h-1zM1245 155h1v2h-1zM1246 157h1v2h-1zM1247 159h1v3h-1zM1248 162h1v2h-1zM1249 164h1v3h-1zM1250 167h1v2h-1zM1251 169h1v4h-1zM1252 173h1v4h-1zM1253 177h1v5h-1zM1254 182h1v4h-1zM1255 186h1v3h-1zM1256 189h1v1h-1zM1257 190h1v1h-1zM1258 191h1v1h-1zM1259 192h1v1h-1zM1260 193h1v1h-1zM1261 194h1v1h-1zM1262 195h1v1h-1zM1263 196h1v2h-1zM1264 198h1v2h-1zM1265 200h1v2h-1zM1266 202h1v2h-1zM1267 204h1v2h-1zM1268 206h1v2h-1zM1269 208h1v2h-1zM1270 210h1v2h-1zM1271 212h1v1h-1z" fill="#ffa500"/>
<path d="M7 203h1v1h-1zM8 202h2v1h-2zM10 201h2v1h-2zM12 200h2v1h-2zM14 199h2v1h-2zM16 198h1v1h-1zM17 197h2v1h-2zM19 196h1v1h-1zM20 195h1v1h-1zM21 194h1v1h-1zM22 193h1v1h-1zM23 192h1v1h-1zM24 191h1v1h-1zM25 190h1v1h-1zM26 189h1v1h-1zM27 188h1v1h-1zM28 187h1v1h-1zM29 186h1v1h-1zM30 185h1v1h-1zM31 184h1v1h-1zM32 183h1v1h-1zM33 182h1v1h-1zM34 181h1v1h-1zM35 180h1v1h-1zM36 179h1v1h-1zM37 178h1v1h-1zM38 177h1v1h-1zM39 176h1v1h-1zM40 175h1v1h-1zM41 174h1v1h-1zM42 173h1v1h-1zM43 172h1v1h-1zM44 171h2v1h-2zM46 170h2v1h-2zM48 169h2v1h-2zM50 168h3v1h-3zM53 167h3v1h-3zM56 166h2v1h-2zM58 165h3v1h-3zM61 164h4v1h-4zM65 163h4v1h-4zM69 162h12v1h-12zM81 163h8v1h-8zM89 164h3v1h-3zM92 165h2v1h-2zM94 166h3v1h-3zM97 167h3v1h-3zM100 168h2v1h-2zM102 169h3v1h-3zM105 170h16v1h-16zM121 171h4v1h-4zM125 172h3v1h-3zM128 173h2v1h-2zM130 174h2v1h-2zM132 175h1v1h-1zM133 176h1v1h-1zM134 177h1v1h-1zM135 178h1v1h-1zM136 179h1v1h-1zM137 180h1v1h-1zM138 181h1v1h-1zM139 182h1v1h-1zM140 183h1v1h-1zM141 184h1v2h-1zM142 186h1v1h-1zM143 187h1v1h-1zM144 188h1v1h-1zM145 189h1v1h-1zM146 190h1v1h-1zM147 191h1v1h-1zM148 192h1v1h-1zM149 193h1v2h-1zM150 195h1v1h-1zM151 196h1v1h-1zM152 197h1v2h-1zM153 199h1v1h-1zM154 200h1v2h-1zM155 202h1v1h-1zM156 203h1v1h-1zM157 204h1v2h-1zM158 206h1v1h-1zM159 207h1v1h-1zM160 208h1v1h-1zM161 209h1v1h-1zM162 210h1v1h-1zM163 211h1v1h-1zM164 212h2v1h-2zM166 213h2v1h-2zM168 214h2v1h-2zM170 215h3v1h-3zM173 216h3v1h-3zM176 217h2v1h-2zM178 218h3v1h-3zM181 217h4v1h-4zM185 218h11v1h-11zM196 219h2v1h-2zM198 220h2v1h-2zM200 221h1v1h-1zM201 222h2v1h-2zM203 223h1v1h-1zM204 224h1v1h-1zM205 225h2v1h-2zM207 226h1v1h-1zM208 227h1v1h-1zM209 228h2v1h-2zM211 229h1v1h-1zM212 230h1v1h-1zM213 231h1v1h-1zM214 232h1v1h-1zM215 233h1v1h-1zM216 234h2v1h-2zM218 235h2v1h-2zM220 236h2v1h-2zM222 237h2v1h-2zM224 238h1v1h-1zM225 239h2v1h-2zM227 240h2v1h-2zM229 241h4v1h-4zM233 242h3v1h-3zM236 243h2v1h-2zM238 244h3v1h-3zM241 245h4v1h-4zM245 246h3v1h-3zM248 247h2v1h-2zM250 248h2v1h-2zM252 249h1v1h-1zM253 250h2v1h-2zM255 251h1v1h-1zM256 252h2v1h-2zM258 253h2v1h-2zM260 254h1v1h-1zM261 255h1v1h-1zM262 256h1v1h-1zM263 257h1v1h-1zM264 258h1v1h-1zM265 259h2v1h-2zM267 260h1v1h-1zM268 261h2v1h-2zM270 262h7v1h-7zM277 263h3v1h-3zM280 264h2v1h-2zM282 265h2v1h-2zM284 266h2v1h-2zM286 267h2v1h-2zM288 268h1v1h-1zM289 269h2v1h-2zM291 270h1v1h-1zM292 271h1v1h-1zM293 272h1v2h-1zM294 274h1v1h-1zM295 275h1v1h-1zM296 276h2v1h-2zM298 277h2v1h-2zM300 278h1v1h-1zM301 279h2v1h-2zM303 280h1v1h-1zM304 281h2v1h-2zM306 282h2v1h-2zM308 283h1v1h-1zM309 284h1v1h-1zM310 285h1v1h-1zM311 286h1v1h-1zM312 287h2v1h-2zM314 288h2v1h-2zM316 289h2v1h-2zM318 290h6v1h-6zM324 291h2v1h-2zM326 292h2v1h-2zM328 293h2v1h-2zM330 294h3v1h-3zM333 295h3v1h-3zM336 296h2v1h-2zM338 297h2v1h-2zM340 298h1v1h-1zM341 299h2v1h-2zM343 300h1v1h-1zM344 301h2v1h-2zM346 302h2v1h-2zM348 303h1v1h-1zM349 304h1v1h-1zM350 305h1v1h-1zM351 306h1v1h-1zM352 307h1v1h-1zM353 308h1v1h-1zM354 309h1v1h-1zM355 310h1v1h-1zM356 311h1v1h-1zM357 312h1v1h-1zM358 313h1v1h-1zM359 314h1v1h-1zM360 315h1v1h-1zM361 316h2v1h-2zM363 317h1v1h-1zM364 318h2v1h-2zM366 319h2v1h-2zM368 320h2v1h-2zM370 321h11v1h-11zM381 320h4v1h-4zM385 321h4v1h-4zM389 322h24v1h-24zM413 321h4v1h-4zM417 320h4v1h-4zM421 319h3v1h-3zM424 318h2v1h-2zM426 317h2v1h-2zM428 316h1v1h-1zM429 315h2v1h-2zM431 314h2v1h-2zM433 313h4v1h-4zM437 312h4v1h-4zM441 311h4v1h-4zM445 310h3v1h-3zM448 309h2v1h-2zM450 308h3v1h-3zM453 307h3v1h-3zM456 306h2v1h-2zM458 305h2v1h-2zM460 304h1v1h-1zM461 303h1v1h-1zM462 302h1v1h-1zM463 301h1v1h-1zM464 300h1v1h-1zM465 299h1v1h-1zM466 298h1v1h-1zM467 297h1v1h-1zM468 296h1v1h-1zM469 295h1v1h-1zM470 294h1v1h-1zM471 293h1v1h-1zM472 292h1v1h-1zM473 291h1v1h-1zM474 290h1v1h-1zM475 289h1v1h-1zM476 288h1v1h-1zM477 287h1v1h-1zM478 286h1v1h-1zM479 285h1v1h-1zM480 284h1v1h-1zM481 283h2v1h-2zM483 282h1v1h-1zM484 281h2v1h-2zM486 280h3v1h-3zM489 279h4v1h-4zM493 278h4v1h-4zM497 277h4v1h-4zM501 276h4v1h-4zM505 275h4v1h-4zM509 274h4v1h-4zM513 275h4v1h-4zM517 274h8v1h-8zM525 273h4v1h-4zM529 272h4v1h-4zM533 273h4v1h-4zM537 274h3v1h-3zM540 275h2v1h-2zM542 276h2v1h-2zM544 277h2v1h-2zM546 278h2v1h-2zM548 279h1v1h-1zM549 280h2v1h-2zM551 281h1v1h-1zM552 282h2v1h-2zM554 283h2v1h-2zM556 284h2v1h-2zM558 285h2v1h-2zM560 286h2v1h-2zM562 287h3v1h-3zM565 288h4v1h-4zM569 289h8v1h-8zM577 290h4v1h-4zM581 291h4v1h-4zM585 292h3v1h-3zM588 293h2v1h-2zM590 294h2v1h-2zM592 295h2v1h-2zM594 296h3v1h-3zM597 297h12v1h-12zM609 296h3v1h-3zM612 295h2v1h-2zM614 294h2v1h-2zM616 293h2v1h-2zM618 292h2v1h-2zM620 291h2v1h-2zM622 290h2v1h-2zM624 289h1v1h-1zM625 288h2v1h-2zM627 287h1v1h-1zM628 286h2v1h-2zM630 285h2v1h-2zM632 284h2v1h-2zM634 283h3v1h-3zM637 282h20v1h-20zM657 281h3v1h-3zM660 280h2v1h-2zM662 279h2v1h-2zM664 278h1v1h-1zM665 277h2v1h-2zM667 276h1v1h-1zM668 275h1v1h-1zM669 274h1v1h-1zM670 273h1v1h-1zM671 272h1v1h-1zM672 271h1v1h-1zM673 270h2v1h-2zM675 269h1v1h-1zM676 268h1v1h-1zM677 267h1v1h-1zM678 266h1v1h-1zM679 265h1v1h-1zM680 264h1v1h-1zM681 263h1v1h-1zM682 262h1v1h-1zM683 261h1v1h-1zM684 260h2v1h-2zM686 259h2v1h-2zM688 258h1v1h-1zM689 257h2v1h-2zM691 256h1v1h-1zM692 255h2v1h-2zM694 254h3v1h-3zM697 253h4v1h-4zM701 252h8v1h-8zM709 251h3v1h-3zM712 250h2v1h-2zM714 249h3v1h-3zM717 248h7v1h-7zM724 247h2v1h-2zM726 246h7v1h-7zM733 247h8v1h-8zM741 248h4v1h-4zM745 249h4v1h-4zM749 250h3v1h-3zM752 251h2v1h-2zM754 252h3v1h-3zM757 253h7v1h-7zM764 254h2v1h-2zM766 255h3v1h-3zM769 256h3v1h-3zM772 257h2v1h-2zM774 258h3v1h-3zM777 259h3v1h-3zM780 260h2v1h-2zM782 261h3v1h-3zM785 262h3v1h-3zM788 263h1v1h-1zM789 264h2v1h-2zM791 265h1v1h-1zM792 266h1v1h-1zM793 267h2v1h-2zM795 268h1v1h-1zM796 269h1v1h-1zM797 270h1v1h-1zM798 271h1v1h-1zM799 272h1v1h-1zM800 273h1v1h-1zM801 274h1v1h-1zM802 275h1v1h-1zM803 276h1v1h-1zM804 277h1v1h-1zM805 278h1v1h-1zM806 279h1v1h-1zM807 280h1v1h-1zM808 281h1v1h-1zM809 282h1v1h-1zM810 283h1v1h-1zM811 284h1v1h-1zM812 285h1v1h-1zM813 286h1v2h-1zM814 288h1v1h-1zM815 289h1v1h-1zM816 290h1v1h-1zM817 291h1v1h-1zM818 292h1v1h-1zM819 293h1v1h-1zM820 294h1v1h-1zM821 295h1v1h-1zM822 296h1v1h-1zM823 297h1v1h-1zM824 298h1v1h-1zM825 299h1v2h-1zM826 301h1v1h-1zM827 302h1v1h-1zM828 303h1v1h-1zM829 304h1v1h-1zM830 305h1v1h-1zM831 306h1v1h-1zM832 307h1v2h-1zM833 309h1v1h-1zM834 310h1v2h-1zM835 312h1v1h-1zM836 313h1v1h-1zM837 314h1v2h-1zM838 316h1v1h-1zM839 317h1v1h-1zM840 318h1v2h-1zM841 320h1v1h-1zM842 321h1v2h-1zM843 323h1v1h-1zM844 324h1v2h-1zM845 326h1v1h-1zM846 327h1v2h-1zM847 329h1v1h-1zM848 330h1v2h-1zM849 332h1v1h-1zM850 333h1v2h-1zM851 335h1v1h-1zM852 336h1v1h-1zM853 337h1v2h-1zM854 339h1v1h-1zM855 340h1v1h-1zM856 341h1v1h-1zM857 342h1v1h-1zM858 343h1v1h-1zM859 344h1v1h-1zM860 345h1v1h-1zM861 346h1v1h-1zM862 347h1v1h-1zM863 348h1v1h-1zM864 349h1v1h-1zM865 350h1v1h-1zM866 351h1v1h-1zM867 352h1v1h-1zM868 353h1v1h-1zM869 354h1v1h-1zM870 355h1v1h-1zM871 356h2v1h-2zM873 357h4v1h-4zM877 358h7v1h-7zM884 357h2v1h-2zM886 356h2v1h-2zM888 355h1v1h-1zM889 354h2v1h-2zM891 353h1v1h-1zM892 352h1v1h-1zM893 351h2v1h-2zM895 350h1v1h-1zM896 349h1v1h-1zM897 348h2v1h-2zM899 347h1v1h-1zM900 346h1v1h-1zM901 345h1v1h-1zM902 344h1v1h-1zM903 343h1v1h-1zM904 342h1v1h-1zM905 341h1v1h-1zM906 340h1v1h-1zM907 339h1v1h-1zM908 337h1v2h-1zM909 335h1v2h-1zM910 333h1v2h-1zM911 332h1v1h-1zM912 331h1v1h-1zM913 329h1v2h-1zM914 328h1v1h-1zM915 327h1v1h-1zM916 326h1v1h-1zM917 324h1v2h-1zM918 323h1v1h-1zM919 322h1v1h-1zM920 321h2v1h-2zM922 320h2v1h-2zM924 319h2v1h-2zM926 318h2v1h-2zM928 317h2v1h-2zM930 316h2v1h-2zM932 315h1v1h-1zM933 314h1v1h-1zM934 313h1v1h-1zM935 312h2v1h-2zM937 311h4v1h-4zM941 312h3v1h-3zM944 313h1v1h-1zM945 314h2v1h-2zM947 315h1v1h-1zM948 316h1v1h-1zM949 317h2v1h-2zM951 318h1v1h-1zM952 319h1v1h-1zM953 320h2v1h-2zM955 321h2v1h-2zM957 322h4v1h-4zM961 323h4v1h-4zM965 322h3v1h-3zM968 321h1v1h-1zM969 320h1v1h-1zM970 319h1v1h-1zM971 318h1v1h-1zM972 317h1v1h-1zM973 316h1v1h-1zM974 315h1v1h-1zM975 314h1v1h-1zM976 313h1v1h-1zM977 311h1v2h-1zM978 310h1v1h-1zM979 309h1v1h-1zM980 308h2v1h-2zM982 307h2v1h-2zM984 306h1v1h-1zM985 305h2v1h-2zM987 304h2v1h-2zM989 303h3v1h-3zM992 304h2v1h-2zM994 305h2v1h-2zM996 306h1v1h-1zM997 307h2v1h-2zM999 308h1v1h-1zM1000 309h1v1h-1zM1001 310h1v1h-1zM1002 311h1v1h-1zM1003 312h1v1h-1zM1004 313h1v2h-1zM1005 315h1v1h-1zM1006 316h1v2h-1zM1007 318h1v1h-1zM1008 319h1v1h-1zM1009 320h1v2h-1zM1010 322h1v1h-1zM1011 323h1v1h-1zM1012 324h1v2h-1zM1013 326h1v1h-1zM1014 327h1v2h-1zM1015 329h1v1h-1zM1016 330h1v1h-1zM1017 331h1v1h-1zM1018 332h1v1h-1zM1019 333h1v1h-1zM1020 334h1v2h-1zM1021 336h1v2h-1zM1022 338h1v2h-1zM1023 340h1v1h-1zM1024 341h1v2h-1zM1025 343h1v2h-1zM1026 345h1v2h-1zM1027 347h1v2h-1zM1028 349h1v2h-1zM1029 351h1v2h-1zM1030 353h1v2h-1zM1031 355h1v2h-1zM1032 357h1v2h-1zM1033 359h1v2h-1zM1034 361h1v2h-1zM1035 363h1v1h-1zM1036 364h1v2h-1zM1037 366h1v2h-1zM1038 368h1v2h-1zM1039 370h1v1h-1zM1040 371h1v1h-1zM1041 372h1v1h-1zM1042 373h1v1h-1zM1043 374h1v1h-1zM1044 375h1v1h-1zM1045 376h1v1h-1zM1046 377h1v1h-1zM1047 378h1v1h-1zM1048 379h1v1h-1zM1049 380h2v1h-2zM1051 381h1v1h-1zM1052 382h1v1h-1zM1053 383h1v2h-1zM1054 385h1v1h-1zM1055 386h1v1h-1zM1056 387h2v1h-2zM1058 388h6v1h-6zM1064 387h2v1h-2zM1066 386h2v1h-2zM1068 385h2v1h-2zM1070 384h2v1h-2zM1072 383h2v1h-2zM1074 382h2v1h-2zM1076 381h2v1h-2zM1078 380h3v1h-3zM1081 379h7v1h-7zM1088 380h2v1h-2zM1090 381h3v1h-3zM1093 382h3v1h-3zM1096 383h2v1h-2zM1098 384h2v1h-2zM1100 385h2v1h-2zM1102 386h2v1h-2zM1104 387h1v1h-1zM1105 388h1v1h-1zM1106 389h1v1h-1zM1107 390h1v1h-1zM1108 391h2v1h-2zM1110 392h3v1h-3zM1113 393h4v1h-4zM1117 392h4v1h-4zM1121 391h12v1h-12zM1133 392h3v1h-3zM1136 393h2v1h-2zM1138 394h2v1h-2zM1140 395h2v1h-2zM1142 396h2v1h-2zM1144 397h1v1h-1zM1145 398h2v1h-2zM1147 399h10v1h-10zM1157 398h3v1h-3zM1160 397h2v1h-2zM1162 396h7v1h-7zM1169 395h7v1h-7zM1176 394h2v1h-2zM1178 393h2v1h-2zM1180 392h1v1h-1zM1181 391h2v1h-2zM1183 390h1v1h-1zM1184 389h1v1h-1zM1185 388h1v1h-1zM1186 387h1v1h-1zM1187 386h1v1h-1zM1188 384h1v2h-1zM1189 383h1v1h-1zM1190 381h1v2h-1zM1191 380h1v1h-1zM1192 378h1v2h-1zM1193 377h1v1h-1zM1194 375h1v2h-1zM1195 374h1v1h-1zM1196 373h1v1h-1zM1197 371h1v2h-1zM1198 370h1v1h-1zM1199 369h1v1h-1zM1200 367h1v2h-1zM1201 366h1v1h-1zM1202 364h1v2h-1zM1203 363h1v1h-1zM1204 361h1v2h-1zM1205 359h1v2h-1zM1206 357h1v2h-1zM1207 356h1v1h-1zM1208 354h1v2h-1zM1209 352h1v2h-1zM1210 350h1v2h-1zM1211 349h1v1h-1zM1212 347h1v2h-1zM1213 346h1v1h-1zM1214 344h1v2h-1zM1215 343h1v1h-1zM1216 342h1v1h-1zM1217 340h1v2h-1zM1218 339h1v1h-1zM1219 338h1v1h-1zM1220 336h1v2h-1zM1221 334h1v2h-1zM1222 332h1v2h-1zM1223 330h1v2h-1zM1224 328h1v2h-1zM1225 326h1v2h-1zM1226 324h1v2h-1zM1227 321h1v3h-1zM1228 319h1v2h-1zM1229 316h1v3h-1zM1230 314h1v2h-1zM1231 311h1v3h-1zM1232 308h1v3h-1zM1233 306h1v2h-1zM1234 303h1v3h-1zM1235 301h1v2h-1zM1236 299h1v2h-1zM1237 297h1v2h-1zM1238 295h1v2h-1zM1239 294h1v1h-1zM1240 292h1v2h-1zM1241 290h1v2h-1zM1242 288h1v2h-1zM1243 287h1v1h-1zM1244 285h1v2h-1zM1245 283h1v2h-1zM1246 281h1v2h-1zM1247 279h1v2h-1zM1248 277h1v2h-1zM1249 275h1v2h-1zM1250 273h1v2h-1zM1251 272h1v1h-1zM1252 270h1v2h-1zM1253 268h1v2h-1zM1254 266h1v2h-1zM1255 265h1v1h-1zM1256 263h1v2h-1zM1257 261h1v2h-1zM1258 259h1v2h-1zM1259 257h1v2h-1zM1260 255h1v2h-1zM1261 253h1v2h-1zM1262 251h1v2h-1zM1263 250h1v1h-1zM1264 248h1v2h-1zM1265 247h1v1h-1zM1266 245h1v2h-1zM1267 244h1v1h-1zM1268 242h1v2h-1zM1269 241h1v1h-1zM1270 239h1v2h-1z" fill="#0000cd"/>
</g>
<rect x="1275" y="27" width="9" height="1" fill="#c0c0c0"/>
<rect x="1276" y="28" width="7" height="1" fill="#c0c0c0"/>
<rect x="1277" y="29" width="5" height="1" fill="#c0c0c0"/>
<rect x="1278" y="30" width="3" height="1" fill="#c0c0c0"/>
<rect x="1279" y="31" width="1" height="1" fill="#c0c0c0"/>
<rect x="6" y="26" width="1594" height="1" fill="#000"/>
<rect x="6" y="532" width="1594" height="1" fill="#000"/>
<rect x="6" y="26" width="1" height="507" fill="#000"/>
<rect x="1599" y="26" width="1" height="507" fill="#000"/>
<rect x="6" y="534" width="1594" height="1" fill="#000"/>
<rect x="6" y="626" width="1594" height="1" fill="#000"/>
<rect x="6" y="534" width="1" height="93" fill="#000"/>
<rect x="1599" y="534" width="1" height="93" fill="#000"/>
<rect x="6" y="628" width="1594" height="1" fill="#000"/>
<rect x="6" y="720" width="1594" height="1" fill="#000"/>
<rect x="6" y="628" width="1" height="93" fill="#000"/>
<rect x="1599" y="628" width="1" height="93" fill="#000"/>
<rect x="1599" y="220" width="1" height="1" fill="#e0e0e0"/>
<rect x="7" y="99" width="1593" height="2" fill="#ff0000"/>
<rect x="1600" y="100" width="1" height="1" fill="#000"/>
<rect x="6" y="97" width="6" height="6" fill="#ff0000"/>
<rect x="8" y="99" width="2" height="2" fill="#fff"/>
<rect x="1593" y="97" width="6" height="6" fill="#ff0000"/>
<rect x="1595" y="99" width="2" height="2" fill="#fff"/>
<rect x="7" y="155" width="1593" height="2" fill="#ff0000"/>
<rect x="1600" y="156" width="1" height="1" fill="#000"/>
<rect x="7" y="211" width="1593" height="2" fill="#00ff00"/>
<rect x="1600" y="211" width="1" height="2" fill="#00ff00"/>
<rect x="6" y="209" width="6" height="6" fill="#00ff00"/>
<rect x="8" y="211" width="2" height="2" fill="#fff"/>
<rect x="1593" y="209" width="6" height="6" fill="#00ff00"/>
<rect x="1595" y="211" width="2" height="2" fill="#fff"/>
<rect x="7" y="265" width="1593" height="2" fill="#0000ff"/>
<rect x="1600" y="266" width="1" height="1" fill="#000"/>
<rect x="6" y="263" width="6" height="6" fill="#0000ff"/>
<rect x="8" y="265" width="2" height="2" fill="#fff"/>
<rect x="1593" y="263" width="6" height="6" fill="#0000ff"/>
<rect x="1595" y="265" width="2" height="2" fill="#fff"/>
<rect x="7" y="320" width="1593" height="2" fill="#0000ff"/>
<rect x="1600" y="321" width="1" height="1" fill="#000"/>
<rect x="6" y="318" width="6" height="6" fill="#0000ff"/>
<rect x="8" y="320" width="2" height="2" fill="#fff"/>
<rect x="1593" y="318" width="6" height="6" fill="#0000ff"/>
<rect x="1595" y="320" width="2" height="2" fill="#fff"/>
<line x1="7" x2="1599" y1="562.5" y2="562.5" stroke="#c0c0c0" stroke-width="1" stroke-dasharray="3,3" stroke-dashoffset="5"/>
<line x1="7" x2="1599" y1="598.5" y2="598.5" stroke="#c0c0c0" stroke-width="1" stroke-dasharray="3,3" stroke-dashoffset="5"/>
<path d="M7 582h1v1h-1zM8 580h1v2h-1zM9 578h1v2h-1zM10 576h1v2h-1zM11 574h1v2h-1zM12 573h1v1h-1zM13 572h1v1h-1zM14 571h1v1h-1zM15 570h1v1h-1zM16 569h1v1h-1zM17 568h1v1h-1zM18 567h1v1h-1zM19 566h2v1h-2zM21 565h4v1h-4zM25 566h4v1h-4zM29 565h3v1h-3zM32 566h1v1h-1zM33 567h2v1h-2zM35 568h9v1h-9zM43 569h1v1h-1zM44 570h1v3h-1zM45 573h1v2h-1zM46 575h1v3h-1zM47 578h1v2h-1zM48 579h1v1h-1zM49 580h3v1h-3zM52 581h1v1h-1zM53 582h2v1h-2zM55 583h2v1h-2zM57 582h3v1h-3zM60 583h1v2h-1zM61 585h1v2h-1zM62 587h1v2h-1zM63 589h1v2h-1zM64 590h1v1h-1zM65 589h4v1h-4zM69 590h7v1h-7zM76 588h1v2h-1zM77 586h1v2h-1zM78 584h1v2h-1zM79 582h1v2h-1zM80 582h5v1h-5zM85 583h3v1h-3zM88 582h1v1h-1zM89 581h2v1h-2zM91 580h2v1h-2zM93 581h3v1h-3zM96 582h1v2h-1zM97 584h1v2h-1zM98 586h1v2h-1zM99 588h1v1h-1zM100 587h1v1h-1zM101 586h2v1h-2zM103 585h2v1h-2zM105 586h8v1h-8zM113 587h4v1h-4zM117 588h3v1h-3zM120 589h1v2h-1zM121 591h1v2h-1zM122 593h1v2h-1zM123 595h1v1h-1zM124 596h2v1h-2zM126 597h2v1h-2zM128 596h1v1h-1zM129 595h1v1h-1zM130 594h1v1h-1zM131 593h1v1h-1zM132 594h1v1h-1zM133 595h1v1h-1zM134 596h1v1h-1zM135 597h2v1h-2zM137 596h3v1h-3zM140 595h1v1h-1zM141 594h1v1h-1zM142 593h1v1h-1zM143 592h2v1h-2zM145 591h3v1h-3zM148 592h1v1h-1zM149 593h2v1h-2zM151 594h1v1h-1zM152 595h1v2h-1zM153 597h1v2h-1zM154 599h1v2h-1zM155 600h1v2h-1zM156 598h1v2h-1zM157 595h1v3h-1zM158 593h1v2h-1zM159 591h1v2h-1zM160 591h4v1h-4zM163 590h1v1h-1zM164 587h1v3h-1zM165 583h1v4h-1zM166 580h1v3h-1zM167 578h1v2h-1zM168 578h4v1h-4zM172 577h1v1h-1zM173 576h1v1h-1zM174 575h1v1h-1zM175 574h1v1h-1zM176 575h1v1h-1zM177 576h1v1h-1zM178 577h1v1h-1zM179 578h1v1h-1zM180 577h2v1h-2zM182 576h2v1h-2zM184 577h2v1h-2zM186 578h3v1h-3zM189 577h3v1h-3zM192 578h1v1h-1zM193 579h1v1h-1zM194 580h1v1h-1zM195 581h1v1h-1zM196 582h1v1h-1zM197 583h1v2h-1zM198 585h1v1h-1zM199 586h1v1h-1zM200 587h1v1h-1zM201 588h1v2h-1zM202 590h1v1h-1zM203 591h2v1h-2zM205 592h4v1h-4zM209 591h12v1h-12zM221 590h4v1h-4zM225 591h3v1h-3zM227 590h1v1h-1zM228 587h1v3h-1zM229 585h1v2h-1zM230 582h1v3h-1zM231 580h1v2h-1zM232 580h4v1h-4zM236 581h1v2h-1zM237 583h1v1h-1zM238 584h1v2h-1zM239 586h1v1h-1zM240 587h2v1h-2zM242 588h2v1h-2zM244 589h2v1h-2zM246 590h2v1h-2zM248 591h1v1h-1zM249 592h2v1h-2zM251 593h1v1h-1zM252 594h1v2h-1zM253 596h1v2h-1zM254 598h1v2h-1zM255 600h2v1h-2zM257 601h11v1h-11zM267 600h1v1h-1zM268 597h1v3h-1zM269 595h1v2h-1zM270 592h1v3h-1zM271 590h1v2h-1zM272 589h1v1h-1zM273 588h2v1h-2zM275 587h2v1h-2zM277 586h3v1h-3zM280 587h2v1h-2zM282 588h2v1h-2zM284 587h1v1h-1zM285 585h1v2h-1zM286 584h1v1h-1zM287 583h1v1h-1zM288 584h2v1h-2zM290 585h2v1h-2zM292 586h1v2h-1zM293 588h1v1h-1zM294 589h1v2h-1zM295 590h1v2h-1zM296 587h1v3h-1zM297 584h1v3h-1zM298 581h1v3h-1zM299 579h1v2h-1zM300 579h5v1h-5zM305 580h3v1h-3zM308 581h1v2h-1zM309 583h1v2h-1zM310 585h1v2h-1zM311 587h1v2h-1zM312 586h1v2h-1zM313 584h1v2h-1zM314 582h1v2h-1zM315 580h1v2h-1zM316 580h1v1h-1zM317 581h4v1h-4zM321 582h3v1h-3zM324 583h1v1h-1zM325 584h1v2h-1zM326 586h1v1h-1zM327 587h2v1h-2zM329 586h3v1h-3zM332 587h2v1h-2zM334 588h2v1h-2zM336 587h2v1h-2zM338 586h2v1h-2zM340 587h1v2h-1zM341 589h1v1h-1zM342 590h1v2h-1zM343 592h2v1h-2zM345 593h4v1h-4zM349 592h4v1h-4zM353 593h3v1h-3zM356 594h1v1h-1zM357 595h2v1h-2zM359 596h1v1h-1zM360 595h1v1h-1zM361 593h1v2h-1zM362 592h1v1h-1zM363 591h1v1h-1zM364 590h1v1h-1zM365 589h2v1h-2zM367 588h1v1h-1zM368 586h1v2h-1zM369 585h1v1h-1zM370 583h1v2h-1zM371 582h1v1h-1zM372 583h2v1h-2zM374 584h2v1h-2zM376 583h2v1h-2zM378 582h6v1h-6zM384 583h1v1h-1zM385 584h1v2h-1zM386 586h1v1h-1zM387 587h1v1h-1zM388 586h1v1h-1zM389 584h1v2h-1zM390 583h1v1h-1zM391 582h1v1h-1zM392 581h1v1h-1zM393 579h1v2h-1zM394 578h1v1h-1zM395 577h1v1h-1zM396 576h1v1h-1zM397 575h2v1h-2zM399 574h5v1h-5zM404 575h2v1h-2zM406 576h3v1h-3zM409 575h3v1h-3zM412 574h1v1h-1zM413 572h1v2h-1zM414 571h1v1h-1zM415 570h1v1h-1zM416 568h1v2h-1zM417 567h1v1h-1zM418 565h1v2h-1zM419 564h1v1h-1zM420 563h2v1h-2zM422 562h6v1h-6zM428 563h1v1h-1zM429 564h2v1h-2zM431 565h2v1h-2zM433 566h3v1h-3zM436 567h1v1h-1zM437 568h1v1h-1zM438 569h1v1h-1zM439 570h1v1h-1zM440 571h1v1h-1zM441 572h1v1h-1zM442 573h1v1h-1zM443 574h1v1h-1zM444 575h1v1h-1zM445 576h2v1h-2zM447 577h5v1h-5zM452 576h2v1h-2zM454 575h2v1h-2zM456 574h1v1h-1zM457 573h1v1h-1zM458 572h1v1h-1zM459 571h5v1h-5zM464 570h1v1h-1zM465 568h1v2h-1zM466 567h1v1h-1zM467 566h2v1h-2zM469 565h4v1h-4zM473 566h3v1h-3zM476 567h2v1h-2zM478 568h2v1h-2zM479 569h1v1h-1zM480 570h1v4h-1zM481 574h1v4h-1zM482 578h1v4h-1zM483 582h1v2h-1zM484 583h4v1h-4zM488 584h1v1h-1zM489 585h1v1h-1zM490 586h1v1h-1zM491 587h1v1h-1zM492 588h1v1h-1zM493 589h2v1h-2zM495 590h5v1h-5zM500 589h1v1h-1zM501 588h2v1h-2zM503 587h1v1h-1zM504 588h1v1h-1zM505 589h2v1h-2zM507 590h2v1h-2zM509 591h7v1h-7zM515 590h1v1h-1zM516 588h1v2h-1zM517 586h1v2h-1zM518 584h1v2h-1zM519 582h1v2h-1zM520 582h1v1h-1zM521 581h3v1h-3zM524 580h1v1h-1zM525 579h1v1h-1zM526 578h1v1h-1zM527 577h5v1h-5zM532 578h1v1h-1zM533 579h2v1h-2zM535 580h1v1h-1zM536 579h2v1h-2zM538 578h2v1h-2zM540 579h1v2h-1zM541 581h1v2h-1zM542 583h1v2h-1zM543 585h2v1h-2zM545 586h3v1h-3zM548 587h1v1h-1zM549 588h2v1h-2zM551 589h5v1h-5zM556 590h2v1h-2zM558 591h2v1h-2zM560 590h2v1h-2zM562 589h2v1h-2zM564 588h1v1h-1zM565 586h1v2h-1zM566 585h1v1h-1zM567 584h1v1h-1zM568 585h2v1h-2zM570 586h2v1h-2zM571 585h1v1h-1zM572 582h1v3h-1zM573 580h1v2h-1zM574 577h1v3h-1zM575 575h1v2h-1zM576 574h2v1h-2zM578 573h3v1h-3zM581 572h4v1h-4zM585 571h3v1h-3zM587 572h1v1h-1zM588 573h1v2h-1zM589 575h1v2h-1zM590 577h1v2h-1zM591 579h1v2h-1zM592 580h4v1h-4zM596 579h1v1h-1zM597 578h2v1h-2zM599 577h1v1h-1zM600 576h1v1h-1zM601 575h1v1h-1zM602 574h1v1h-1zM603 573h1v1h-1zM604 574h2v1h-2zM606 575h2v1h-2zM608 573h1v2h-1zM609 572h1v1h-1zM610 570h1v2h-1zM611 569h1v1h-1zM612 568h2v1h-2zM614 567h2v1h-2zM616 568h1v1h-1zM617 569h2v1h-2zM619 570h1v1h-1zM620 569h2v1h-2zM622 568h2v1h-2zM624 567h1v1h-1zM625 566h2v1h-2zM627 565h1v1h-1zM628 566h1v2h-1zM629 568h1v2h-1zM630 570h1v2h-1zM631 572h1v1h-1zM632 573h2v1h-2zM634 574h2v1h-2zM636 575h1v2h-1zM637 577h1v1h-1zM638 578h1v2h-1zM639 580h1v1h-1zM640 581h1v1h-1zM641 582h2v1h-2zM643 583h1v1h-1zM644 582h1v1h-1zM645 581h2v1h-2zM647 580h2v1h-2zM649 579h3v1h-3zM652 580h2v1h-2zM654 581h2v1h-2zM656 580h1v1h-1zM657 579h1v1h-1zM658 578h1v1h-1zM659 576h1v2h-1zM660 574h1v2h-1zM661 572h1v2h-1zM662 570h1v2h-1zM663 568h1v2h-1zM664 567h2v1h-2zM666 566h2v1h-2zM668 565h2v1h-2zM670 564h2v1h-2zM672 563h1v1h-1zM673 562h2v1h-2zM675 561h1v1h-1zM676 562h2v1h-2zM678 563h2v1h-2zM680 564h1v1h-1zM681 565h2v1h-2zM683 566h1v1h-1zM684 567h1v2h-1zM685 569h1v2h-1zM686 571h1v2h-1zM687 573h1v2h-1zM688 574h4v1h-4zM692 573h1v1h-1zM693 572h2v1h-2zM695 571h1v1h-1zM696 572h1v2h-1zM697 574h1v2h-1zM698 576h1v2h-1zM699 578h1v2h-1zM700 580h1v1h-1zM701 581h1v1h-1zM702 582h1v1h-1zM703 583h1v1h-1zM704 584h2v1h-2zM706 585h2v1h-2zM708 584h2v1h-2zM710 583h3v1h-3zM713 582h3v1h-3zM716 581h1v1h-1zM717 580h2v1h-2zM719 579h1v1h-1zM720 580h1v1h-1zM721 581h2v1h-2zM723 582h1v1h-1zM724 580h1v2h-1zM725 579h1v1h-1zM726 577h1v2h-1zM727 576h1v1h-1zM728 577h1v1h-1zM729 578h2v1h-2zM731 579h1v1h-1zM732 580h1v2h-1zM733 582h1v2h-1zM734 584h1v2h-1zM735 586h5v1h-5zM740 587h2v1h-2zM742 588h2v1h-2zM744 587h1v1h-1zM745 586h2v1h-2zM747 585h1v1h-1zM748 586h1v1h-1zM749 587h2v1h-2zM751 588h1v1h-1zM752 589h1v1h-1zM753 590h1v1h-1zM754 591h1v1h-1zM755 592h1v1h-1zM756 593h1v1h-1zM757 594h2v1h-2zM759 595h2v1h-2zM761 594h3v1h-3zM764 595h2v1h-2zM766 596h3v1h-3zM769 597h7v1h-7zM775 596h1v1h-1zM776 594h1v2h-1zM777 592h1v2h-1zM778 590h1v2h-1zM779 587h1v3h-1zM780 585h1v2h-1zM781 583h1v2h-1zM782 581h1v2h-1zM783 579h1v2h-1zM784 579h1v1h-1zM785 578h3v1h-3zM788 579h1v2h-1zM789 581h1v1h-1zM790 582h1v2h-1zM791 584h1v1h-1zM792 585h2v1h-2zM794 586h2v1h-2zM796 587h1v1h-1zM797 588h1v2h-1zM798 590h1v1h-1zM799 591h1v1h-1zM800 592h1v1h-1zM801 593h2v1h-2zM803 594h1v1h-1zM804 595h2v1h-2zM806 596h3v1h-3zM809 597h3v1h-3zM812 598h2v1h-2zM814 599h3v1h-3zM817 600h3v1h-3zM820 601h2v1h-2zM822 602h2v1h-2zM824 603h1v1h-1zM825 604h1v1h-1zM826 605h1v1h-1zM827 606h10v1h-10zM837 607h7v1h-7zM844 608h1v1h-1zM845 609h2v1h-2zM847 610h1v1h-1zM848 609h1v1h-1zM849 608h1v1h-1zM850 607h1v1h-1zM851 605h1v2h-1zM852 602h1v3h-1zM853 599h1v3h-1zM854 596h1v3h-1zM855 594h1v2h-1zM856 594h1v1h-1zM857 593h7v1h-7zM864 592h2v1h-2zM866 591h6v1h-6zM871 589h1v2h-1zM872 584h1v5h-1zM873 579h1v5h-1zM874 574h1v5h-1zM875 571h1v3h-1zM876 571h4v1h-4zM880 570h1v1h-1zM881 568h1v2h-1zM882 567h1v1h-1zM883 566h1v1h-1zM884 564h1v2h-1zM885 562h1v2h-1zM886 560h1v2h-1zM887 558h1v2h-1zM888 557h2v1h-2zM890 556h2v1h-2zM892 557h1v2h-1zM893 559h1v1h-1zM894 560h1v2h-1zM895 562h1v1h-1zM896 561h1v1h-1zM897 560h2v1h-2zM899 559h1v1h-1zM900 558h1v1h-1zM901 556h1v2h-1zM902 555h1v1h-1zM903 554h2v1h-2zM905 553h3v1h-3zM908 552h1v1h-1zM909 551h2v1h-2zM911 550h1v2h-1zM912 552h1v2h-1zM913 554h1v3h-1zM914 557h1v2h-1zM915 559h1v2h-1zM916 561h1v2h-1zM917 563h1v1h-1zM918 564h1v2h-1zM919 566h1v2h-1zM920 568h1v4h-1zM921 572h1v4h-1zM922 576h1v4h-1zM923 580h1v2h-1zM924 581h1v1h-1zM925 582h7v1h-7zM932 581h1v1h-1zM933 579h1v2h-1zM934 578h1v1h-1zM935 577h1v2h-1zM936 579h1v2h-1zM937 581h1v3h-1zM938 584h1v2h-1zM939 586h1v2h-1zM940 588h1v2h-1zM941 590h1v1h-1zM942 591h1v2h-1zM943 593h1v1h-1zM944 594h1v1h-1zM945 595h1v1h-1zM946 596h1v1h-1zM947 597h2v1h-2zM949 598h4v1h-4zM953 599h3v1h-3zM956 597h1v2h-1zM957 595h1v2h-1zM958 593h1v2h-1zM959 591h1v2h-1zM960 590h2v1h-2zM962 589h2v1h-2zM964 588h2v1h-2zM966 587h2v1h-2zM967 586h1v1h-1zM968 584h1v2h-1zM969 581h1v3h-1zM970 579h1v2h-1zM971 577h1v2h-1zM972 576h2v1h-2zM974 575h2v1h-2zM976 574h2v1h-2zM978 573h2v1h-2zM980 574h1v1h-1zM981 575h1v2h-1zM982 577h1v1h-1zM983 578h5v1h-5zM988 579h1v1h-1zM989 580h1v1h-1zM990 581h1v1h-1zM991 582h1v1h-1zM992 583h1v1h-1zM993 584h1v1h-1zM994 585h1v1h-1zM995 586h1v1h-1zM996 587h2v1h-2zM998 588h10v1h-10zM1008 587h1v1h-1zM1009 585h1v2h-1zM1010 584h1v1h-1zM1011 583h2v1h-2zM1013 584h3v1h-3zM1016 583h1v1h-1zM1017 582h1v1h-1zM1018 581h1v1h-1zM1019 580h2v1h-2zM1021 579h4v1h-4zM1025 580h3v1h-3zM1028 581h2v1h-2zM1030 582h2v1h-2zM1032 581h1v1h-1zM1033 579h1v2h-1zM1034 578h1v1h-1zM1035 577h1v1h-1zM1036 578h1v1h-1zM1037 579h1v1h-1zM1038 580h1v1h-1zM1039 581h1v1h-1zM1040 582h1v1h-1zM1041 583h1v1h-1zM1042 584h1v1h-1zM1043 585h1v1h-1zM1044 584h1v1h-1zM1045 583h2v1h-2zM1047 582h2v1h-2zM1049 583h8v1h-8zM1057 584h3v1h-3zM1060 585h2v1h-2zM1062 586h3v1h-3zM1065 587h4v1h-4zM1069 588h7v1h-7zM1076 587h1v1h-1zM1077 586h2v1h-2zM1079 585h2v1h-2zM1081 584h3v1h-3zM1084 583h2v1h-2zM1086 582h2v1h-2zM1088 580h1v2h-1zM1089 578h1v2h-1zM1090 576h1v2h-1zM1091 575h1v1h-1zM1092 574h1v1h-1zM1093 572h1v2h-1zM1094 571h1v1h-1zM1095 570h1v1h-1zM1096 571h2v1h-2zM1098 572h2v1h-2zM1100 573h1v2h-1zM1101 575h1v2h-1zM1102 577h1v2h-1zM1103 579h1v1h-1zM1104 580h1v1h-1zM1105 581h1v2h-1zM1106 583h1v1h-1zM1107 584h1v1h-1zM1108 585h1v1h-1zM1109 586h2v1h-2zM1111 587h2v1h-2zM1113 586h3v1h-3zM1116 585h1v1h-1zM1117 584h1v1h-1zM1118 583h1v1h-1zM1119 582h2v1h-2zM1121 583h3v1h-3zM1124 584h2v1h-2zM1126 585h2v1h-2zM1128 584h1v1h-1zM1129 583h1v1h-1zM1130 582h1v1h-1zM1131 581h1v1h-1zM1132 582h2v1h-2zM1134 583h2v1h-2zM1136 584h1v1h-1zM1137 585h2v1h-2zM1139 586h1v1h-1zM1140 585h2v1h-2zM1142 584h3v1h-3zM1145 585h3v1h-3zM1147 584h1v1h-1zM1148 582h1v2h-1zM1149 580h1v2h-1zM1150 578h1v2h-1zM1151 576h1v2h-1zM1152 575h1v1h-1zM1153 574h2v1h-2zM1155 573h1v1h-1zM1156 572h1v1h-1zM1157 571h2v1h-2zM1159 570h1v1h-1zM1160 571h1v1h-1zM1161 572h2v1h-2zM1163 573h1v1h-1zM1164 574h1v2h-1zM1165 576h1v1h-1zM1166 577h1v2h-1zM1167 579h2v1h-2zM1169 578h4v1h-4zM1173 579h3v1h-3zM1176 577h1v2h-1zM1177 575h1v2h-1zM1178 573h1v2h-1zM1179 572h2v1h-2zM1181 573h3v1h-3zM1184 571h1v2h-1zM1185 569h1v2h-1zM1186 567h1v2h-1zM1187 565h1v2h-1zM1188 564h2v1h-2zM1190 563h3v1h-3zM1193 564h4v1h-4zM1197 563h3v1h-3zM1200 562h1v1h-1zM1201 561h2v1h-2zM1203 560h1v1h-1zM1204 559h1v1h-1zM1205 558h2v1h-2zM1207 557h1v1h-1zM1208 556h1v1h-1zM1209 555h2v1h-2zM1211 554h1v1h-1zM1212 555h1v1h-1zM1213 556h2v1h-2zM1215 557h2v1h-2zM1217 558h7v1h-7zM1224 557h1v1h-1zM1225 556h2v1h-2zM1227 555h6v1h-6zM1233 554h3v1h-3zM1235 555h1v1h-1zM1236 556h1v4h-1zM1237 560h1v4h-1zM1238 564h1v4h-1zM1239 568h1v3h-1zM1240 571h2v1h-2zM1242 572h2v1h-2zM1244 571h1v1h-1zM1245 570h2v1h-2zM1247 569h1v1h-1zM1248 570h2v1h-2zM1250 571h2v1h-2zM1252 572h1v1h-1zM1253 573h2v1h-2zM1255 574h2v1h-2zM1257 575h3v1h-3zM1260 576h1v1h-1zM1261 577h2v1h-2zM1263 578h8v1h-8z" fill="#1e90ff"/>
<rect x="7" y="681" width="1" height="3" fill="#c0c0c0"/>
<rect x="11" y="680" width="1" height="4" fill="#c0c0c0"/>
<rect x="15" y="677" width="1" height="7" fill="#c0c0c0"/>
<rect x="19" y="674" width="1" height="10" fill="#c0c0c0"/>
<rect x="23" y="671" width="1" height="13" fill="#c0c0c0"/>
<rect x="27" y="669" width="1" height="15" fill="#c0c0c0"/>
<rect x="31" y="667" width="1" height="17" fill="#c0c0c0"/>
<rect x="35" y="667" width="1" height="17" fill="#c0c0c0"/>
<rect x="39" y="667" width="1" height="17" fill="#c0c0c0"/>
<rect x="43" y="666" width="1" height="18" fill="#c0c0c0"/>
<rect x="47" y="669" width="1" height="15" fill="#c0c0c0"/>
<rect x="51" y="671" width="1" height="13" fill="#c0c0c0"/>
<rect x="55" y="674" width="1" height="10" fill="#c0c0c0"/>
<rect x="59" y="675" width="1" height="9" fill="#c0c0c0"/>
<rect x="63" y="679" width="1" height="5" fill="#c0c0c0"/>
<rect x="67" y="682" width="1" height="2" fill="#c0c0c0"/>
<rect x="71" y="683" width="1" height="3" fill="#c0c0c0"/>
<rect x="75" y="683" width="1" height="5" fill="#c0c0c0"/>
<rect x="79" y="683" width="1" height="5" fill="#c0c0c0"/>
<rect x="83" y="683" width="1" height="5" fill="#c0c0c0"/>
<rect x="87" y="683" width="1" height="5" fill="#c0c0c0"/>
<rect x="91" y="683" width="1" height="4" fill="#c0c0c0"/>
<rect x="95" y="683" width="1" height="4" fill="#c0c0c0"/>
<rect x="99" y="683" width="1" height="5" fill="#c0c0c0"/>
<rect x="103" y="683" width="1" height="6" fill="#c0c0c0"/>
<rect x="107" y="683" width="1" height="6" fill="#c0c0c0"/>
<rect x="111" y="683" width="1" height="7" fill="#c0c0c0"/>
<rect x="115" y="683" width="1" height="7" fill="#c0c0c0"/>
<rect x="119" y="683" width="1" height="7" fill="#c0c0c0"/>
<rect x="123" y="683" width="1" height="10" fill="#c0c0c0"/>
<rect x="127" y="683" width="1" height="12" fill="#c0c0c0"/>
<rect x="131" y="683" width="1" height="13" fill="#c0c0c0"/>
<rect x="135" y="683" width="1" height="14" fill="#c0c0c0"/>
<rect x="139" y="683" width="1" height="15" fill="#c0c0c0"/>
<rect x="143" y="683" width="1" height="15" fill="#c0c0c0"/>
<rect x="147" y="683" width="1" height="15" fill="#c0c0c0"/>
<rect x="151" y="683" width="1" height="16" fill="#c0c0c0"/>
<rect x="155" y="683" width="1" height="18" fill="#c0c0c0"/>
<rect x="159" y="683" width="1" height="18" fill="#c0c0c0"/>
<rect x="163" y="683" width="1" height="17" fill="#c0c0c0"/>
<rect x="167" y="683" width="1" height="14" fill="#c0c0c0"/>
<rect x="171" y="683" width="1" height="12" fill="#c0c0c0"/>
<rect x="175" y="683" width="1" height="8" fill="#c0c0c0"/>
<rect x="179" y="683" width="1" height="7" fill="#c0c0c0"/>
<rect x="183" y="683" width="1" height="5" fill="#c0c0c0"/>
<rect x="187" y="683" width="1" height="4" fill="#c0c0c0"/>
<rect x="191" y="683" width="1" height="3" fill="#c0c0c0"/>
<rect x="195" y="683" width="1" height="3" fill="#c0c0c0"/>
<rect x="199" y="683" width="1" height="4" fill="#c0c0c0"/>
<rect x="203" y="683" width="1" height="6" fill="#c0c0c0"/>
<rect x="207" y="683" width="1" height="8" fill="#c0c0c0"/>
<rect x="211" y="683" width="1" height="10" fill="#c0c0c0"/>
<rect x="215" y="683" width="1" height="11" fill="#c0c0c0"/>
<rect x="219" y="683" width="1" height="12" fill="#c0c0c0"/>
<rect x="223" y="683" width="1" height="12" fill="#c0c0c0"/>
<rect x="227" y="683" width="1" height="12" fill="#c0c0c0"/>
<rect x="231" y="683" width="1" height="11" fill="#c0c0c0"/>
<rect x="235" y="683" width="1" height="9" fill="#c0c0c0"/>
<rect x="239" y="683" width="1" height="9" fill="#c0c0c0"/>
<rect x="243" y="683" width="1" height="9" fill="#c0c0c0"/>
<rect x="247" y="683" width="1" height="10" fill="#c0c0c0"/>
<rect x="251" y="683" width="1" height="11" fill="#c0c0c0"/>
<rect x="255" y="683" width="1" height="14" fill="#c0c0c0"/>
<rect x="259" y="683" width="1" height="17" fill="#c0c0c0"/>
<rect x="263" y="683" width="1" height="19" fill="#c0c0c0"/>
<rect x="267" y="683" width="1" height="20" fill="#c0c0c0"/>
<rect x="271" y="683" width="1" height="20" fill="#c0c0c0"/>
<rect x="275" y="683" width="1" height="18" fill="#c0c0c0"/>
<rect x="279" y="683" width="1" height="17" fill="#c0c0c0"/>
<rect x="283" y="683" width="1" height="16" fill="#c0c0c0"/>
<rect x="287" y="683" width="1" height="14" fill="#c0c0c0"/>
<rect x="291" y="683" width="1" height="13" fill="#c0c0c0"/>
<rect x="295" y="683" width="1" height="14" fill="#c0c0c0"/>
<rect x="299" y="683" width="1" height="11" fill="#c0c0c0"/>
<rect x="303" y="683" width="1" height="10" fill="#c0c0c0"/>
<rect x="307" y="683" width="1" height="8" fill="#c0c0c0"/>
<rect x="311" y="683" width="1" height="9" fill="#c0c0c0"/>
<rect x="315" y="683" width="1" height="8" fill="#c0c0c0"/>
<rect x="319" y="683" width="1" height="7" fill="#c0c0c0"/>
<rect x="323" y="683" width="1" height="6" fill="#c0c0c0"/>
<rect x="327" y="683" width="1" height="7" fill="#c0c0c0"/>
<rect x="331" y="683" width="1" height="8" fill="#c0c0c0"/>
<rect x="335" y="683" width="1" height="9" fill="#c0c0c0"/>
<rect x="339" y="683" width="1" height="9" fill="#c0c0c0"/>
<rect x="343" y="683" width="1" height="11" fill="#c0c0c0"/>
<rect x="347" y="683" width="1" height="13" fill="#c0c0c0"/>
<rect x="351" y="683" width="1" height="14" fill="#c0c0c0"/>
<rect x="355" y="683" width="1" height="14" fill="#c0c0c0"/>
<rect x="359" y="683" width="1" height="16" fill="#c0c0c0"/>
<rect x="363" y="683" width="1" height="16" fill="#c0c0c0"/>
<rect x="367" y="683" width="1" height="16" fill="#c0c0c0"/>
<rect x="371" y="683" width="1" height="14" fill="#c0c0c0"/>
<rect x="375" y="683" width="1" height="13" fill="#c0c0c0"/>
<rect x="379" y="683" width="1" height="11" fill="#c0c0c0"/>
<rect x="383" y="683" width="1" height="10" fill="#c0c0c0"/>
<rect x="387" y="683" width="1" height="10" fill="#c0c0c0"/>
<rect x="391" y="683" width="1" height="9" fill="#c0c0c0"/>
<rect x="395" y="683" width="1" height="7" fill="#c0c0c0"/>
<rect x="399" y="683" width="1" height="5" fill="#c0c0c0"/>
<rect x="403" y="683" width="1" height="3" fill="#c0c0c0"/>
<rect x="407" y="683" width="1" height="2" fill="#c0c0c0"/>
<rect x="411" y="682" width="1" height="2" fill="#c0c0c0"/>
<rect x="415" y="680" width="1" height="4" fill="#c0c0c0"/>
<rect x="419" y="677" width="1" height="7" fill="#c0c0c0"/>
<rect x="423" y="673" width="1" height="11" fill="#c0c0c0"/>
<rect x="427" y="671" width="1" height="13" fill="#c0c0c0"/>
<rect x="431" y="669" width="1" height="15" fill="#c0c0c0"/>
<rect x="435" y="668" width="1" height="16" fill="#c0c0c0"/>
<rect x="439" y="669" width="1" height="15" fill="#c0c0c0"/>
<rect x="443" y="669" width="1" height="15" fill="#c0c0c0"/>
<rect x="447" y="671" width="1" height="13" fill="#c0c0c0"/>
<rect x="451" y="672" width="1" height="12" fill="#c0c0c0"/>
<rect x="455" y="673" width="1" height="11" fill="#c0c0c0"/>
<rect x="459" y="673" width="1" height="11" fill="#c0c0c0"/>
<rect x="463" y="673" width="1" height="11" fill="#c0c0c0"/>
<rect x="467" y="672" width="1" height="12" fill="#c0c0c0"/>
<rect x="471" y="671" width="1" height="13" fill="#c0c0c0"/>
<rect x="475" y="670" width="1" height="14" fill="#c0c0c0"/>
<rect x="479" y="670" width="1" height="14" fill="#c0c0c0"/>
<rect x="483" y="673" width="1" height="11" fill="#c0c0c0"/>
<rect x="487" y="675" width="1" height="9" fill="#c0c0c0"/>
<rect x="491" y="678" width="1" height="6" fill="#c0c0c0"/>
<rect x="495" y="681" width="1" height="3" fill="#c0c0c0"/>
<rect x="499" y="683" width="1" height="1" fill="#c0c0c0"/>
<rect x="503" y="683" width="1" height="2" fill="#c0c0c0"/>
<rect x="507" y="683" width="1" height="4" fill="#c0c0c0"/>
<rect x="511" y="683" width="1" height="6" fill="#c0c0c0"/>
<rect x="515" y="683" width="1" height="7" fill="#c0c0c0"/>
<rect x="519" y="683" width="1" height="6" fill="#c0c0c0"/>
<rect x="523" y="683" width="1" height="6" fill="#c0c0c0"/>
<rect x="527" y="683" width="1" height="4" fill="#c0c0c0"/>
<rect x="531" y="683" width="1" height="3" fill="#c0c0c0"/>
<rect x="535" y="683" width="1" height="3" fill="#c0c0c0"/>
<rect x="539" y="683" width="1" height="2" fill="#c0c0c0"/>
<rect x="543" y="683" width="1" height="3" fill="#c0c0c0"/>
<rect x="547" y="683" width="1" height="4" fill="#c0c0c0"/>
<rect x="551" y="683" width="1" height="5" fill="#c0c0c0"/>
<rect x="555" y="683" width="1" height="6" fill="#c0c0c0"/>
<rect x="559" y="683" width="1" height="7" fill="#c0c0c0"/>
<rect x="563" y="683" width="1" height="7" fill="#c0c0c0"/>
<rect x="567" y="683" width="1" height="7" fill="#c0c0c0"/>
<rect x="571" y="683" width="1" height="7" fill="#c0c0c0"/>
<rect x="575" y="683" width="1" height="5" fill="#c0c0c0"/>
<rect x="579" y="683" width="1" height="3" fill="#c0c0c0"/>
<rect x="583" y="683" width="1" height="2" fill="#c0c0c0"/>
<rect x="587" y="682" width="1" height="2" fill="#c0c0c0"/>
<rect x="591" y="682" width="1" height="2" fill="#c0c0c0"/>
<rect x="595" y="682" width="1" height="2" fill="#c0c0c0"/>
<rect x="599" y="682" width="1" height="2" fill="#c0c0c0"/>
<rect x="603" y="681" width="1" height="3" fill="#c0c0c0"/>
<rect x="607" y="680" width="1" height="4" fill="#c0c0c0"/>
<rect x="611" y="679" width="1" height="5" fill="#c0c0c0"/>
<rect x="615" y="677" width="1" height="7" fill="#c0c0c0"/>
<rect x="619" y="677" width="1" height="7" fill="#c0c0c0"/>
<rect x="623" y="676" width="1" height="8" fill="#c0c0c0"/>
<rect x="627" y="674" width="1" height="10" fill="#c0c0c0"/>
<rect x="631" y="674" width="1" height="10" fill="#c0c0c0"/>
<rect x="635" y="675" width="1" height="9" fill="#c0c0c0"/>
<rect x="639" y="676" width="1" height="8" fill="#c0c0c0"/>
<rect x="643" y="678" width="1" height="6" fill="#c0c0c0"/>
<rect x="647" y="678" width="1" height="6" fill="#c0c0c0"/>
<rect x="651" y="679" width="1" height="5" fill="#c0c0c0"/>
<rect x="655" y="680" width="1" height="4" fill="#c0c0c0"/>
<rect x="659" y="680" width="1" height="4" fill="#c0c0c0"/>
<rect x="663" y="678" width="1" height="6" fill="#c0c0c0"/>
<rect x="667" y="676" width="1" height="8" fill="#c0c0c0"/>
<rect x="671" y="674" width="1" height="10" fill="#c0c0c0"/>
<rect x="675" y="672" width="1" height="12" fill="#c0c0c0"/>
<rect x="679" y="670" width="1" height="14" fill="#c0c0c0"/>
<rect x="683" y="670" width="1" height="14" fill="#c0c0c0"/>
<rect x="687" y="671" width="1" height="13" fill="#c0c0c0"/>
<rect x="691" y="671" width="1" height="13" fill="#c0c0c0"/>
<rect x="695" y="671" width="1" height="13" fill="#c0c0c0"/>
<rect x="699" y="673" width="1" height="11" fill="#c0c0c0"/>
<rect x="703" y="675" width="1" height="9" fill="#c0c0c0"/>
<rect x="707" y="677" width="1" height="7" fill="#c0c0c0"/>
<rect x="711" y="679" width="1" height="5" fill="#c0c0c0"/>
<rect x="715" y="680" width="1" height="4" fill="#c0c0c0"/>
<rect x="719" y="680" width="1" height="4" fill="#c0c0c0"/>
<rect x="723" y="681" width="1" height="3" fill="#c0c0c0"/>
<rect x="727" y="681" width="1" height="3" fill="#c0c0c0"/>
<rect x="731" y="681" width="1" height="3" fill="#c0c0c0"/>
<rect x="735" y="682" width="1" height="2" fill="#c0c0c0"/>
<rect x="739" y="683" width="1" height="2" fill="#c0c0c0"/>
<rect x="743" y="683" width="1" height="3" fill="#c0c0c0"/>
<rect x="747" y="683" width="1" height="4" fill="#c0c0c0"/>
<rect x="751" y="683" width="1" height="5" fill="#c0c0c0"/>
<rect x="755" y="683" width="1" height="7" fill="#c0c0c0"/>
<rect x="759" y="683" width="1" height="9" fill="#c0c0c0"/>
<rect x="763" y="683" width="1" height="10" fill="#c0c0c0"/>
<rect x="767" y="683" width="1" height="11" fill="#c0c0c0"/>
<rect x="771" y="683" width="1" height="13" fill="#c0c0c0"/>
<rect x="775" y="683" width="1" height="14" fill="#c0c0c0"/>
<rect x="779" y="683" width="1" height="13" fill="#c0c0c0"/>
<rect x="783" y="683" width="1" height="11" fill="#c0c0c0"/>
<rect x="787" y="683" width="1" height="9" fill="#c0c0c0"/>
<rect x="791" y="683" width="1" height="9" fill="#c0c0c0"/>
<rect x="795" y="683" width="1" height="9" fill="#c0c0c0"/>
<rect x="799" y="683" width="1" height="10" fill="#c0c0c0"/>
<rect x="803" y="683" width="1" height="11" fill="#c0c0c0"/>
<rect x="807" y="683" width="1" height="13" fill="#c0c0c0"/>
<rect x="811" y="683" width="1" height="15" fill="#c0c0c0"/>
<rect x="815" y="683" width="1" height="16" fill="#c0c0c0"/>
<rect x="819" y="683" width="1" height="18" fill="#c0c0c0"/>
<rect x="823" y="683" width="1" height="20" fill="#c0c0c0"/>
<rect x="827" y="683" width="1" height="22" fill="#c0c0c0"/>
<rect x="831" y="683" width="1" height="24" fill="#c0c0c0"/>
<rect x="835" y="683" width="1" height="25" fill="#c0c0c0"/>
<rect x="839" y="683" width="1" height="27" fill="#c0c0c0"/>
<rect x="843" y="683" width="1" height="27" fill="#c0c0c0"/>
<rect x="847" y="683" width="1" height="29" fill="#c0c0c0"/>
<rect x="851" y="683" width="1" height="29" fill="#c0c0c0"/>
<rect x="855" y="683" width="1" height="27" fill="#c0c0c0"/>
<rect x="859" y="683" width="1" height="26" fill="#c0c0c0"/>
<rect x="863" y="683" width="1" height="24" fill="#c0c0c0"/>
<rect x="867" y="683" width="1" height="22" fill="#c0c0c0"/>
<rect x="871" y="683" width="1" height="21" fill="#c0c0c0"/>
<rect x="875" y="683" width="1" height="15" fill="#c0c0c0"/>
<rect x="879" y="683" width="1" height="11" fill="#c0c0c0"/>
<rect x="883" y="683" width="1" height="6" fill="#c0c0c0"/>
<rect x="887" y="681" width="1" height="3" fill="#c0c0c0"/>
<rect x="891" y="674" width="1" height="10" fill="#c0c0c0"/>
<rect x="895" y="670" width="1" height="14" fill="#c0c0c0"/>
<rect x="899" y="665" width="1" height="19" fill="#c0c0c0"/>
<rect x="903" y="658" width="1" height="26" fill="#c0c0c0"/>
<rect x="907" y="652" width="1" height="32" fill="#c0c0c0"/>
<rect x="911" y="644" width="1" height="40" fill="#c0c0c0"/>
<rect x="915" y="642" width="1" height="42" fill="#c0c0c0"/>
<rect x="919" y="642" width="1" height="42" fill="#c0c0c0"/>
<rect x="923" y="649" width="1" height="35" fill="#c0c0c0"/>
<rect x="927" y="655" width="1" height="29" fill="#c0c0c0"/>
<rect x="931" y="660" width="1" height="24" fill="#c0c0c0"/>
<rect x="935" y="662" width="1" height="22" fill="#c0c0c0"/>
<rect x="939" y="669" width="1" height="15" fill="#c0c0c0"/>
<rect x="943" y="680" width="1" height="4" fill="#c0c0c0"/>
<rect x="947" y="683" width="1" height="10" fill="#c0c0c0"/>
<rect x="951" y="683" width="1" height="20" fill="#c0c0c0"/>
<rect x="955" y="683" width="1" height="29" fill="#c0c0c0"/>
<rect x="959" y="683" width="1" height="32" fill="#c0c0c0"/>
<rect x="963" y="683" width="1" height="33" fill="#c0c0c0"/>
<rect x="967" y="683" width="1" height="32" fill="#c0c0c0"/>
<rect x="971" y="683" width="1" height="25" fill="#c0c0c0"/>
<rect x="975" y="683" width="1" height="18" fill="#c0c0c0"/>
<rect x="979" y="683" width="1" height="10" fill="#c0c0c0"/>
<rect x="983" y="683" width="1" height="7" fill="#c0c0c0"/>
<rect x="987" y="683" width="1" height="5" fill="#c0c0c0"/>
<rect x="991" y="683" width="1" height="6" fill="#c0c0c0"/>
<rect x="995" y="683" width="1" height="9" fill="#c0c0c0"/>
<rect x="999" y="683" width="1" height="13" fill="#c0c0c0"/>
<rect x="1003" y="683" width="1" height="16" fill="#c0c0c0"/>
<rect x="1007" y="683" width="1" height="18" fill="#c0c0c0"/>
<rect x="1011" y="683" width="1" height="17" fill="#c0c0c0"/>
<rect x="1015" y="683" width="1" height="17" fill="#c0c0c0"/>
<rect x="1019" y="683" width="1" height="14" fill="#c0c0c0"/>
<rect x="1023" y="683" width="1" height="12" fill="#c0c0c0"/>
<rect x="1027" y="683" width="1" height="10" fill="#c0c0c0"/>
<rect x="1031" y="683" width="1" height="9" fill="#c0c0c0"/>
<rect x="1035" y="683" width="1" height="7" fill="#c0c0c0"/>
<rect x="1039" y="683" width="1" height="6" fill="#c0c0c0"/>
<rect x="1043" y="683" width="1" height="8" fill="#c0c0c0"/>
<rect x="1047" y="683" width="1" height="8" fill="#c0c0c0"/>
<rect x="1051" y="683" width="1" height="9" fill="#c0c0c0"/>
<rect x="1055" y="683" width="1" height="9" fill="#c0c0c0"/>
<rect x="1059" y="683" width="1" height="10" fill="#c0c0c0"/>
<rect x="1063" y="683" width="1" height="11" fill="#c0c0c0"/>
<rect x="1067" y="683" width="1" height="12" fill="#c0c0c0"/>
<rect x="1071" y="683" width="1" height="14" fill="#c0c0c0"/>
<rect x="1075" y="683" width="1" height="15" fill="#c0c0c0"/>
<rect x="1079" y="683" width="1" height="14" fill="#c0c0c0"/>
<rect x="1083" y="683" width="1" height="13" fill="#c0c0c0"/>
<rect x="1087" y="683" width="1" height="12" fill="#c0c0c0"/>
<rect x="1091" y="683" width="1" height="9" fill="#c0c0c0"/>
<rect x="1095" y="683" width="1" height="3" fill="#c0c0c0"/>
<rect x="1099" y="682" width="1" height="2" fill="#c0c0c0"/>
<rect x="1103" y="682" width="1" height="2" fill="#c0c0c0"/>
<rect x="1107" y="683" width="1" height="2" fill="#c0c0c0"/>
<rect x="1111" y="683" width="1" height="4" fill="#c0c0c0"/>
<rect x="1115" y="683" width="1" height="6" fill="#c0c0c0"/>
<rect x="1119" y="683" width="1" height="6" fill="#c0c0c0"/>
<rect x="1123" y="683" width="1" height="6" fill="#c0c0c0"/>
<rect x="1127" y="683" width="1" height="7" fill="#c0c0c0"/>
<rect x="1131" y="683" width="1" height="6" fill="#c0c0c0"/>
<rect x="1135" y="683" width="1" height="7" fill="#c0c0c0"/>
<rect x="1139" y="683" width="1" height="8" fill="#c0c0c0"/>
<rect x="1143" y="683" width="1" height="9" fill="#c0c0c0"/>
<rect x="1147" y="683" width="1" height="9" fill="#c0c0c0"/>
<rect x="1151" y="683" width="1" height="6" fill="#c0c0c0"/>
<rect x="1155" y="683" width="1" height="3" fill="#c0c0c0"/>
<rect x="1159" y="681" width="1" height="3" fill="#c0c0c0"/>
<rect x="1163" y="679" width="1" height="5" fill="#c0c0c0"/>
<rect x="1167" y="679" width="1" height="5" fill="#c0c0c0"/>
<rect x="1171" y="679" width="1" height="5" fill="#c0c0c0"/>
<rect x="1175" y="679" width="1" height="5" fill="#c0c0c0"/>
<rect x="1179" y="677" width="1" height="7" fill="#c0c0c0"/>
<rect x="1183" y="675" width="1" height="9" fill="#c0c0c0"/>
<rect x="1187" y="671" width="1" height="13" fill="#c0c0c0"/>
<rect x="1191" y="667" width="1" height="17" fill="#c0c0c0"/>
<rect x="1195" y="663" width="1" height="21" fill="#c0c0c0"/>
<rect x="1199" y="661" width="1" height="23" fill="#c0c0c0"/>
<rect x="1203" y="657" width="1" height="27" fill="#c0c0c0"/>
<rect x="1207" y="652" width="1" height="32" fill="#c0c0c0"/>
<rect x="1211" y="646" width="1" height="38" fill="#c0c0c0"/>
<rect x="1215" y="643" width="1" height="41" fill="#c0c0c0"/>
<rect x="1219" y="641" width="1" height="43" fill="#c0c0c0"/>
<rect x="1223" y="639" width="1" height="45" fill="#c0c0c0"/>
<rect x="1227" y="637" width="1" height="47" fill="#c0c0c0"/>
<rect x="1231" y="636" width="1" height="48" fill="#c0c0c0"/>
<rect x="1235" y="635" width="1" height="49" fill="#c0c0c0"/>
<rect x="1239" y="638" width="1" height="46" fill="#c0c0c0"/>
<rect x="1243" y="642" width="1" height="42" fill="#c0c0c0"/>
<rect x="1247" y="644" width="1" height="40" fill="#c0c0c0"/>
<rect x="1251" y="647" width="1" height="37" fill="#c0c0c0"/>
<rect x="1255" y="651" width="1" height="33" fill="#c0c0c0"/>
<rect x="1259" y="654" width="1" height="30" fill="#c0c0c0"/>
<rect x="1263" y="658" width="1" height="26" fill="#c0c0c0"/>
<rect x="1267" y="661" width="1" height="23" fill="#c0c0c0"/>
<rect x="1271" y="664" width="1" height="20" fill="#c0c0c0"/>
<rect x="7" y="675" width="2" height="1" fill="#ff0000"/>
<rect x="9" y="676" width="1" height="1" fill="#ff0000"/>
<rect x="13" y="676" width="3" height="1" fill="#ff0000"/>
<rect x="19" y="677" width="3" height="1" fill="#ff0000"/>
<rect x="25" y="676" width="3" height="1" fill="#ff0000"/>
<rect x="31" y="675" width="2" height="1" fill="#ff0000"/>
<rect x="33" y="674" width="1" height="1" fill="#ff0000"/>
<rect x="37" y="673" width="3" height="1" fill="#ff0000"/>
<rect x="43" y="671" width="2" height="1" fill="#ff0000"/>
<rect x="45" y="670" width="1" height="1" fill="#ff0000"/>
<rect x="49" y="669" width="3" height="1" fill="#ff0000"/>
<rect x="55" y="669" width="3" height="1" fill="#ff0000"/>
<rect x="61" y="670" width="1" height="1" fill="#ff0000"/>
<rect x="62" y="671" width="2" height="1" fill="#ff0000"/>
<rect x="67" y="672" width="1" height="1" fill="#ff0000"/>
<rect x="68" y="673" width="2" height="1" fill="#ff0000"/>
<rect x="73" y="675" width="1" height="1" fill="#ff0000"/>
<rect x="74" y="676" width="2" height="1" fill="#ff0000"/>
<rect x="79" y="679" width="1" height="1" fill="#ff0000"/>
<rect x="80" y="680" width="2" height="1" fill="#ff0000"/>
<rect x="85" y="682" width="3" height="1" fill="#ff0000"/>
<rect x="91" y="684" width="2" height="1" fill="#ff0000"/>
<rect x="93" y="685" width="1" height="1" fill="#ff0000"/>
<rect x="97" y="686" width="3" height="1" fill="#ff0000"/>
<rect x="103" y="686" width="2" height="1" fill="#ff0000"/>
<rect x="105" y="687" width="1" height="1" fill="#ff0000"/>
<rect x="109" y="687" width="3" height="1" fill="#ff0000"/>
<rect x="115" y="687" width="2" height="1" fill="#ff0000"/>
<rect x="117" y="688" width="1" height="1" fill="#ff0000"/>
<rect x="121" y="688" width="3" height="1" fill="#ff0000"/>
<rect x="127" y="689" width="2" height="1" fill="#ff0000"/>
<rect x="129" y="690" width="1" height="1" fill="#ff0000"/>
<rect x="133" y="691" width="3" height="1" fill="#ff0000"/>
<rect x="139" y="692" width="2" height="1" fill="#ff0000"/>
<rect x="141" y="693" width="1" height="1" fill="#ff0000"/>
<rect x="145" y="694" width="3" height="1" fill="#ff0000"/>
<rect x="151" y="695" width="2" height="1" fill="#ff0000"/>
<rect x="153" y="696" width="1" height="1" fill="#ff0000"/>
<rect x="157" y="697" width="3" height="1" fill="#ff0000"/>
<rect x="163" y="698" width="3" height="1" fill="#ff0000"/>
<rect x="169" y="698" width="3" height="1" fill="#ff0000"/>
<rect x="175" y="697" width="2" height="1" fill="#ff0000"/>
<rect x="177" y="696" width="1" height="1" fill="#ff0000"/>
<rect x="181" y="695" width="3" height="1" fill="#ff0000"/>
<rect x="187" y="693" width="2" height="1" fill="#ff0000"/>
<rect x="189" y="692" width="1" height="1" fill="#ff0000"/>
<rect x="193" y="691" width="1" height="1" fill="#ff0000"/>
<rect x="194" y="690" width="2" height="1" fill="#ff0000"/>
<rect x="199" y="689" width="2" height="1" fill="#ff0000"/>
<rect x="201" y="688" width="1" height="1" fill="#ff0000"/>
<rect x="205" y="687" width="3" height="1" fill="#ff0000"/>
<rect x="211" y="687" width="2" height="1" fill="#ff0000"/>
<rect x="213" y="688" width="1" height="1" fill="#ff0000"/>
<rect x="217" y="689" width="3" height="1" fill="#ff0000"/>
<rect x="223" y="690" width="2" height="1" fill="#ff0000"/>
<rect x="225" y="691" width="1" height="1" fill="#ff0000"/>
<rect x="229" y="691" width="3" height="1" fill="#ff0000"/>
<rect x="235" y="692" width="3" height="1" fill="#ff0000"/>
<rect x="241" y="692" width="3" height="1" fill="#ff0000"/>
<rect x="247" y="693" width="3" height="1" fill="#ff0000"/>
<rect x="253" y="693" width="3" height="1" fill="#ff0000"/>
<rect x="259" y="693" width="2" height="1" fill="#ff0000"/>
<rect x="261" y="694" width="1" height="1" fill="#ff0000"/>
<rect x="265" y="695" width="3" height="1" fill="#ff0000"/>
<rect x="271" y="696" width="2" height="1" fill="#ff0000"/>
<rect x="273" y="697" width="1" height="1" fill="#ff0000"/>
<rect x="277" y="698" width="3" height="1" fill="#ff0000"/>
<rect x="283" y="699" width="3" height="1" fill="#ff0000"/>
<rect x="289" y="699" width="3" height="1" fill="#ff0000"/>
<rect x="295" y="699" width="2" height="1" fill="#ff0000"/>
<rect x="297" y="698" width="1" height="1" fill="#ff0000"/>
<rect x="301" y="697" width="3" height="1" fill="#ff0000"/>
<rect x="307" y="695" width="2" height="1" fill="#ff0000"/>
<rect x="309" y="694" width="1" height="1" fill="#ff0000"/>
<rect x="313" y="693" width="3" height="1" fill="#ff0000"/>
<rect x="319" y="692" width="3" height="1" fill="#ff0000"/>
<rect x="325" y="691" width="3" height="1" fill="#ff0000"/>
<rect x="331" y="690" width="3" height="1" fill="#ff0000"/>
<rect x="337" y="690" width="3" height="1" fill="#ff0000"/>
<rect x="343" y="690" width="2" height="1" fill="#ff0000"/>
<rect x="345" y="691" width="1" height="1" fill="#ff0000"/>
<rect x="349" y="691" width="3" height="1" fill="#ff0000"/>
<rect x="355" y="692" width="2" height="1" fill="#ff0000"/>
<rect x="357" y="693" width="1" height="1" fill="#ff0000"/>
<rect x="361" y="694" width="3" height="1" fill="#ff0000"/>
<rect x="367" y="695" width="2" height="1" fill="#ff0000"/>
<rect x="369" y="696" width="1" height="1" fill="#ff0000"/>
<rect x="373" y="696" width="3" height="1" fill="#ff0000"/>
<rect x="379" y="696" width="3" height="1" fill="#ff0000"/>
<rect x="385" y="695" width="3" height="1" fill="#ff0000"/>
<rect x="391" y="695" width="2" height="1" fill="#ff0000"/>
<rect x="393" y="694" width="1" height="1" fill="#ff0000"/>
<rect x="397" y="693" width="3" height="1" fill="#ff0000"/>
<rect x="403" y="691" width="2" height="1" fill="#ff0000"/>
<rect x="405" y="690" width="1" height="1" fill="#ff0000"/>
<rect x="409" y="689" width="1" height="1" fill="#ff0000"/>
<rect x="410" y="688" width="2" height="1" fill="#ff0000"/>
<rect x="415" y="687" width="1" height="1" fill="#ff0000"/>
<rect x="416" y="686" width="2" height="1" fill="#ff0000"/>
<rect x="421" y="684" width="1" height="1" fill="#ff0000"/>
<rect x="422" y="683" width="2" height="1" fill="#ff0000"/>
<rect x="427" y="681" width="1" height="1" fill="#ff0000"/>
<rect x="428" y="680" width="2" height="1" fill="#ff0000"/>
<rect x="433" y="678" width="1" height="1" fill="#ff0000"/>
<rect x="434" y="677" width="2" height="1" fill="#ff0000"/>
<rect x="439" y="675" width="1" height="1" fill="#ff0000"/>
<rect x="440" y="674" width="2" height="1" fill="#ff0000"/>
<rect x="445" y="672" width="3" height="1" fill="#ff0000"/>
<rect x="451" y="671" width="3" height="1" fill="#ff0000"/>
<rect x="457" y="671" width="3" height="1" fill="#ff0000"/>
<rect x="463" y="671" width="3" height="1" fill="#ff0000"/>
<rect x="469" y="671" width="3" height="1" fill="#ff0000"/>
<rect x="475" y="671" width="2" height="1" fill="#ff0000"/>
<rect x="477" y="672" width="1" height="1" fill="#ff0000"/>
<rect x="481" y="672" width="3" height="1" fill="#ff0000"/>
<rect x="487" y="672" width="2" height="1" fill="#ff0000"/>
<rect x="489" y="673" width="1" height="1" fill="#ff0000"/>
<rect x="493" y="673" width="3" height="1" fill="#ff0000"/>
<rect x="499" y="675" width="2" height="1" fill="#ff0000"/>
<rect x="501" y="676" width="1" height="1" fill="#ff0000"/>
<rect x="505" y="677" width="1" height="1" fill="#ff0000"/>
<rect x="506" y="678" width="2" height="1" fill="#ff0000"/>
<rect x="511" y="680" width="1" height="1" fill="#ff0000"/>
<rect x="512" y="681" width="2" height="1" fill="#ff0000"/>
<rect x="517" y="683" width="1" height="1" fill="#ff0000"/>
<rect x="518" y="684" width="2" height="1" fill="#ff0000"/>
<rect x="523" y="685" width="2" height="1" fill="#ff0000"/>
<rect x="525" y="686" width="1" height="1" fill="#ff0000"/>
<rect x="529" y="687" width="3" height="1" fill="#ff0000"/>
<rect x="535" y="687" width="3" height="1" fill="#ff0000"/>
<rect x="541" y="687" width="3" height="1" fill="#ff0000"/>
<rect x="547" y="686" width="3" height="1" fill="#ff0000"/>
<rect x="553" y="686" width="3" height="1" fill="#ff0000"/>
<rect x="559" y="686" width="2" height="1" fill="#ff0000"/>
<rect x="561" y="687" width="1" height="1" fill="#ff0000"/>
<rect x="565" y="687" width="3" height="1" fill="#ff0000"/>
<rect x="571" y="687" width="2" height="1" fill="#ff0000"/>
<rect x="573" y="688" width="1" height="1" fill="#ff0000"/>
<rect x="577" y="688" width="3" height="1" fill="#ff0000"/>
<rect x="583" y="687" width="3" height="1" fill="#ff0000"/>
<rect x="589" y="686" width="3" height="1" fill="#ff0000"/>
<rect x="595" y="686" width="2" height="1" fill="#ff0000"/>
<rect x="597" y="685" width="1" height="1" fill="#ff0000"/>
<rect x="601" y="684" width="3" height="1" fill="#ff0000"/>
<rect x="607" y="683" width="2" height="1" fill="#ff0000"/>
<rect x="609" y="682" width="1" height="1" fill="#ff0000"/>
<rect x="613" y="681" width="3" height="1" fill="#ff0000"/>
<rect x="619" y="680" width="3" height="1" fill="#ff0000"/>
<rect x="625" y="679" width="3" height="1" fill="#ff0000"/>
<rect x="631" y="678" width="2" height="1" fill="#ff0000"/>
<rect x="633" y="677" width="1" height="1" fill="#ff0000"/>
<rect x="637" y="676" width="3" height="1" fill="#ff0000"/>
<rect x="643" y="676" width="3" height="1" fill="#ff0000"/>
<rect x="649" y="676" width="3" height="1" fill="#ff0000"/>
<rect x="655" y="677" width="3" height="1" fill="#ff0000"/>
<rect x="661" y="677" width="3" height="1" fill="#ff0000"/>
<rect x="667" y="678" width="3" height="1" fill="#ff0000"/>
<rect x="673" y="677" width="3" height="1" fill="#ff0000"/>
<rect x="679" y="676" width="2" height="1" fill="#ff0000"/>
<rect x="681" y="675" width="1" height="1" fill="#ff0000"/>
<rect x="685" y="674" width="3" height="1" fill="#ff0000"/>
<rect x="691" y="673" width="2" height="1" fill="#ff0000"/>
<rect x="693" y="672" width="1" height="1" fill="#ff0000"/>
<rect x="697" y="672" width="3" height="1" fill="#ff0000"/>
<rect x="703" y="672" width="3" height="1" fill="#ff0000"/>
<rect x="709" y="673" width="3" height="1" fill="#ff0000"/>
<rect x="715" y="674" width="2" height="1" fill="#ff0000"/>
<rect x="717" y="675" width="1" height="1" fill="#ff0000"/>
<rect x="721" y="676" width="1" height="1" fill="#ff0000"/>
<rect x="722" y="677" width="2" height="1" fill="#ff0000"/>
<rect x="727" y="678" width="2" height="1" fill="#ff0000"/>
<rect x="729" y="679" width="1" height="1" fill="#ff0000"/>
<rect x="733" y="680" width="3" height="1" fill="#ff0000"/>
<rect x="739" y="681" width="3" height="1" fill="#ff0000"/>
<rect x="745" y="682" width="3" height="1" fill="#ff0000"/>
<rect x="751" y="683" width="2" height="1" fill="#ff0000"/>
<rect x="753" y="684" width="1" height="1" fill="#ff0000"/>
<rect x="757" y="685" width="3" height="1" fill="#ff0000"/>
<rect x="763" y="686" width="1" height="1" fill="#ff0000"/>
<rect x="764" y="687" width="2" height="1" fill="#ff0000"/>
<rect x="769" y="689" width="3" height="1" fill="#ff0000"/>
<rect x="775" y="690" width="2" height="1" fill="#ff0000"/>
<rect x="777" y="691" width="1" height="1" fill="#ff0000"/>
<rect x="781" y="692" width="3" height="1" fill="#ff0000"/>
<rect x="787" y="693" width="3" height="1" fill="#ff0000"/>
<rect x="793" y="693" width="3" height="1" fill="#ff0000"/>
<rect x="799" y="693" width="3" height="1" fill="#ff0000"/>
<rect x="805" y="693" width="3" height="1" fill="#ff0000"/>
<rect x="811" y="693" width="3" height="1" fill="#ff0000"/>
<rect x="817" y="694" width="3" height="1" fill="#ff0000"/>
<rect x="823" y="695" width="1" height="1" fill="#ff0000"/>
<rect x="824" y="696" width="2" height="1" fill="#ff0000"/>
<rect x="829" y="698" width="1" height="1" fill="#ff0000"/>
<rect x="830" y="699" width="2" height="1" fill="#ff0000"/>
<rect x="835" y="700" width="1" height="1" fill="#ff0000"/>
<rect x="836" y="701" width="2" height="1" fill="#ff0000"/>
<rect x="841" y="703" width="1" height="1" fill="#ff0000"/>
<rect x="842" y="704" width="2" height="1" fill="#ff0000"/>
<rect x="847" y="705" width="1" height="1" fill="#ff0000"/>
<rect x="848" y="706" width="2" height="1" fill="#ff0000"/>
<rect x="853" y="708" width="3" height="1" fill="#ff0000"/>
<rect x="859" y="708" width="2" height="1" fill="#ff0000"/>
<rect x="861" y="709" width="1" height="1" fill="#ff0000"/>
<rect x="865" y="708" width="3" height="1" fill="#ff0000"/>
<rect x="871" y="708" width="2" height="1" fill="#ff0000"/>
<rect x="873" y="707" width="1" height="1" fill="#ff0000"/>
<rect x="877" y="706" width="1" height="1" fill="#ff0000"/>
<rect x="878" y="705" width="2" height="1" fill="#ff0000"/>
<rect x="883" y="702" width="1" height="1" fill="#ff0000"/>
<rect x="884" y="701" width="1" height="1" fill="#ff0000"/>
<rect x="885" y="700" width="1" height="1" fill="#ff0000"/>
<rect x="889" y="697" width="1" height="1" fill="#ff0000"/>
<rect x="890" y="696" width="1" height="1" fill="#ff0000"/>
<rect x="891" y="695" width="1" height="1" fill="#ff0000"/>
<rect x="895" y="691" width="1" height="1" fill="#ff0000"/>
<rect x="896" y="690" width="1" height="1" fill="#ff0000"/>
<rect x="897" y="689" width="1" height="1" fill="#ff0000"/>
<rect x="900" y="685" width="1" height="1" fill="#ff0000"/>
<rect x="901" y="684" width="1" height="1" fill="#ff0000"/>
<rect x="901" y="683" width="1" height="1" fill="#ff0000"/>
<rect x="904" y="679" width="1" height="1" fill="#ff0000"/>
<rect x="905" y="678" width="1" height="1" fill="#ff0000"/>
<rect x="906" y="677" width="1" height="1" fill="#ff0000"/>
<rect x="908" y="673" width="1" height="1" fill="#ff0000"/>
<rect x="909" y="672" width="1" height="1" fill="#ff0000"/>
<rect x="910" y="671" width="1" height="1" fill="#ff0000"/>
<rect x="913" y="667" width="1" height="1" fill="#ff0000"/>
<rect x="913" y="666" width="1" height="1" fill="#ff0000"/>
<rect x="914" y="665" width="1" height="1" fill="#ff0000"/>
<rect x="917" y="661" width="1" height="1" fill="#ff0000"/>
<rect x="918" y="660" width="1" height="1" fill="#ff0000"/>
<rect x="918" y="659" width="1" height="1" fill="#ff0000"/>
<rect x="922" y="656" width="1" height="1" fill="#ff0000"/>
<rect x="923" y="655" width="1" height="1" fill="#ff0000"/>
<rect x="924" y="654" width="1" height="1" fill="#ff0000"/>
<rect x="928" y="653" width="1" height="1" fill="#ff0000"/>
<rect x="929" y="652" width="2" height="1" fill="#ff0000"/>
<rect x="934" y="651" width="2" height="1" fill="#ff0000"/>
<rect x="936" y="652" width="1" height="1" fill="#ff0000"/>
<rect x="940" y="654" width="1" height="1" fill="#ff0000"/>
<rect x="941" y="655" width="2" height="1" fill="#ff0000"/>
<rect x="945" y="659" width="1" height="1" fill="#ff0000"/>
<rect x="946" y="660" width="1" height="1" fill="#ff0000"/>
<rect x="947" y="661" width="1" height="1" fill="#ff0000"/>
<rect x="949" y="665" width="1" height="1" fill="#ff0000"/>
<rect x="950" y="666" width="1" height="1" fill="#ff0000"/>
<rect x="950" y="667" width="1" height="1" fill="#ff0000"/>
<rect x="953" y="671" width="1" height="1" fill="#ff0000"/>
<rect x="953" y="672" width="1" height="1" fill="#ff0000"/>
<rect x="954" y="673" width="1" height="1" fill="#ff0000"/>
<rect x="956" y="677" width="1" height="1" fill="#ff0000"/>
<rect x="956" y="678" width="1" height="1" fill="#ff0000"/>
<rect x="957" y="679" width="1" height="1" fill="#ff0000"/>
<rect x="959" y="683" width="1" height="1" fill="#ff0000"/>
<rect x="960" y="684" width="1" height="1" fill="#ff0000"/>
<rect x="960" y="685" width="1" height="1" fill="#ff0000"/>
<rect x="963" y="689" width="1" height="1" fill="#ff0000"/>
<rect x="964" y="690" width="1" height="1" fill="#ff0000"/>
<rect x="964" y="691" width="1" height="1" fill="#ff0000"/>
<rect x="967" y="695" width="1" height="1" fill="#ff0000"/>
<rect x="968" y="696" width="1" height="1" fill="#ff0000"/>
<rect x="969" y="697" width="1" height="1" fill="#ff0000"/>
<rect x="972" y="701" width="1" height="1" fill="#ff0000"/>
<rect x="973" y="702" width="1" height="1" fill="#ff0000"/>
<rect x="974" y="703" width="1" height="1" fill="#ff0000"/>
<rect x="978" y="705" width="3" height="1" fill="#ff0000"/>
<rect x="984" y="704" width="2" height="1" fill="#ff0000"/>
<rect x="986" y="703" width="1" height="1" fill="#ff0000"/>
<rect x="990" y="701" width="2" height="1" fill="#ff0000"/>
<rect x="992" y="700" width="1" height="1" fill="#ff0000"/>
<rect x="996" y="697" width="2" height="1" fill="#ff0000"/>
<rect x="998" y="696" width="1" height="1" fill="#ff0000"/>
<rect x="1002" y="694" width="3" height="1" fill="#ff0000"/>
<rect x="1008" y="693" width="3" height="1" fill="#ff0000"/>
<rect x="1014" y="694" width="3" height="1" fill="#ff0000"/>
<rect x="1020" y="695" width="1" height="1" fill="#ff0000"/>
<rect x="1021" y="696" width="2" height="1" fill="#ff0000"/>
<rect x="1026" y="696" width="3" height="1" fill="#ff0000"/>
<rect x="1032" y="696" width="1" height="1" fill="#ff0000"/>
<rect x="1033" y="695" width="2" height="1" fill="#ff0000"/>
<rect x="1038" y="694" width="3" height="1" fill="#ff0000"/>
<rect x="1044" y="693" width="1" height="1" fill="#ff0000"/>
<rect x="1045" y="692" width="2" height="1" fill="#ff0000"/>
<rect x="1050" y="691" width="3" height="1" fill="#ff0000"/>
<rect x="1056" y="691" width="1" height="1" fill="#ff0000"/>
<rect x="1057" y="690" width="2" height="1" fill="#ff0000"/>
<rect x="1062" y="691" width="3" height="1" fill="#ff0000"/>
<rect x="1068" y="691" width="1" height="1" fill="#ff0000"/>
<rect x="1069" y="692" width="2" height="1" fill="#ff0000"/>
<rect x="1074" y="693" width="3" height="1" fill="#ff0000"/>
<rect x="1080" y="693" width="1" height="1" fill="#ff0000"/>
<rect x="1081" y="694" width="2" height="1" fill="#ff0000"/>
<rect x="1086" y="694" width="3" height="1" fill="#ff0000"/>
<rect x="1092" y="694" width="1" height="1" fill="#ff0000"/>
<rect x="1093" y="693" width="2" height="1" fill="#ff0000"/>
<rect x="1098" y="692" width="3" height="1" fill="#ff0000"/>
<rect x="1104" y="691" width="1" height="1" fill="#ff0000"/>
<rect x="1105" y="690" width="2" height="1" fill="#ff0000"/>
<rect x="1110" y="688" width="3" height="1" fill="#ff0000"/>
<rect x="1116" y="687" width="3" height="1" fill="#ff0000"/>
<rect x="1122" y="686" width="3" height="1" fill="#ff0000"/>
<rect x="1128" y="686" width="3" height="1" fill="#ff0000"/>
<rect x="1134" y="687" width="3" height="1" fill="#ff0000"/>
<rect x="1140" y="688" width="1" height="1" fill="#ff0000"/>
<rect x="1141" y="689" width="2" height="1" fill="#ff0000"/>
<rect x="1146" y="689" width="3" height="1" fill="#ff0000"/>
<rect x="1152" y="689" width="3" height="1" fill="#ff0000"/>
<rect x="1158" y="688" width="3" height="1" fill="#ff0000"/>
<rect x="1164" y="687" width="1" height="1" fill="#ff0000"/>
<rect x="1165" y="686" width="2" height="1" fill="#ff0000"/>
<rect x="1170" y="685" width="2" height="1" fill="#ff0000"/>
<rect x="1172" y="684" width="1" height="1" fill="#ff0000"/>
<rect x="1176" y="683" width="1" height="1" fill="#ff0000"/>
<rect x="1177" y="682" width="2" height="1" fill="#ff0000"/>
<rect x="1182" y="680" width="2" height="1" fill="#ff0000"/>
<rect x="1184" y="679" width="1" height="1" fill="#ff0000"/>
<rect x="1188" y="677" width="2" height="1" fill="#ff0000"/>
<rect x="1190" y="676" width="1" height="1" fill="#ff0000"/>
<rect x="1194" y="674" width="2" height="1" fill="#ff0000"/>
<rect x="1196" y="673" width="1" height="1" fill="#ff0000"/>
<rect x="1200" y="671" width="2" height="1" fill="#ff0000"/>
<rect x="1202" y="670" width="1" height="1" fill="#ff0000"/>
<rect x="1206" y="668" width="1" height="1" fill="#ff0000"/>
<rect x="1207" y="667" width="1" height="1" fill="#ff0000"/>
<rect x="1208" y="666" width="1" height="1" fill="#ff0000"/>
<rect x="1212" y="662" width="1" height="1" fill="#ff0000"/>
<rect x="1213" y="661" width="1" height="1" fill="#ff0000"/>
<rect x="1214" y="660" width="1" height="1" fill="#ff0000"/>
<rect x="1218" y="657" width="1" height="1" fill="#ff0000"/>
<rect x="1219" y="656" width="1" height="1" fill="#ff0000"/>
<rect x="1220" y="655" width="1" height="1" fill="#ff0000"/>
<rect x="1224" y="651" width="1" height="1" fill="#ff0000"/>
<rect x="1225" y="650" width="2" height="1" fill="#ff0000"/>
<rect x="1230" y="647" width="1" height="1" fill="#ff0000"/>
<rect x="1231" y="646" width="1" height="1" fill="#ff0000"/>
<rect x="1232" y="645" width="1" height="1" fill="#ff0000"/>
<rect x="1236" y="642" width="2" height="1" fill="#ff0000"/>
<rect x="1238" y="641" width="1" height="1" fill="#ff0000"/>
<rect x="1242" y="640" width="3" height="1" fill="#ff0000"/>
<rect x="1248" y="639" width="1" height="1" fill="#ff0000"/>
<rect x="1249" y="640" width="2" height="1" fill="#ff0000"/>
<rect x="1254" y="641" width="2" height="1" fill="#ff0000"/>
<rect x="1256" y="642" width="1" height="1" fill="#ff0000"/>
<rect x="1260" y="644" width="2" height="1" fill="#ff0000"/>
<rect x="1262" y="645" width="1" height="1" fill="#ff0000"/>
<rect x="1266" y="647" width="1" height="1" fill="#ff0000"/>
<rect x="1267" y="648" width="1" height="1" fill="#ff0000"/>
<rect x="1268" y="649" width="1" height="1" fill="#ff0000"/>
<rect x="1600" y="34" width="2" height="1" fill="#000"/>
<rect x="1600" y="67" width="2" height="1" fill="#000"/>
<rect x="1600" y="133" width="2" height="1" fill="#000"/>
<rect x="1600" y="166" width="2" height="1" fill="#000"/>
<rect x="1600" y="199" width="2" height="1" fill="#000"/>
<rect x="1600" y="232" width="2" height="1" fill="#000"/>
<rect x="1600" y="298" width="2" height="1" fill="#000"/>
<rect x="1600" y="331" width="2" height="1" fill="#000"/>
<rect x="1600" y="364" width="2" height="1" fill="#000"/>
<rect x="1600" y="397" width="2" height="1" fill="#000"/>
<rect x="1600" y="430" width="2" height="1" fill="#000"/>
<rect x="1600" y="463" width="2" height="1" fill="#000"/>
<rect x="1600" y="496" width="2" height="1" fill="#000"/>
<rect x="1600" y="529" width="2" height="1" fill="#000"/>
<rect x="1601" y="215" width="40" height="11" fill="#000"/>
<rect x="1601" y="94" width="40" height="11" fill="#ff0000"/>
<rect x="1601" y="150" width="40" height="11" fill="#ff0000"/>
<rect x="1601" y="206" width="40" height="11" fill="#00ff00"/>
<rect x="1601" y="260" width="40" height="11" fill="#0000ff"/>
<rect x="1601" y="315" width="40" height="11" fill="#0000ff"/>
<rect x="1600" y="536" width="1" height="1" fill="#000"/>
<rect x="1600" y="625" width="1" height="1" fill="#000"/>
<rect x="1600" y="630" width="1" height="1" fill="#000"/>
<rect x="1600" y="683" width="1" height="1" fill="#000"/>
<rect x="1600" y="719" width="1" height="1" fill="#000"/>
<rect x="10" y="33" width="7" height="1" fill="#000"/>
<rect x="11" y="34" width="5" height="1" fill="#000"/>
<rect x="12" y="35" width="3" height="1" fill="#000"/>
<rect x="13" y="36" width="1" height="1" fill="#000"/>
<rect x="7" y="721" width="1" height="3" fill="#000"/>
<rect x="71" y="721" width="1" height="3" fill="#000"/>
<rect x="135" y="721" width="1" height="3" fill="#000"/>
<rect x="199" y="721" width="1" height="3" fill="#000"/>
<rect x="263" y="721" width="1" height="3" fill="#000"/>
<rect x="327" y="721" width="1" height="3" fill="#000"/>
<rect x="391" y="721" width="1" height="3" fill="#000"/>
<rect x="455" y="721" width="1" height="3" fill="#000"/>
<rect x="519" y="721" width="1" height="3" fill="#000"/>
<rect x="583" y="721" width="1" height="3" fill="#000"/>
<rect x="647" y="721" width="1" height="3" fill="#000"/>
<rect x="711" y="721" width="1" height="3" fill="#000"/>
<rect x="775" y="721" width="1" height="3" fill="#000"/>
<rect x="839" y="721" width="1" height="3" fill="#000"/>
<rect x="903" y="721" width="1" height="3" fill="#000"/>
<rect x="967" y="721" width="1" height="3" fill="#000"/>
<rect x="1031" y="721" width="1" height="3" fill="#000"/>
<rect x="1095" y="721" width="1" height="3" fill="#000"/>
<rect x="1159" y="721" width="1" height="3" fill="#000"/>
<rect x="1223" y="721" width="1" height="3" fill="#000"/>
<rect x="2" y="741" width="1639" height="1" fill="#e8e8e8"/>
<rect x="0" y="742" width="1641" height="21" fill="#f0f0f0"/>
<rect x="2" y="743" width="1639" height="1" fill="#000"/>
<rect x="0" y="763" width="1641" height="3" fill="#fafafa"/>
<rect x="0" y="766" width="1641" height="2" fill="#b8b8b8"/>
<rect x="0" y="765" width="1641" height="1" fill="#e0e0e0"/>
<rect x="9" y="743" width="102" height="18" fill="#fff"/>
<rect x="8" y="743" width="1" height="19" fill="#000"/>
<rect x="8" y="761" width="104" height="1" fill="#000"/>
<rect x="111" y="743" width="1" height="19" fill="#000"/>
<rect x="9" y="762" width="104" height="1" fill="#808080"/>
<rect x="112" y="744" width="1" height="19" fill="#808080"/>
<rect x="2" y="744" width="1" height="18" fill="#a0a0a0"/>
<rect x="3" y="744" width="1" height="18" fill="#696969"/>
<rect x="0" y="762" width="4" height="1" fill="#a0a0a0"/>
<rect x="5" y="744" width="1" height="17" fill="#fafafa"/>
<rect x="6" y="744" width="1" height="17" fill="#fafafa"/>
<rect x="212" y="746" width="1" height="15" fill="#808080"/>
<rect x="316" y="746" width="1" height="15" fill="#808080"/>
<rect x="420" y="746" width="1" height="15" fill="#808080"/>
<rect x="524" y="746" width="1" height="15" fill="#808080"/>
<rect x="628" y="746" width="1" height="15" fill="#808080"/>
<rect x="720" y="746" width="1" height="15" fill="#808080"/>
<rect x="812" y="746" width="1" height="15" fill="#808080"/>
<rect x="884" y="746" width="1" height="15" fill="#808080"/>
<rect x="964" y="746" width="1" height="15" fill="#808080"/>
<rect x="1044" y="746" width="1" height="15" fill="#808080"/>
<rect x="1124" y="746" width="1" height="15" fill="#808080"/>
<rect x="1200" y="746" width="1" height="15" fill="#808080"/>
<rect x="1272" y="746" width="1" height="15" fill="#808080"/>
<rect x="1356" y="746" width="1" height="15" fill="#808080"/>
<rect x="1436" y="746" width="1" height="15" fill="#808080"/>
<rect x="1618" y="749" width="1" height="7" fill="#a0a0a0"/>
<rect x="1634" y="749" width="1" height="7" fill="#a0a0a0"/>
<rect x="1617" y="750" width="1" height="5" fill="#a0a0a0"/>
<rect x="1635" y="750" width="1" height="5" fill="#a0a0a0"/>
<rect x="1616" y="751" width="1" height="3" fill="#a0a0a0"/>
<rect x="1636" y="751" width="1" height="3" fill="#a0a0a0"/>
<rect x="1615" y="752" width="1" height="1" fill="#a0a0a0"/>
<rect x="1637" y="752" width="1" height="1" fill="#a0a0a0"/>
<g shape-rendering="auto"><text x="1605" y="38" font-size="10.2" fill="#000" stroke="#000" textLength="33" lengthAdjust="spacingAndGlyphs" >1.15265</text>
<text x="1605" y="71" font-size="10.2" fill="#000" stroke="#000" textLength="33" lengthAdjust="spacingAndGlyphs" >1.14650</text>
<text x="1605" y="137" font-size="10.2" fill="#000" stroke="#000" textLength="33" lengthAdjust="spacingAndGlyphs" >1.13450</text>
<text x="1605" y="170" font-size="10.2" fill="#000" stroke="#000" textLength="33" lengthAdjust="spacingAndGlyphs" >1.12850</text>
<text x="1605" y="203" font-size="10.2" fill="#000" stroke="#000" textLength="33" lengthAdjust="spacingAndGlyphs" >1.12235</text>
<text x="1605" y="236" font-size="10.2" fill="#000" stroke="#000" textLength="33" lengthAdjust="spacingAndGlyphs" >1.11635</text>
<text x="1605" y="302" font-size="10.2" fill="#000" stroke="#000" textLength="33" lengthAdjust="spacingAndGlyphs" >1.10435</text>
<text x="1605" y="335" font-size="10.2" fill="#000" stroke="#000" textLength="33" lengthAdjust="spacingAndGlyphs" >1.09820</text>
<text x="1605" y="368" font-size="10.2" fill="#000" stroke="#000" textLength="33" lengthAdjust="spacingAndGlyphs" >1.09220</text>
<text x="1605" y="401" font-size="10.2" fill="#000" stroke="#000" textLength="33" lengthAdjust="spacingAndGlyphs" >1.08620</text>
<text x="1605" y="434" font-size="10.2" fill="#000" stroke="#000" textLength="33" lengthAdjust="spacingAndGlyphs" >1.08020</text>
<text x="1605" y="467" font-size="10.2" fill="#000" stroke="#000" textLength="33" lengthAdjust="spacingAndGlyphs" >1.07405</text>
<text x="1605" y="500" font-size="10.2" fill="#000" stroke="#000" textLength="33" lengthAdjust="spacingAndGlyphs" >1.06805</text>
<text x="1605" y="533" font-size="10.2" fill="#000" stroke="#000" textLength="33" lengthAdjust="spacingAndGlyphs" >1.06205</text>
<text x="1605" y="224" font-size="10.2" fill="#fff" stroke="#fff" textLength="33" lengthAdjust="spacingAndGlyphs" >1.11867</text>
<text x="1605" y="103" font-size="10.2" fill="#fff" stroke="#fff" textLength="33" lengthAdjust="spacingAndGlyphs" >1.14047</text>
<text x="1605" y="159" font-size="10.2" fill="#fff" stroke="#fff" textLength="33" lengthAdjust="spacingAndGlyphs" >1.13034</text>
<text x="1605" y="215" font-size="10.2" fill="#fff" stroke="#fff" textLength="33" lengthAdjust="spacingAndGlyphs" >1.12004</text>
<text x="1605" y="269" font-size="10.2" fill="#fff" stroke="#fff" textLength="33" lengthAdjust="spacingAndGlyphs" >1.11009</text>
<text x="1605" y="324" font-size="10.2" fill="#fff" stroke="#fff" textLength="33" lengthAdjust="spacingAndGlyphs" >1.10008</text>
<text x="1602.4" y="545" font-size="10.2" fill="#000" stroke="#000" textLength="16" lengthAdjust="spacingAndGlyphs" >100</text>
<text x="1602.2" y="566" font-size="10.2" fill="#000" stroke="#000" textLength="10.5" lengthAdjust="spacingAndGlyphs" >70</text>
<text x="1602.2" y="602" font-size="10.2" fill="#000" stroke="#000" textLength="10.5" lengthAdjust="spacingAndGlyphs" >30</text>
<text x="1603" y="623" font-size="10.2" fill="#000" stroke="#000" textLength="5.3" lengthAdjust="spacingAndGlyphs" >0</text>
<text x="1603" y="639" font-size="10.2" fill="#000" stroke="#000" textLength="38" lengthAdjust="spacingAndGlyphs" >0.013121</text>
<text x="1603" y="687" font-size="10.2" fill="#000" stroke="#000" textLength="18.5" lengthAdjust="spacingAndGlyphs" >0.00</text>
<text x="1603" y="717" font-size="10.2" fill="#000" stroke="#000" textLength="42" lengthAdjust="spacingAndGlyphs" >-0.008933</text>
<text x="22" y="38" font-size="10.2" fill="#000" stroke="#000" textLength="63" lengthAdjust="spacingAndGlyphs" >EURUSD,Daily</text>
<text x="92" y="38" font-size="10.2" fill="#000" stroke="#000" textLength="141.5" lengthAdjust="spacingAndGlyphs" >1.11797 1.11885 1.11679 1.11867</text>
<text x="11" y="547" font-size="10.2" fill="#000" stroke="#000" textLength="68" lengthAdjust="spacingAndGlyphs" >RSI(14) 52.3252</text>
<text x="11" y="641" font-size="10.2" fill="#000" stroke="#000" textLength="148" lengthAdjust="spacingAndGlyphs" >MACD(12,26,9) 0.004689 0.007972</text>
<text transform="translate(6.5,733) scale(0.89,1)" font-size="10.2" fill="#000" stroke="#000">19 Jun 2019</text>
<text transform="translate(70.5,733) scale(0.89,1)" font-size="10.2" fill="#000" stroke="#000">8 Jul 2019</text>
<text transform="translate(134.5,733) scale(0.89,1)" font-size="10.2" fill="#000" stroke="#000">26 Jul 2019</text>
<text transform="translate(198.5,733) scale(0.89,1)" font-size="10.2" fill="#000" stroke="#000">14 Aug 2019</text>
<text transform="translate(262.5,733) scale(0.89,1)" font-size="10.2" fill="#000" stroke="#000">2 Sep 2019</text>
<text transform="translate(326.5,733) scale(0.89,1)" font-size="10.2" fill="#000" stroke="#000">20 Sep 2019</text>
<text transform="translate(390.5,733) scale(0.89,1)" font-size="10.2" fill="#000" stroke="#000">9 Oct 2019</text>
<text transform="translate(454.5,733) scale(0.89,1)" font-size="10.2" fill="#000" stroke="#000">28 Oct 2019</text>
<text transform="translate(518.5,733) scale(0.89,1)" font-size="10.2" fill="#000" stroke="#000">15 Nov 2019</text>
<text transform="translate(582.5,733) scale(0.89,1)" font-size="10.2" fill="#000" stroke="#000">4 Dec 2019</text>
<text transform="translate(646.5,733) scale(0.89,1)" font-size="10.2" fill="#000" stroke="#000">23 Dec 2019</text>
<text transform="translate(710.5,733) scale(0.89,1)" font-size="10.2" fill="#000" stroke="#000">10 Jan 2020</text>
<text transform="translate(774.5,733) scale(0.89,1)" font-size="10.2" fill="#000" stroke="#000">29 Jan 2020</text>
<text transform="translate(838.5,733) scale(0.89,1)" font-size="10.2" fill="#000" stroke="#000">17 Feb 2020</text>
<text transform="translate(902.5,733) scale(0.89,1)" font-size="10.2" fill="#000" stroke="#000">6 Mar 2020</text>
<text transform="translate(966.5,733) scale(0.89,1)" font-size="10.2" fill="#000" stroke="#000">25 Mar 2020</text>
<text transform="translate(1030.5,733) scale(0.89,1)" font-size="10.2" fill="#000" stroke="#000">13 Apr 2020</text>
<text transform="translate(1094.5,733) scale(0.89,1)" font-size="10.2" fill="#000" stroke="#000">1 May 2020</text>
<text transform="translate(1158.5,733) scale(0.89,1)" font-size="10.2" fill="#000" stroke="#000">20 May 2020</text>
<text transform="translate(1222.5,733) scale(0.89,1)" font-size="10.2" fill="#000" stroke="#000">8 Jun 2020</text>
<text x="20.5" y="758" font-size="12.6" fill="#000" textLength="80" lengthAdjust="spacingAndGlyphs" >EURUSD,Daily</text>
<text x="122.0" y="758" font-size="12.6" fill="#606060" textLength="79.5" lengthAdjust="spacingAndGlyphs" >USDCHF,Daily</text>
<text x="222.5" y="758" font-size="12.6" fill="#606060" textLength="83" lengthAdjust="spacingAndGlyphs" >AUDUSD,Daily</text>
<text x="327.0" y="758" font-size="12.6" fill="#606060" textLength="81.5" lengthAdjust="spacingAndGlyphs" >USDCAD,Daily</text>
<text x="430.0" y="758" font-size="12.6" fill="#606060" textLength="83.0" lengthAdjust="spacingAndGlyphs" >USDCNH,Daily</text>
<text x="535.5" y="758" font-size="12.6" fill="#606060" textLength="81" lengthAdjust="spacingAndGlyphs" >EURUSD,Daily</text>
<text x="640.0" y="758" font-size="12.6" fill="#606060" textLength="68.5" lengthAdjust="spacingAndGlyphs" >GBPUSD,H4</text>
<text x="730.5" y="758" font-size="12.6" fill="#606060" textLength="70" lengthAdjust="spacingAndGlyphs" >XAUUSD,H1</text>
<text x="823.2" y="758" font-size="12.6" fill="#606060" textLength="49.8" lengthAdjust="spacingAndGlyphs" >HK50,H1</text>
<text x="895.0" y="758" font-size="12.6" fill="#606060" textLength="57.5" lengthAdjust="spacingAndGlyphs" >UK100,H1</text>
<text x="975.0" y="758" font-size="12.6" fill="#606060" textLength="57.5" lengthAdjust="spacingAndGlyphs" >UK100,H1</text>
<text x="1055.0" y="758" font-size="12.6" fill="#606060" textLength="57.2" lengthAdjust="spacingAndGlyphs" >GER30,H1</text>
<text x="1134.0" y="758" font-size="12.6" fill="#606060" textLength="55.2" lengthAdjust="spacingAndGlyphs" >FRA40,H1</text>
<text x="1210.0" y="758" font-size="12.6" fill="#606060" textLength="51.5" lengthAdjust="spacingAndGlyphs" >USOil,H4</text>
<text x="1281.5" y="758" font-size="12.6" fill="#606060" textLength="63.7" lengthAdjust="spacingAndGlyphs" >USDJPY,H1</text>
<text x="1366.0" y="758" font-size="12.6" fill="#606060" textLength="59.2" lengthAdjust="spacingAndGlyphs" >DJ30,Daily</text></g>
<g shape-rendering="auto" opacity="0.999"><text x="46.400000000000006" y="14" font-size="10.2" fill="#3a3a3a" textLength="13.7" lengthAdjust="spacingAndGlyphs">M1</text>
<text x="74.2" y="14" font-size="10.2" fill="#3a3a3a" textLength="13.4" lengthAdjust="spacingAndGlyphs">M5</text>
<text x="100.2" y="14" font-size="10.2" fill="#3a3a3a" textLength="17.9" lengthAdjust="spacingAndGlyphs">M15</text>
<text x="128.2" y="14" font-size="10.2" fill="#3a3a3a" textLength="17.9" lengthAdjust="spacingAndGlyphs">M30</text>
<text x="159.0" y="14" font-size="10.2" fill="#3a3a3a" textLength="12.4" lengthAdjust="spacingAndGlyphs">H1</text>
<text x="185.7" y="14" font-size="10.2" fill="#3a3a3a" textLength="13.4" lengthAdjust="spacingAndGlyphs">H4</text>
<text x="215.2" y="14" font-size="10.2" fill="#3a3a3a" textLength="12.4" lengthAdjust="spacingAndGlyphs">D1</text>
<text x="242.2" y="14" font-size="10.2" fill="#3a3a3a" textLength="14.9" lengthAdjust="spacingAndGlyphs">W1</text>
<text x="269.2" y="14" font-size="10.2" fill="#3a3a3a" textLength="15.4" lengthAdjust="spacingAndGlyphs">MN</text></g>
</svg></body></html>
